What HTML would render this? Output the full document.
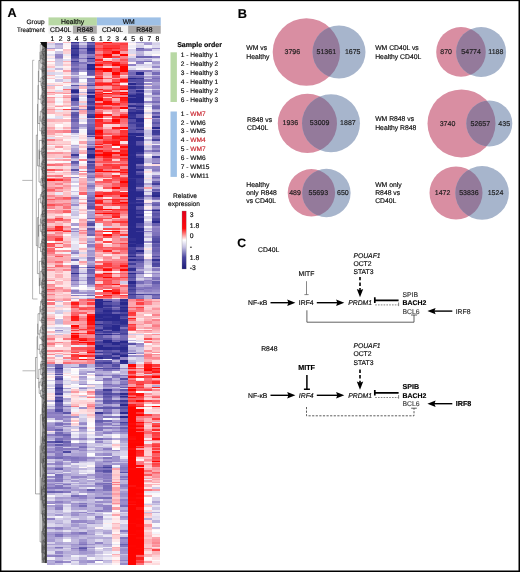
<!DOCTYPE html>
<html><head><meta charset="utf-8">
<style>
html,body{margin:0;padding:0;background:#fff;}
#root{position:relative;width:518px;height:570px;border:1px solid #000;overflow:hidden;box-shadow:inset 1px 0 0 rgba(0,0,0,.4),inset -1px 0 0 rgba(0,0,0,.5),inset 0 1px 0 rgba(0,0,0,.15),inset 0 -1px 0 rgba(0,0,0,.5);font-family:"Liberation Sans",sans-serif;color:#111;}
#heat{position:absolute;left:45.70px;top:41.00px;width:113.50px;height:522.50px;filter:blur(0.3px);}
.hc{position:absolute;top:0;height:100%;}
svg{position:absolute;left:-1px;top:-1px;will-change:transform;text-rendering:geometricPrecision;}
</style></head><body><div id="root">
<div id="heat"><div class="hc" style="left:0.00px;width:8.13px;background:linear-gradient(#fdc9cd 0 1.5px,#d4cee8 0 3.5px,#e2def0 0 6px,#a599d0 0 7.5px,#fdcbcf 0 9.5px,#f9f8fc 0 12px,#e0dcef 0 14px,#fee8ea 0 16px,#e5e1f1 0 17.5px,#fffafb 0 19px,#fdc3c8 0 20.5px,#fff5f5 0 22.5px,#fee0e2 0 24px,#fdc3c8 0 26px,#e6e3f2 0 28.5px,#fdc9cd 0 30px,#d8d3eb 0 32.5px,#fcbcc1 0 34px,#feeced 0 36.5px,#fdc7cc 0 37.5px,#faf9fc 0 40px,#fbfbfd 0 41px,#fdd5d9 0 43px,#c9c3e3 0 44.5px,#fdc0c5 0 47px,#fedee1 0 48px,#fedfe2 0 49.5px,#fa8a93 0 51.5px,#fdc0c5 0 52.5px,#fcb6bc 0 53.5px,#fef1f2 0 55px,#fb939c 0 56.5px,#fcbabf 0 59px,#fba5ac 0 61px,#fdd0d4 0 63px,#fdcfd2 0 64.5px,#fee0e2 0 65.5px,#fdc4c8 0 67px,#fb929a 0 68px,#fcbbc0 0 70px,#fcb7bd 0 72px,#fff6f7 0 74px,#f9f9fc 0 76px,#e2def0 0 77.5px,#fcaeb5 0 80px,#fdd8db 0 82.5px,#fdd1d5 0 85px,#fca7ae 0 87px,#fcbabf 0 88.5px,#fb9ba3 0 91px,#fba5ac 0 92.5px,#fdd5d9 0 94px,#fdcace 0 95px,#e3e0f0 0 97.5px,#fa7982 0 99.5px,#fdc7cb 0 101.5px,#fcacb3 0 103.5px,#f7f6fb 0 104.5px,#fdd8db 0 106.5px,#fdcbcf 0 108.5px,#fef2f3 0 110px,#fb929a 0 112.5px,#fcbfc4 0 114px,#fdc4c8 0 116px,#feebed 0 117px,#fcbac0 0 119px,#fff4f5 0 121px,#fdced2 0 122.5px,#fb6a72 0 124.5px,#fedddf 0 127px,#fc4f53 0 129px,#fdd2d5 0 130px,#fca7ae 0 131.5px,#fed9dc 0 133px,#fa7e88 0 135px,#fedfe1 0 136.5px,#fb717a 0 137.5px,#ff0d0a 0 139.5px,#fba3aa 0 141px,#fba6ad 0 143.5px,#fcabb2 0 145.5px,#fa8c95 0 147px,#fb6066 0 149.5px,#fa858f 0 150.5px,#fdc3c8 0 153px,#fa8690 0 155px,#fca9b0 0 157px,#fc565c 0 158.5px,#fb939b 0 160px,#fb9ea6 0 161px,#fb949c 0 162.5px,#fc5054 0 164.5px,#fa858e 0 167px,#fee4e6 0 168px,#fa8a93 0 169px,#fb9da4 0 171px,#fcbcc1 0 172.5px,#fdcdd1 0 174px,#fdd8db 0 176px,#fcb1b7 0 177.5px,#fb656c 0 179px,#fa7f89 0 181.5px,#fdc8cc 0 184px,#fb9fa6 0 186.5px,#fb6a71 0 187.5px,#fe2423 0 189px,#fa8c95 0 190.5px,#fdd0d4 0 192.5px,#fa8790 0 194.5px,#fb6b73 0 196.5px,#fb7078 0 199px,#ffffff 0 200.5px,#fc4a4e 0 202.5px,#fc585e 0 205px,#fcb1b8 0 206.5px,#fb6b72 0 208.5px,#fb6269 0 210.5px,#fa7a84 0 212px,#fb9ba3 0 214.5px,#fdc1c6 0 215.5px,#fba6ad 0 217.5px,#fb9fa6 0 219px,#fb949d 0 221.5px,#fcbec3 0 223.5px,#fdd5d8 0 225px,#fa838d 0 226px,#fdc0c5 0 227.5px,#fa8891 0 229.5px,#fdd7db 0 231px,#fdd8db 0 232.5px,#fdd7da 0 235px,#fee2e4 0 236px,#fdc5ca 0 238px,#fa808a 0 239.5px,#fee7e9 0 242px,#fa8891 0 243.5px,#fb959d 0 245.5px,#fca6ad 0 247px,#fc5156 0 248px,#fa8992 0 250.5px,#fcb9bf 0 252px,#fa7e88 0 253px,#fcb0b6 0 254px,#fcb8be 0 256px,#fcb9be 0 257.5px,#fa767f 0 259px,#fffcfc 0 260.5px,#fa767f 0 263px,#fee1e3 0 265px,#fcb9bf 0 266.5px,#fdd5d9 0 268px,#fdc9cd 0 270.5px,#f1f0f8 0 272.5px,#fdcfd3 0 274.5px,#fcbfc4 0 276px,#fb969e 0 277px,#fcb2b8 0 279.5px,#fdd5d8 0 282px,#fdc4c9 0 283.5px,#feeaec 0 285px,#dfdbee 0 287px,#fff9fa 0 288px,#fffcfc 0 289.5px,#fcb9bf 0 291.5px,#fee7e9 0 292.5px,#e9e6f3 0 293.5px,#fcafb6 0 296px,#fa7983 0 298px,#fdc1c6 0 299px,#fdced2 0 300.5px,#fba0a7 0 301.5px,#fa7a83 0 303px,#fcb4ba 0 305.5px,#fee4e6 0 308px,#fa838d 0 310px,#fdd1d4 0 311px,#fdd6da 0 312.5px,#fa8791 0 313.5px,#feebed 0 315px,#fca7ae 0 317px,#fdd5d8 0 318px,#fcb5ba 0 320.5px,#fa7d87 0 322.5px,#a296ce 0 325px,#e1ddef 0 326px,#9a8dca 0 327.5px,#b9b0da 0 329px,#d4cfe9 0 331px,#fee4e7 0 332px,#cfc9e6 0 333px,#fff9f9 0 334.5px,#fee4e6 0 336px,#fff8f9 0 338px,#cfc9e6 0 339.5px,#f6f5fa 0 342px,#e1ddef 0 343.5px,#d6d1ea 0 345px,#fff6f7 0 346.5px,#c4bce0 0 347.5px,#edebf6 0 349px,#eae7f4 0 351.5px,#fedbde 0 353px,#feeced 0 354.5px,#fedee0 0 355.5px,#feedef 0 356.5px,#fee2e4 0 358.5px,#b9b0da 0 360px,#fffafb 0 362px,#e0dcef 0 364px,#b9b0da 0 365px,#d6d1e9 0 367.5px,#9c90cb 0 370px,#887bc1 0 372.5px,#9486c7 0 374px,#8f81c5 0 376px,#d3cee8 0 378px,#f8f7fb 0 380px,#bab1db 0 381.5px,#a69bd1 0 383px,#9f94cd 0 384.5px,#9e91cc 0 385.5px,#9284c6 0 387.5px,#8e80c4 0 389px,#fee5e7 0 390px,#d6d1e9 0 392px,#8a7cc2 0 394px,#aba1d3 0 396px,#b7afda 0 398.5px,#d0cae6 0 399.5px,#5d56a9 0 401.5px,#a499d0 0 402.5px,#8b7ec2 0 404px,#a89ed2 0 405px,#bfb7de 0 406px,#9e92cc 0 408px,#a297cf 0 409.5px,#897bc1 0 411.5px,#b7aed9 0 414px,#897cc1 0 415px,#8175bd 0 417px,#d1cbe7 0 419px,#c7c0e2 0 420px,#e0dcef 0 421.5px,#9a8dca 0 423px,#d1cce7 0 425px,#a499d0 0 426.5px,#988bc9 0 428px,#bbb3dc 0 430px,#b4abd8 0 431px,#9385c6 0 432px,#edebf6 0 434px,#9386c7 0 436px,#d1cce7 0 437px,#9f93cd 0 438.5px,#9184c6 0 440px,#b5acd8 0 441px,#a59ad0 0 442px,#9183c5 0 443px,#9f93cd 0 445px,#8174bd 0 447.5px,#a59ad0 0 449px,#6860af 0 451.5px,#c1b9df 0 453.5px,#f8f7fb 0 455px,#d0cae6 0 457.5px,#e0dcef 0 459px,#a195ce 0 461px,#9588c8 0 462px,#fffbfb 0 463.5px,#a89dd2 0 465.5px,#bbb2db 0 468px,#cec8e6 0 470px,#d0cae6 0 471px,#bdb5dd 0 472.5px,#c1badf 0 474px,#e4e0f1 0 476.5px,#8e80c4 0 478.5px,#cac3e3 0 480.5px,#d9d4eb 0 482.5px,#dedaee 0 485px,#9a8dca 0 487px,#cac4e3 0 488.5px,#d1cce7 0 490px,#a79cd1 0 491.5px,#9b8ecb 0 493.5px,#a69bd1 0 495px,#aca2d4 0 497.5px,#a59ad0 0 500px,#d7d2ea 0 502px,#a89dd2 0 503.5px,#cec7e5 0 505px,#b5acd8 0 506px,#bbb2db 0 507.5px,#c3bce0 0 509.5px,#dfdcef 0 511.5px,#c2badf 0 513.5px,#9183c5 0 515.5px,#efedf7 0 517.5px,#ada3d4 0 519px,#b7afda 0 521px,#b1a7d6 0 522.5px)"></div>
<div class="hc" style="left:8.11px;width:8.13px;background:linear-gradient(#fbfbfd 0 1.5px,#a79cd1 0 3.5px,#c2badf 0 6px,#b7aed9 0 7.5px,#fdfcfe 0 9.5px,#ccc5e4 0 12px,#9386c7 0 14px,#8e80c4 0 16px,#a79cd1 0 17.5px,#c9c2e3 0 19px,#c7c0e2 0 20.5px,#cfc9e6 0 22.5px,#d0cae6 0 24px,#edebf6 0 26px,#bfb7de 0 28.5px,#fff3f4 0 30px,#e0ddef 0 32.5px,#fffcfc 0 34px,#e7e4f3 0 36.5px,#fef2f3 0 37.5px,#cbc4e4 0 40px,#fff6f7 0 41px,#fee2e4 0 43px,#fcb5bb 0 44.5px,#f7f7fb 0 47px,#fff3f4 0 48px,#e1ddef 0 49.5px,#fcadb3 0 51.5px,#fcb2b8 0 52.5px,#fffafb 0 53.5px,#f4f3f9 0 55px,#fdccd0 0 56.5px,#faf9fc 0 59px,#f0eef7 0 61px,#fbfbfd 0 63px,#fdcdd1 0 64.5px,#fb99a1 0 65.5px,#fff5f6 0 67px,#fcb7bc 0 68px,#ebe8f4 0 70px,#fdccd0 0 72px,#fdd3d7 0 74px,#e0ddef 0 76px,#dcd7ed 0 77.5px,#fcb8bd 0 80px,#fdd5d8 0 82.5px,#fffdfd 0 85px,#fee3e5 0 87px,#f3f1f8 0 88.5px,#fb9099 0 91px,#fed9dc 0 92.5px,#fdcfd3 0 94px,#fefdfe 0 95px,#fdd2d6 0 97.5px,#fcb5bb 0 99.5px,#fdd2d5 0 101.5px,#fcbec3 0 103.5px,#fdd5d8 0 104.5px,#fb969f 0 106.5px,#fff2f3 0 108.5px,#fee6e8 0 110px,#fb929a 0 112.5px,#fdc8cd 0 114px,#fdc8cd 0 116px,#e4e1f1 0 117px,#fcaab1 0 119px,#fffdfd 0 121px,#fba2aa 0 122.5px,#fa7983 0 124.5px,#fdd3d6 0 127px,#fa757e 0 129px,#f9f8fc 0 130px,#fdd8db 0 131.5px,#fdcfd3 0 133px,#fb737c 0 135px,#fdc5c9 0 136.5px,#fa7f89 0 137.5px,#fd3031 0 139.5px,#fcafb5 0 141px,#fa818b 0 143.5px,#fcbdc2 0 145.5px,#fb7179 0 147px,#fca8af 0 149.5px,#fa8791 0 150.5px,#ebe9f5 0 153px,#fca9b0 0 155px,#fa7780 0 157px,#fa7b85 0 158.5px,#fba4ab 0 160px,#fcb1b7 0 161px,#fb8d96 0 162.5px,#fb6f78 0 164.5px,#fcb1b8 0 167px,#fcb0b6 0 168px,#fb919a 0 169px,#fb8e96 0 171px,#fcaab1 0 172.5px,#fedfe1 0 174px,#fba3aa 0 176px,#fc4548 0 177.5px,#fc5156 0 179px,#fdc0c5 0 181.5px,#fcafb5 0 184px,#fe2828 0 186.5px,#fd3233 0 187.5px,#fe1513 0 189px,#fb9fa7 0 190.5px,#fa8891 0 192.5px,#fb9fa7 0 194.5px,#fb646b 0 196.5px,#fd3031 0 199px,#fdc4c9 0 200.5px,#fc5358 0 202.5px,#fdccd0 0 205px,#fc585d 0 206.5px,#fff8f8 0 208.5px,#fb98a0 0 210.5px,#fee2e4 0 212px,#fb8f98 0 214.5px,#fc575d 0 215.5px,#fca7ad 0 217.5px,#fcabb2 0 219px,#fb6b73 0 221.5px,#fba5ac 0 223.5px,#fb6167 0 225px,#fba2aa 0 226px,#fcbbc0 0 227.5px,#fcacb3 0 229.5px,#fcb8be 0 231px,#fedadd 0 232.5px,#fcafb5 0 235px,#fcb0b6 0 236px,#fdd1d4 0 238px,#feebed 0 239.5px,#fcb6bc 0 242px,#fdc1c6 0 243.5px,#fee9eb 0 245.5px,#fb8e96 0 247px,#fb9aa2 0 248px,#fcabb1 0 250.5px,#fdc6cb 0 252px,#fdd5d8 0 253px,#fcbfc4 0 254px,#fdd0d4 0 256px,#fcbdc2 0 257.5px,#fcacb3 0 259px,#c7c0e2 0 260.5px,#fee7e9 0 263px,#dbd7ec 0 265px,#fdd5d8 0 266.5px,#fee0e2 0 268px,#d2cce7 0 270.5px,#cdc7e5 0 272.5px,#f9f9fc 0 274.5px,#feeef0 0 276px,#fdfdfe 0 277px,#c2badf 0 279.5px,#c0b8de 0 282px,#e1ddef 0 283.5px,#f7f6fb 0 285px,#cec8e6 0 287px,#eae7f4 0 288px,#998dca 0 289.5px,#ccc6e5 0 291.5px,#feecee 0 292.5px,#c8c1e2 0 293.5px,#fdc7cc 0 296px,#fee8ea 0 298px,#feeced 0 299px,#fee9eb 0 300.5px,#fa858e 0 301.5px,#fdccd0 0 303px,#fffcfc 0 305.5px,#fedbde 0 308px,#fa7c86 0 310px,#feebed 0 311px,#fcafb6 0 312.5px,#fdd7da 0 313.5px,#c4bde0 0 315px,#feebed 0 317px,#fdd0d4 0 318px,#feeaec 0 320.5px,#fedcde 0 322.5px,#655cad 0 325px,#645bad 0 326px,#383695 0 327.5px,#665eae 0 329px,#7066b4 0 331px,#9b8ecb 0 332px,#524ca3 0 333px,#c4bde0 0 334.5px,#685faf 0 336px,#49459e 0 338px,#8c7ec3 0 339.5px,#988bc9 0 342px,#5952a7 0 343.5px,#665eae 0 345px,#4d48a0 0 346.5px,#353393 0 347.5px,#554fa5 0 349px,#625aac 0 351.5px,#3f3c99 0 353px,#a59ad0 0 354.5px,#9285c6 0 355.5px,#49459e 0 356.5px,#5d56a9 0 358.5px,#393795 0 360px,#6b62b1 0 362px,#6159ab 0 364px,#6a61b0 0 365px,#776cb7 0 367.5px,#544ea4 0 370px,#8276be 0 372.5px,#9588c8 0 374px,#8f81c4 0 376px,#8e80c4 0 378px,#ddd9ed 0 380px,#988bc9 0 381.5px,#786db8 0 383px,#8175bd 0 384.5px,#b8afda 0 385.5px,#a195ce 0 387.5px,#6a61b0 0 389px,#a79cd1 0 390px,#7167b4 0 392px,#7469b5 0 394px,#a195ce 0 396px,#766cb7 0 398.5px,#7a6fb9 0 399.5px,#46429c 0 401.5px,#afa5d5 0 402.5px,#5f58aa 0 404px,#9f93cd 0 405px,#8175bd 0 406px,#8276bd 0 408px,#8175bd 0 409.5px,#9487c7 0 411.5px,#877ac0 0 414px,#8376be 0 415px,#7066b4 0 417px,#b9b1db 0 419px,#a094cd 0 420px,#9184c6 0 421.5px,#8c7ec3 0 423px,#ada3d4 0 425px,#9285c6 0 426.5px,#685faf 0 428px,#c4bce0 0 430px,#b3aad7 0 431px,#cbc4e4 0 432px,#796eb9 0 434px,#7d72bb 0 436px,#8a7cc2 0 437px,#8175bd 0 438.5px,#8275bd 0 440px,#c3bbe0 0 441px,#9487c7 0 442px,#c0b9de 0 443px,#8276bd 0 445px,#7c70ba 0 447.5px,#bab1db 0 449px,#7066b4 0 451.5px,#cfc9e6 0 453.5px,#d6d1ea 0 455px,#a59ad0 0 457.5px,#b4abd8 0 459px,#8c7ec3 0 461px,#a79cd1 0 462px,#bab1db 0 463.5px,#978bc9 0 465.5px,#8b7ec2 0 468px,#c1badf 0 470px,#bdb5dd 0 471px,#cdc7e5 0 472.5px,#a398cf 0 474px,#f9f8fc 0 476.5px,#d4cfe9 0 478.5px,#c1badf 0 480.5px,#b1a8d6 0 482.5px,#d3cde8 0 485px,#8e80c4 0 487px,#9d90cc 0 488.5px,#c7c0e2 0 490px,#9d90cc 0 491.5px,#786db8 0 493.5px,#8074bc 0 495px,#b6acd9 0 497.5px,#c4bde0 0 500px,#ada3d4 0 502px,#aca2d4 0 503.5px,#c8c1e2 0 505px,#8074bc 0 506px,#a59ad0 0 507.5px,#cdc7e5 0 509.5px,#9588c8 0 511.5px,#bab1db 0 513.5px,#8a7cc2 0 515.5px,#c2badf 0 517.5px,#b4abd8 0 519px,#8d7fc3 0 521px,#c3bce0 0 522.5px)"></div>
<div class="hc" style="left:16.21px;width:8.13px;background:linear-gradient(#fcbdc3 0 1.5px,#f4f3f9 0 3.5px,#fff4f5 0 6px,#fdfdfe 0 7.5px,#fdc3c8 0 9.5px,#fdd2d5 0 12px,#eae7f4 0 14px,#feeef0 0 16px,#fffdfd 0 17.5px,#e2def0 0 19px,#fcb1b8 0 20.5px,#fee3e5 0 22.5px,#fdcace 0 24px,#fef0f1 0 26px,#fee5e7 0 28.5px,#fb9ea6 0 30px,#fedcdf 0 32.5px,#f8f7fb 0 34px,#fcb9be 0 36.5px,#fcaeb5 0 37.5px,#e6e3f2 0 40px,#fcaeb5 0 41px,#feeced 0 43px,#fff9f9 0 44.5px,#dbd7ec 0 47px,#fb6e76 0 48px,#fdc0c5 0 49.5px,#fcbfc4 0 51.5px,#fb949d 0 52.5px,#fffdfd 0 53.5px,#fcaeb4 0 55px,#fb9199 0 56.5px,#fdcfd3 0 59px,#fcb7bd 0 61px,#fdd5d8 0 63px,#fcb7bd 0 64.5px,#fdc2c7 0 65.5px,#fefefe 0 67px,#fd4245 0 68px,#fdd6d9 0 70px,#fdcdd1 0 72px,#fcaeb4 0 74px,#fedfe1 0 76px,#fffdfe 0 77.5px,#fcb8bd 0 80px,#feeeef 0 82.5px,#fee6e8 0 85px,#fcafb6 0 87px,#fedadd 0 88.5px,#fa7f89 0 91px,#f9f8fc 0 92.5px,#fee2e4 0 94px,#fdcfd3 0 95px,#fedcdf 0 97.5px,#fff4f5 0 99.5px,#fdd0d3 0 101.5px,#fcbec3 0 103.5px,#fef1f2 0 104.5px,#fdd5d8 0 106.5px,#fdcfd3 0 108.5px,#fef2f3 0 110px,#fcabb2 0 112.5px,#fcbec3 0 114px,#fb939c 0 116px,#f2f1f8 0 117px,#fb9aa2 0 119px,#f9f8fc 0 121px,#fb979f 0 122.5px,#fca6ad 0 124.5px,#fedfe2 0 127px,#fcb9bf 0 129px,#fee4e6 0 130px,#fcb7bc 0 131.5px,#fdc9cd 0 133px,#fee8ea 0 135px,#fa757e 0 136.5px,#fa8690 0 137.5px,#fb6b72 0 139.5px,#fb929a 0 141px,#fcbec3 0 143.5px,#fb959d 0 145.5px,#fca6ad 0 147px,#fcb9be 0 149.5px,#fdd5d9 0 150.5px,#fdc1c6 0 153px,#fdc1c6 0 155px,#fc5a5f 0 157px,#fb6e76 0 158.5px,#fcabb2 0 160px,#fcacb2 0 161px,#fa7a83 0 162.5px,#fb8d96 0 164.5px,#fb737b 0 167px,#fcbdc2 0 168px,#fb6970 0 169px,#fb5e64 0 171px,#fedfe1 0 172.5px,#fff6f6 0 174px,#fdcbcf 0 176px,#fdcacf 0 177.5px,#fa7780 0 179px,#fb9ea5 0 181.5px,#fedadd 0 184px,#fb9099 0 186.5px,#fcafb6 0 187.5px,#fb6970 0 189px,#fd3334 0 190.5px,#fcb9bf 0 192.5px,#fff5f6 0 194.5px,#fdd0d3 0 196.5px,#fdc8cd 0 199px,#fca7ae 0 200.5px,#fdc7cc 0 202.5px,#fa8b94 0 205px,#fcbec3 0 206.5px,#fffdfd 0 208.5px,#fa8c95 0 210.5px,#f2f1f8 0 212px,#fb9ba3 0 214.5px,#fcb4ba 0 215.5px,#fcadb4 0 217.5px,#fca9b0 0 219px,#fdc2c7 0 221.5px,#fbfafd 0 223.5px,#fb949c 0 225px,#fba1a9 0 226px,#fdc0c5 0 227.5px,#fa848e 0 229.5px,#fee1e3 0 231px,#fee0e3 0 232.5px,#fedbde 0 235px,#fee0e2 0 236px,#fdc7cb 0 238px,#fcbcc2 0 239.5px,#fedde0 0 242px,#fee1e3 0 243.5px,#fee3e5 0 245.5px,#fdccd0 0 247px,#fb98a0 0 248px,#fa8b94 0 250.5px,#fedfe1 0 252px,#fdc1c6 0 253px,#fcbfc4 0 254px,#fdc6ca 0 256px,#fca6ad 0 257.5px,#fb8f98 0 259px,#fffcfd 0 260.5px,#fcaeb4 0 263px,#fdd5d8 0 265px,#fdd0d4 0 266.5px,#fff3f4 0 268px,#e0dcef 0 270.5px,#fdd2d5 0 272.5px,#fedde0 0 274.5px,#fca8ae 0 276px,#fcaeb4 0 277px,#fcb5bb 0 279.5px,#fba4ab 0 282px,#fcbec3 0 283.5px,#fffefe 0 285px,#d4cee8 0 287px,#d8d3ea 0 288px,#e7e4f2 0 289.5px,#d8d3ea 0 291.5px,#e3e0f1 0 292.5px,#fdc8cd 0 293.5px,#fcbbc0 0 296px,#fa767e 0 298px,#fee1e3 0 299px,#fee2e5 0 300.5px,#fcb0b6 0 301.5px,#fcb5bb 0 303px,#fcbdc2 0 305.5px,#fedbde 0 308px,#fba5ac 0 310px,#fdccd0 0 311px,#fedbde 0 312.5px,#fb98a0 0 313.5px,#fee6e8 0 315px,#fa7f89 0 317px,#dbd7ec 0 318px,#fcaeb4 0 320.5px,#fb6e76 0 322.5px,#c5bee1 0 325px,#bdb5dd 0 326px,#eae7f4 0 327.5px,#dcd8ed 0 329px,#e7e4f2 0 331px,#fedde0 0 332px,#f8f7fb 0 333px,#fee2e4 0 334.5px,#fdfcfe 0 336px,#eeecf6 0 338px,#d7d2ea 0 339.5px,#e5e2f1 0 342px,#d2cde8 0 343.5px,#feedee 0 345px,#f2f0f8 0 346.5px,#a69bd0 0 347.5px,#e6e3f2 0 349px,#b5acd8 0 351.5px,#e8e5f3 0 353px,#f4f2f9 0 354.5px,#fee8ea 0 355.5px,#f4f2f9 0 356.5px,#afa5d5 0 358.5px,#c4bde0 0 360px,#eeecf6 0 362px,#c2bbdf 0 364px,#7c71ba 0 365px,#bdb5dd 0 367.5px,#a99ed2 0 370px,#5c55a9 0 372.5px,#bbb3dc 0 374px,#887bc1 0 376px,#aaa0d3 0 378px,#9b8ecb 0 380px,#cfc9e6 0 381.5px,#8b7dc2 0 383px,#c0b8de 0 384.5px,#9588c8 0 385.5px,#ccc6e4 0 387.5px,#bbb3dc 0 389px,#c3bce0 0 390px,#9b8fcb 0 392px,#6a61b0 0 394px,#8578bf 0 396px,#897bc1 0 398.5px,#a398cf 0 399.5px,#6960b0 0 401.5px,#8074bc 0 402.5px,#7a6fb9 0 404px,#9689c8 0 405px,#d2cce7 0 406px,#8578bf 0 408px,#a498cf 0 409.5px,#4c47a0 0 411.5px,#bbb2db 0 414px,#8376be 0 415px,#8477bf 0 417px,#9588c8 0 419px,#dbd7ec 0 420px,#b9b0da 0 421.5px,#b0a7d6 0 423px,#e1ddef 0 425px,#b0a6d6 0 426.5px,#b0a6d6 0 428px,#aaa0d3 0 430px,#e8e5f3 0 431px,#b0a7d6 0 432px,#a79cd1 0 434px,#c0b8de 0 436px,#c3bbe0 0 437px,#a79cd1 0 438.5px,#c8c1e2 0 440px,#d5d0e9 0 441px,#a89ed2 0 442px,#8276bd 0 443px,#b6add9 0 445px,#8578bf 0 447.5px,#aca2d4 0 449px,#8477be 0 451.5px,#e3dff0 0 453.5px,#ccc5e4 0 455px,#a99ed2 0 457.5px,#bbb3dc 0 459px,#a499d0 0 461px,#b1a7d6 0 462px,#ebe9f5 0 463.5px,#d2cde8 0 465.5px,#e2dff0 0 468px,#ebe9f5 0 470px,#d4cee8 0 471px,#bcb4dc 0 472.5px,#c3bce0 0 474px,#dbd7ec 0 476.5px,#cbc4e4 0 478.5px,#dad6ec 0 480.5px,#cec8e5 0 482.5px,#c6bee1 0 485px,#b1a7d6 0 487px,#b1a7d6 0 488.5px,#e6e3f2 0 490px,#b2a8d7 0 491.5px,#9b8fcb 0 493.5px,#ada3d4 0 495px,#d4cfe8 0 497.5px,#fbfbfd 0 500px,#b9b0da 0 502px,#b0a6d6 0 503.5px,#cac3e3 0 505px,#bcb4dc 0 506px,#dad5eb 0 507.5px,#cac3e3 0 509.5px,#b5acd8 0 511.5px,#c4bce0 0 513.5px,#bbb3dc 0 515.5px,#cbc4e4 0 517.5px,#e6e3f2 0 519px,#9a8dca 0 521px,#f3f1f9 0 522.5px)"></div>
<div class="hc" style="left:24.32px;width:8.13px;background:linear-gradient(#373594 0 1.5px,#7066b3 0 3.5px,#47439d 0 6px,#28288c 0 7.5px,#44409b 0 9.5px,#403c99 0 12px,#312f91 0 14px,#46429c 0 16px,#5b54a8 0 17.5px,#796eb9 0 19px,#413e9a 0 20.5px,#6c63b1 0 22.5px,#756ab6 0 24px,#897cc1 0 26px,#6a61b0 0 28.5px,#746ab6 0 30px,#a296ce 0 32.5px,#ddd9ed 0 34px,#afa5d5 0 36.5px,#887ac0 0 37.5px,#9082c5 0 40px,#a297cf 0 41px,#cdc7e5 0 43px,#5851a6 0 44.5px,#aca1d3 0 47px,#524ca3 0 48px,#28288c 0 49.5px,#28288c 0 51.5px,#7a6fb9 0 52.5px,#a69bd1 0 53.5px,#6058ab 0 55px,#5751a6 0 56.5px,#333292 0 59px,#7b6fb9 0 61px,#7f73bc 0 63px,#8a7dc2 0 64.5px,#c9c3e3 0 65.5px,#9285c6 0 67px,#49459e 0 68px,#bfb7dd 0 70px,#645cad 0 72px,#5851a6 0 74px,#655cad 0 76px,#8175bd 0 77.5px,#685faf 0 80px,#897bc1 0 82.5px,#877ac0 0 85px,#7268b5 0 87px,#a296ce 0 88.5px,#746ab6 0 91px,#d6d1ea 0 92.5px,#f3f2f9 0 94px,#d7d2ea 0 95px,#eceaf5 0 97.5px,#f4f3f9 0 99.5px,#f9f9fc 0 101.5px,#eeecf6 0 103.5px,#b0a6d6 0 104.5px,#c8c1e2 0 106.5px,#aaa0d3 0 108.5px,#a79cd1 0 110px,#9a8dca 0 112.5px,#3d3a97 0 114px,#8477be 0 116px,#b3aad7 0 117px,#ccc5e4 0 119px,#6058ab 0 121px,#6c63b1 0 122.5px,#9689c8 0 124.5px,#b8afda 0 127px,#5851a6 0 129px,#bbb3dc 0 130px,#a79cd1 0 131.5px,#bbb3dc 0 133px,#fff7f8 0 135px,#9487c7 0 136.5px,#e3dff0 0 137.5px,#e5e2f2 0 139.5px,#cfc9e6 0 141px,#fdfdfe 0 143.5px,#d6d1e9 0 145.5px,#f5f4fa 0 147px,#f8f7fb 0 149.5px,#cbc5e4 0 150.5px,#efedf7 0 153px,#cac3e3 0 155px,#8f81c4 0 157px,#bab1db 0 158.5px,#c7c0e2 0 160px,#bdb4dc 0 161px,#c6bfe1 0 162.5px,#9a8dca 0 164.5px,#dbd7ec 0 167px,#c8c1e2 0 168px,#e4e1f1 0 169px,#cdc7e5 0 171px,#ccc6e4 0 172.5px,#c7c0e2 0 174px,#eae7f4 0 176px,#d8d3eb 0 177.5px,#fafafc 0 179px,#fffafa 0 181.5px,#a99ed2 0 184px,#faf9fc 0 186.5px,#a59ad0 0 187.5px,#d0cbe7 0 189px,#9487c7 0 190.5px,#cdc7e5 0 192.5px,#cdc7e5 0 194.5px,#d7d2ea 0 196.5px,#e6e3f2 0 199px,#f2f0f8 0 200.5px,#f3f1f9 0 202.5px,#e3dff0 0 205px,#e3dff0 0 206.5px,#e4e1f1 0 208.5px,#aba0d3 0 210.5px,#8f81c5 0 212px,#dedaee 0 214.5px,#f6f5fa 0 215.5px,#c6bee1 0 217.5px,#7369b5 0 219px,#f0eef7 0 221.5px,#e8e5f3 0 223.5px,#625aac 0 225px,#4c47a0 0 226px,#6c63b1 0 227.5px,#7d71ba 0 229.5px,#7c71ba 0 231px,#2e2d8f 0 232.5px,#7d71bb 0 235px,#8f81c5 0 236px,#8e80c4 0 238px,#6b62b1 0 239.5px,#a99ed2 0 242px,#978ac9 0 243.5px,#bbb3dc 0 245.5px,#fafafd 0 247px,#cac3e3 0 248px,#8a7dc2 0 250.5px,#988bc9 0 252px,#f5f3fa 0 253px,#877ac0 0 254px,#fee0e2 0 256px,#beb6dd 0 257.5px,#feecee 0 259px,#fa8c95 0 260.5px,#fe1a18 0 263px,#fc565b 0 265px,#fd4143 0 266.5px,#fb9098 0 268px,#fa8790 0 270.5px,#fb646b 0 272.5px,#fb5b61 0 274.5px,#fe1412 0 276px,#fe1816 0 277px,#fe1a18 0 279.5px,#fba1a8 0 282px,#fcb7bc 0 283.5px,#ff0400 0 285px,#fd393b 0 287px,#fb99a1 0 288px,#fd3b3d 0 289.5px,#fba5ac 0 291.5px,#ff0400 0 292.5px,#fc5256 0 293.5px,#ff0400 0 296px,#fe1c1b 0 298px,#fa838d 0 299px,#fc4448 0 300.5px,#fd3738 0 301.5px,#fc4d52 0 303px,#f2f0f8 0 305.5px,#fc555a 0 308px,#fb6e76 0 310px,#fc484b 0 311px,#fdd4d7 0 312.5px,#fd4144 0 313.5px,#fd3536 0 315px,#fc4f54 0 317px,#fc4548 0 318px,#fcb0b7 0 320.5px,#fa858f 0 322.5px,#cdc7e5 0 325px,#988bc9 0 326px,#fffdfd 0 327.5px,#fff9fa 0 329px,#f9f9fc 0 331px,#fefeff 0 332px,#eeecf6 0 333px,#fff3f4 0 334.5px,#fedcde 0 336px,#fff3f4 0 338px,#fdd8db 0 339.5px,#d6d1ea 0 342px,#fffefe 0 343.5px,#f7f6fb 0 345px,#e6e3f2 0 346.5px,#fef2f3 0 347.5px,#fdc8cc 0 349px,#fb9ba2 0 351.5px,#fee5e7 0 353px,#fdc8cd 0 354.5px,#fdd8db 0 355.5px,#fedde0 0 356.5px,#fee7e8 0 358.5px,#fedde0 0 360px,#fdd2d5 0 362px,#fcbcc1 0 364px,#fa838c 0 365px,#e6e3f2 0 367.5px,#f4f2f9 0 370px,#fedee1 0 372.5px,#fcaeb5 0 374px,#a196ce 0 376px,#fee7e9 0 378px,#fdc1c5 0 380px,#fefefe 0 381.5px,#fdd1d5 0 383px,#fedbdd 0 384.5px,#c6bfe1 0 385.5px,#cfc9e6 0 387.5px,#feedef 0 389px,#c4bce0 0 390px,#f4f2f9 0 392px,#e1ddef 0 394px,#e9e7f4 0 396px,#a296ce 0 398.5px,#ebe8f4 0 399.5px,#fffefe 0 401.5px,#a397cf 0 402.5px,#9c90cb 0 404px,#a397cf 0 405px,#bdb5dd 0 406px,#877ac0 0 408px,#b9b0db 0 409.5px,#bab1db 0 411.5px,#aca2d4 0 414px,#998cca 0 415px,#7e72bb 0 417px,#8679c0 0 419px,#9b8fcb 0 420px,#9183c6 0 421.5px,#e9e6f3 0 423px,#c2badf 0 425px,#c6bfe1 0 426.5px,#b5acd8 0 428px,#c5bde0 0 430px,#bfb7de 0 431px,#bcb4dc 0 432px,#b7aed9 0 434px,#9082c5 0 436px,#a499cf 0 437px,#d2cce7 0 438.5px,#a69bd1 0 440px,#ddd9ed 0 441px,#b5acd9 0 442px,#d5d0e9 0 443px,#bab2db 0 445px,#aea4d5 0 447.5px,#a499d0 0 449px,#cbc4e4 0 451.5px,#bdb5dd 0 453.5px,#766bb7 0 455px,#9e91cc 0 457.5px,#ada2d4 0 459px,#cfc9e6 0 461px,#9d90cc 0 462px,#a599d0 0 463.5px,#a196ce 0 465.5px,#b0a6d6 0 468px,#d0cae6 0 470px,#9b8fcb 0 471px,#a196ce 0 472.5px,#9b8fcb 0 474px,#c1badf 0 476.5px,#dfdbee 0 478.5px,#9486c7 0 480.5px,#b6add9 0 482.5px,#a499d0 0 485px,#c9c2e3 0 487px,#bbb3dc 0 488.5px,#c2badf 0 490px,#9183c5 0 491.5px,#978ac9 0 493.5px,#a99ed2 0 495px,#b7aeda 0 497.5px,#c2badf 0 500px,#beb6dd 0 502px,#9f93cd 0 503.5px,#a99fd2 0 505px,#b1a8d6 0 506px,#9183c5 0 507.5px,#aea3d4 0 509.5px,#bab1db 0 511.5px,#b2a8d7 0 513.5px,#f1f0f8 0 515.5px,#dcd7ed 0 517.5px,#aba0d3 0 519px,#e2dff0 0 521px,#d6d1ea 0 522.5px)"></div>
<div class="hc" style="left:32.43px;width:8.13px;background:linear-gradient(#a499d0 0 1.5px,#d3cde8 0 3.5px,#aa9fd3 0 6px,#5d56a9 0 7.5px,#998cca 0 9.5px,#897cc1 0 12px,#aba1d3 0 14px,#afa5d5 0 16px,#7e72bb 0 17.5px,#b5abd8 0 19px,#b6add9 0 20.5px,#8074bc 0 22.5px,#9e92cd 0 24px,#998dca 0 26px,#8b7dc2 0 28.5px,#a69bd1 0 30px,#fffefe 0 32.5px,#d8d3eb 0 34px,#e5e2f1 0 36.5px,#c5bee1 0 37.5px,#fdfdfe 0 40px,#e4e1f1 0 41px,#fedcdf 0 43px,#a69bd1 0 44.5px,#fcb6bc 0 47px,#fbfafd 0 48px,#feebec 0 49.5px,#bfb7de 0 51.5px,#fdd7da 0 52.5px,#fdc0c5 0 53.5px,#d5d0e9 0 55px,#fffefe 0 56.5px,#eeecf6 0 59px,#fdc7cc 0 61px,#d8d3eb 0 63px,#fdc1c6 0 64.5px,#fb969f 0 65.5px,#fdd0d4 0 67px,#9e91cc 0 68px,#fb9fa7 0 70px,#fca9b0 0 72px,#fee1e4 0 74px,#efedf7 0 76px,#fdd4d8 0 77.5px,#e4e1f1 0 80px,#fff9f9 0 82.5px,#a79cd1 0 85px,#c9c2e3 0 87px,#fffbfb 0 88.5px,#f6f5fa 0 91px,#fff3f4 0 92.5px,#fedcde 0 94px,#fee4e6 0 95px,#fed9dc 0 97.5px,#feeeef 0 99.5px,#fba2aa 0 101.5px,#fee6e8 0 103.5px,#fedee0 0 104.5px,#fdc2c7 0 106.5px,#feecee 0 108.5px,#fcbbc0 0 110px,#fca7ae 0 112.5px,#fffbfc 0 114px,#eeecf6 0 116px,#f9f8fc 0 117px,#fa7e88 0 119px,#fefeff 0 121px,#f4f2f9 0 122.5px,#fee8e9 0 124.5px,#fca7ae 0 127px,#f6f4fa 0 129px,#fa7d86 0 130px,#fffbfb 0 131.5px,#fb9ba3 0 133px,#fdccd0 0 135px,#fff7f7 0 136.5px,#fcb3b9 0 137.5px,#fcb5bb 0 139.5px,#fcaeb4 0 141px,#fb9ea6 0 143.5px,#fcb7bd 0 145.5px,#fba2a9 0 147px,#fba5ac 0 149.5px,#fcbabf 0 150.5px,#fb6269 0 153px,#fffbfb 0 155px,#feedee 0 157px,#fcb0b6 0 158.5px,#fef2f3 0 160px,#fdc7cb 0 161px,#fb969e 0 162.5px,#fee4e6 0 164.5px,#fef0f1 0 167px,#fdc5c9 0 168px,#fcbfc4 0 169px,#fee1e3 0 171px,#fdc2c7 0 172.5px,#fffbfb 0 174px,#fff7f7 0 176px,#fee5e7 0 177.5px,#fba4ab 0 179px,#fcb8bd 0 181.5px,#fb9fa7 0 184px,#fcb9be 0 186.5px,#fdd7da 0 187.5px,#fa848e 0 189px,#fcb8bd 0 190.5px,#fb8e97 0 192.5px,#fdc2c7 0 194.5px,#fdd0d3 0 196.5px,#fcb6bb 0 199px,#fdd0d4 0 200.5px,#fb979f 0 202.5px,#fbfbfd 0 205px,#fef1f2 0 206.5px,#fcb7bc 0 208.5px,#fedddf 0 210.5px,#dcd7ec 0 212px,#fdd3d7 0 214.5px,#fdd0d4 0 215.5px,#d0cae6 0 217.5px,#ebe9f5 0 219px,#fb9fa6 0 221.5px,#fdc7cb 0 223.5px,#fefefe 0 225px,#a297cf 0 226px,#fee2e4 0 227.5px,#ddd8ed 0 229.5px,#d4cfe9 0 231px,#9183c6 0 232.5px,#e4e1f1 0 235px,#c3bce0 0 236px,#cec8e6 0 238px,#ada2d4 0 239.5px,#e1def0 0 242px,#bdb5dd 0 243.5px,#fefefe 0 245.5px,#fffcfc 0 247px,#fff7f7 0 248px,#c3bce0 0 250.5px,#9b8fcb 0 252px,#f3f2f9 0 253px,#9c8fcb 0 254px,#efedf6 0 256px,#d4cfe9 0 257.5px,#fa747d 0 259px,#fa8891 0 260.5px,#fa838d 0 263px,#fdcbcf 0 265px,#fb6167 0 266.5px,#fc4c50 0 268px,#fba5ac 0 270.5px,#fb5e64 0 272.5px,#fdc2c7 0 274.5px,#fa8d96 0 276px,#fb6c74 0 277px,#fa7881 0 279.5px,#fb9da5 0 282px,#fa8891 0 283.5px,#fb9da5 0 285px,#fa8b94 0 287px,#fd3c3e 0 288px,#fa8891 0 289.5px,#fcbac0 0 291.5px,#fc484c 0 292.5px,#fba2a9 0 293.5px,#fa818a 0 296px,#fe1d1c 0 298px,#ff0400 0 299px,#fa7881 0 300.5px,#ff0400 0 301.5px,#fb6970 0 303px,#e8e6f3 0 305.5px,#fc555a 0 308px,#fa747d 0 310px,#fedbde 0 311px,#fba5ac 0 312.5px,#fba4ac 0 313.5px,#fe1715 0 315px,#feeeef 0 317px,#ff0d0a 0 318px,#fcacb3 0 320.5px,#fb8e96 0 322.5px,#8074bc 0 325px,#9d91cc 0 326px,#efedf7 0 327.5px,#c8c1e2 0 329px,#b2a9d7 0 331px,#a498cf 0 332px,#a69ad0 0 333px,#eceaf5 0 334.5px,#a498cf 0 336px,#b4aad8 0 338px,#d3cee8 0 339.5px,#b9b0da 0 342px,#9184c6 0 343.5px,#fffefe 0 345px,#b5acd9 0 346.5px,#9285c6 0 347.5px,#d0cae6 0 349px,#fedddf 0 351.5px,#fefeff 0 353px,#fcb8be 0 354.5px,#c5bee1 0 355.5px,#fdd6d9 0 356.5px,#f3f1f9 0 358.5px,#fdd5d8 0 360px,#fdd0d4 0 362px,#fee2e5 0 364px,#fef1f2 0 365px,#9e92cc 0 367.5px,#fedee0 0 370px,#fee2e5 0 372.5px,#d8d4eb 0 374px,#e2dff0 0 376px,#cdc7e5 0 378px,#cdc7e5 0 380px,#a397cf 0 381.5px,#9588c8 0 383px,#cdc7e5 0 384.5px,#ccc6e4 0 385.5px,#897bc1 0 387.5px,#a99fd2 0 389px,#b2a8d7 0 390px,#d3cde8 0 392px,#b7aed9 0 394px,#b6add9 0 396px,#8e80c4 0 398.5px,#c9c3e3 0 399.5px,#d3cee8 0 401.5px,#877ac0 0 402.5px,#9e92cd 0 404px,#7f73bc 0 405px,#756ab6 0 406px,#9f93cd 0 408px,#9385c6 0 409.5px,#b1a7d6 0 411.5px,#a99ed2 0 414px,#9e92cd 0 415px,#8a7cc2 0 417px,#8a7dc2 0 419px,#bab2db 0 420px,#d1cbe7 0 421.5px,#e7e4f2 0 423px,#e0ddef 0 425px,#fff6f7 0 426.5px,#bdb5dd 0 428px,#e5e2f2 0 430px,#dad6ec 0 431px,#f9f8fc 0 432px,#bbb2db 0 434px,#9487c7 0 436px,#beb5dd 0 437px,#b5acd8 0 438.5px,#b9b1db 0 440px,#b3a9d7 0 441px,#a79dd1 0 442px,#ccc6e4 0 443px,#a89dd2 0 445px,#cfc9e6 0 447.5px,#9f93cd 0 449px,#a99ed2 0 451.5px,#f0eef7 0 453.5px,#887bc1 0 455px,#9082c5 0 457.5px,#aca2d4 0 459px,#c2bbdf 0 461px,#8074bc 0 462px,#9c8fcb 0 463.5px,#766cb7 0 465.5px,#aca1d3 0 468px,#ddd9ed 0 470px,#9385c6 0 471px,#c2badf 0 472.5px,#b8afda 0 474px,#c0b8de 0 476.5px,#c0b8de 0 478.5px,#9588c8 0 480.5px,#d2cde8 0 482.5px,#b7aeda 0 485px,#aba1d3 0 487px,#c8c1e2 0 488.5px,#cfc9e6 0 490px,#7b70ba 0 491.5px,#9285c6 0 493.5px,#bcb3dc 0 495px,#c3bce0 0 497.5px,#a297cf 0 500px,#9285c6 0 502px,#7e72bb 0 503.5px,#a99fd2 0 505px,#6b62b1 0 506px,#5b54a8 0 507.5px,#8578bf 0 509.5px,#a398cf 0 511.5px,#aea4d5 0 513.5px,#e0dcef 0 515.5px,#b8b0da 0 517.5px,#a79cd1 0 519px,#a59ad0 0 521px,#b7aed9 0 522.5px)"></div>
<div class="hc" style="left:40.54px;width:8.13px;background:linear-gradient(#4c47a0 0 1.5px,#7469b6 0 3.5px,#4b469f 0 6px,#28288c 0 7.5px,#2f2e90 0 9.5px,#45419c 0 12px,#8f81c5 0 14px,#7a6fb9 0 16px,#28288c 0 17.5px,#6d63b2 0 19px,#635bac 0 20.5px,#978bc9 0 22.5px,#28288c 0 24px,#2f2e90 0 26px,#28288c 0 28.5px,#5b54a8 0 30px,#6058ab 0 32.5px,#7b6fb9 0 34px,#eae7f4 0 36.5px,#7066b4 0 37.5px,#8074bc 0 40px,#a297cf 0 41px,#7f73bc 0 43px,#4f49a1 0 44.5px,#a398cf 0 47px,#635bad 0 48px,#5751a6 0 49.5px,#28288c 0 51.5px,#544ea4 0 52.5px,#a195ce 0 53.5px,#28288c 0 55px,#29298d 0 56.5px,#5852a7 0 59px,#3d3a98 0 61px,#4e49a1 0 63px,#7167b4 0 64.5px,#48449e 0 65.5px,#373594 0 67px,#353393 0 68px,#7268b5 0 70px,#7b70ba 0 72px,#403d99 0 74px,#353393 0 76px,#a89dd1 0 77.5px,#766bb7 0 80px,#8276bd 0 82.5px,#6d63b2 0 85px,#645cad 0 87px,#6059ab 0 88.5px,#554fa5 0 91px,#47439d 0 92.5px,#9a8dca 0 94px,#514ca3 0 95px,#bdb4dc 0 97.5px,#c5bee1 0 99.5px,#9f94cd 0 101.5px,#7f73bc 0 103.5px,#b3a9d7 0 104.5px,#8376be 0 106.5px,#28288c 0 108.5px,#544ea4 0 110px,#5852a7 0 112.5px,#28288c 0 114px,#28288c 0 116px,#655dad 0 117px,#9285c6 0 119px,#403c99 0 121px,#8174bd 0 122.5px,#534da4 0 124.5px,#5e56a9 0 127px,#7f73bc 0 129px,#4f49a1 0 130px,#7369b5 0 131.5px,#a79cd1 0 133px,#8d7fc4 0 135px,#756ab6 0 136.5px,#a89ed2 0 137.5px,#a69bd0 0 139.5px,#c8c1e2 0 141px,#a196ce 0 143.5px,#8175bd 0 145.5px,#998cca 0 147px,#b2a9d7 0 149.5px,#bfb7de 0 150.5px,#9689c8 0 153px,#887bc1 0 155px,#766bb7 0 157px,#8175bd 0 158.5px,#5a53a7 0 160px,#8d80c4 0 161px,#7067b4 0 162.5px,#6e64b2 0 164.5px,#5b54a8 0 167px,#9487c7 0 168px,#ddd9ed 0 169px,#a89ed2 0 171px,#aea4d5 0 172.5px,#a499d0 0 174px,#a89dd1 0 176px,#796eb8 0 177.5px,#d3cee8 0 179px,#746ab6 0 181.5px,#524ca3 0 184px,#bbb2db 0 186.5px,#5f57aa 0 187.5px,#7a6fb9 0 189px,#8578bf 0 190.5px,#877ac0 0 192.5px,#6c63b1 0 194.5px,#e6e3f2 0 196.5px,#b6add9 0 199px,#9d91cc 0 200.5px,#cbc5e4 0 202.5px,#897bc1 0 205px,#a99ed2 0 206.5px,#c5bee1 0 208.5px,#9d91cc 0 210.5px,#a89dd2 0 212px,#a599d0 0 214.5px,#bab1db 0 215.5px,#8175bd 0 217.5px,#8c7fc3 0 219px,#b7aeda 0 221.5px,#a499cf 0 223.5px,#8a7dc2 0 225px,#3d3a98 0 226px,#9f93cd 0 227.5px,#665eae 0 229.5px,#6f65b3 0 231px,#6860af 0 232.5px,#9285c6 0 235px,#5952a7 0 236px,#6b62b1 0 238px,#6f65b3 0 239.5px,#756ab6 0 242px,#8c7fc3 0 243.5px,#afa5d5 0 245.5px,#e4e0f1 0 247px,#f0eef7 0 248px,#aba0d3 0 250.5px,#9c8fcb 0 252px,#b9b0da 0 253px,#7066b3 0 254px,#e0dcef 0 256px,#a397cf 0 257.5px,#fc4649 0 259px,#fb979f 0 260.5px,#fd3d40 0 263px,#fba4ab 0 265px,#fc4f53 0 266.5px,#fc5a5f 0 268px,#fb969e 0 270.5px,#fcabb2 0 272.5px,#fe1c1b 0 274.5px,#ff0400 0 276px,#ff0501 0 277px,#ff0400 0 279.5px,#fe1310 0 282px,#ff0b08 0 283.5px,#fd4143 0 285px,#fe2929 0 287px,#fc4447 0 288px,#fb5e64 0 289.5px,#fe2322 0 291.5px,#ff0b07 0 292.5px,#fb737c 0 293.5px,#fa8c95 0 296px,#fc4a4e 0 298px,#fc4d51 0 299px,#fb676e 0 300.5px,#ff0703 0 301.5px,#fe1614 0 303px,#fb8e97 0 305.5px,#fc4a4e 0 308px,#fd3739 0 310px,#ff0501 0 311px,#fb6c74 0 312.5px,#fb6e76 0 313.5px,#fd2e2e 0 315px,#fb99a1 0 317px,#fd4043 0 318px,#fa8791 0 320.5px,#fa7f89 0 322.5px,#bab1db 0 325px,#c3bbe0 0 326px,#e1ddef 0 327.5px,#d3cee8 0 329px,#9f94cd 0 331px,#fefdfe 0 332px,#dbd6ec 0 333px,#fedfe2 0 334.5px,#fffdfd 0 336px,#e4e0f1 0 338px,#fef2f3 0 339.5px,#fbfafd 0 342px,#b9b0da 0 343.5px,#fedee1 0 345px,#c4bce0 0 346.5px,#ccc5e4 0 347.5px,#fee2e4 0 349px,#fa848e 0 351.5px,#fca7ae 0 353px,#fff3f4 0 354.5px,#fcb8bd 0 355.5px,#fa7a83 0 356.5px,#feecee 0 358.5px,#fedfe1 0 360px,#fdc0c5 0 362px,#fb8f98 0 364px,#fa7982 0 365px,#fca8af 0 367.5px,#fdc8cc 0 370px,#fedcde 0 372.5px,#fcb9be 0 374px,#fdd6d9 0 376px,#fef1f2 0 378px,#fff3f4 0 380px,#fffafb 0 381.5px,#fffcfd 0 383px,#fffcfc 0 384.5px,#fdfdfe 0 385.5px,#fee4e6 0 387.5px,#faf9fc 0 389px,#dad6ec 0 390px,#fff4f5 0 392px,#e3e0f1 0 394px,#efedf7 0 396px,#c4bde0 0 398.5px,#e7e4f3 0 399.5px,#fdfdfe 0 401.5px,#ccc6e4 0 402.5px,#d1cbe7 0 404px,#c7c0e2 0 405px,#b9b1db 0 406px,#e1ddef 0 408px,#bab2db 0 409.5px,#d3cde8 0 411.5px,#fdfdfe 0 414px,#e5e2f2 0 415px,#998cca 0 417px,#b3a9d7 0 419px,#c2badf 0 420px,#e4e0f1 0 421.5px,#e8e6f3 0 423px,#fff7f7 0 425px,#d6d0e9 0 426.5px,#d5cfe9 0 428px,#f1eff8 0 430px,#e8e5f3 0 431px,#e0dcef 0 432px,#a296ce 0 434px,#bdb5dd 0 436px,#bab1db 0 437px,#efedf7 0 438.5px,#aea4d5 0 440px,#cac3e3 0 441px,#c0b8de 0 442px,#d0cae7 0 443px,#a498cf 0 445px,#edebf6 0 447.5px,#685faf 0 449px,#978bc9 0 451.5px,#c2badf 0 453.5px,#b6acd9 0 455px,#ada2d4 0 457.5px,#c6bfe1 0 459px,#c3bce0 0 461px,#b4abd8 0 462px,#b4abd8 0 463.5px,#c0b9de 0 465.5px,#bab1db 0 468px,#b6add9 0 470px,#d4cfe9 0 471px,#9d90cc 0 472.5px,#b6acd9 0 474px,#e3dff0 0 476.5px,#d7d2ea 0 478.5px,#a89dd1 0 480.5px,#988bc9 0 482.5px,#d5d0e9 0 485px,#c5bde0 0 487px,#c4bde0 0 488.5px,#aea4d5 0 490px,#b4aad8 0 491.5px,#a499cf 0 493.5px,#c1b9de 0 495px,#b1a8d6 0 497.5px,#c2badf 0 500px,#bfb7de 0 502px,#9c90cb 0 503.5px,#c0b8de 0 505px,#9a8dca 0 506px,#c7c0e2 0 507.5px,#b4abd8 0 509.5px,#a89dd1 0 511.5px,#bcb4dc 0 513.5px,#bbb2db 0 515.5px,#f4f3f9 0 517.5px,#9f94cd 0 519px,#9a8ecb 0 521px,#dcd8ed 0 522.5px)"></div>
<div class="hc" style="left:48.64px;width:8.13px;background:linear-gradient(#fb676e 0 1.5px,#fd4043 0 3.5px,#fb636a 0 6px,#fd3c3e 0 7.5px,#fc5257 0 9.5px,#fa8992 0 12px,#fc494d 0 14px,#fb7179 0 16px,#fb737c 0 17.5px,#fe1e1d 0 19px,#fb6f78 0 20.5px,#fc474a 0 22.5px,#ff0400 0 24px,#fa7881 0 26px,#ff0400 0 28.5px,#fd3133 0 30px,#fc4b4f 0 32.5px,#fb6f78 0 34px,#fc464a 0 36.5px,#ff0400 0 37.5px,#fa7881 0 40px,#fd3e40 0 41px,#fe2525 0 43px,#fd2f30 0 44.5px,#fb9fa6 0 47px,#fe1918 0 48px,#fa747d 0 49.5px,#fd2a2a 0 51.5px,#fd3c3e 0 52.5px,#fe1e1d 0 53.5px,#fd2d2d 0 55px,#fe2221 0 56.5px,#ff0400 0 59px,#fb9099 0 61px,#fe1c1b 0 63px,#fc4c50 0 64.5px,#fc4b4e 0 65.5px,#fe2929 0 67px,#fb929b 0 68px,#fa7780 0 70px,#fc585d 0 72px,#ff0400 0 74px,#ff0b08 0 76px,#fcbfc4 0 77.5px,#fe2121 0 80px,#fd3436 0 82.5px,#fd3334 0 85px,#fb6c73 0 87px,#fc4d51 0 88.5px,#ff0400 0 91px,#fe1210 0 92.5px,#fd4043 0 94px,#fe1a19 0 95px,#ff0400 0 97.5px,#fa7982 0 99.5px,#fc5257 0 101.5px,#fe1d1c 0 103.5px,#fb929a 0 104.5px,#fe2525 0 106.5px,#fa7780 0 108.5px,#fe1513 0 110px,#fc4d51 0 112.5px,#ff0906 0 114px,#fc4b4f 0 116px,#fa7f89 0 117px,#fa7982 0 119px,#fc585d 0 121px,#fb979f 0 122.5px,#fb8d96 0 124.5px,#fc5055 0 127px,#fe201f 0 129px,#ff0400 0 130px,#fa868f 0 131.5px,#fb7179 0 133px,#fc555a 0 135px,#fa747d 0 136.5px,#fdcbcf 0 137.5px,#fee6e8 0 139.5px,#fb636a 0 141px,#fa848e 0 143.5px,#fcb0b7 0 145.5px,#feeced 0 147px,#feeff0 0 149.5px,#fa838c 0 150.5px,#fc4548 0 153px,#ff0400 0 155px,#fb979f 0 157px,#fc585e 0 158.5px,#fe1f1e 0 160px,#fe1d1c 0 161px,#fe2727 0 162.5px,#fba1a9 0 164.5px,#fd3031 0 167px,#fe1817 0 168px,#fb646b 0 169px,#fb666d 0 171px,#fe1a18 0 172.5px,#fca7ae 0 174px,#fa818b 0 176px,#fc494d 0 177.5px,#fc5055 0 179px,#fb747c 0 181.5px,#efedf6 0 184px,#f7f6fb 0 186.5px,#fee4e6 0 187.5px,#fa8b94 0 189px,#fc4c50 0 190.5px,#fa808a 0 192.5px,#fb676e 0 194.5px,#fb939c 0 196.5px,#fb5b61 0 199px,#fdc4c8 0 200.5px,#fb8f97 0 202.5px,#fb5e64 0 205px,#fc5459 0 206.5px,#fb6066 0 208.5px,#fa7c85 0 210.5px,#fcbcc1 0 212px,#fcacb2 0 214.5px,#fba1a8 0 215.5px,#fdc6cb 0 217.5px,#fff3f4 0 219px,#fb6b72 0 221.5px,#fdc1c6 0 223.5px,#fc4447 0 225px,#fd3537 0 226px,#fd3e40 0 227.5px,#fa7882 0 229.5px,#feeaec 0 231px,#fba1a8 0 232.5px,#fd3132 0 235px,#fb5b61 0 236px,#fa7780 0 238px,#fc5b60 0 239.5px,#fdced2 0 242px,#fd4042 0 243.5px,#fb5d63 0 245.5px,#fa7a84 0 247px,#fb6e76 0 248px,#fdfdfe 0 250.5px,#fb6c74 0 252px,#fb7179 0 253px,#feecee 0 254px,#fd4245 0 256px,#fb8e97 0 257.5px,#28288c 0 259px,#2d2d8f 0 260.5px,#28288c 0 263px,#28288c 0 265px,#28288c 0 266.5px,#45419c 0 268px,#49449e 0 270.5px,#3d3a97 0 272.5px,#28288c 0 274.5px,#28288c 0 276px,#353393 0 277px,#28288c 0 279.5px,#655cad 0 282px,#28288c 0 283.5px,#5952a7 0 285px,#6960b0 0 287px,#3e3b98 0 288px,#28288c 0 289.5px,#504aa2 0 291.5px,#7469b6 0 292.5px,#302f90 0 293.5px,#5f58aa 0 296px,#5953a7 0 298px,#7d71ba 0 299px,#514ba2 0 300.5px,#43409b 0 301.5px,#4d48a0 0 303px,#28288c 0 305.5px,#28288c 0 308px,#7b70ba 0 310px,#393795 0 311px,#8578bf 0 312.5px,#8d7fc4 0 313.5px,#403d99 0 315px,#28288c 0 317px,#cdc7e5 0 318px,#675eaf 0 320.5px,#4c47a0 0 322.5px,#685faf 0 325px,#aea4d4 0 326px,#4a469f 0 327.5px,#9d90cc 0 329px,#b5acd8 0 331px,#b1a8d7 0 332px,#9d91cc 0 333px,#776cb7 0 334.5px,#c5bde1 0 336px,#c7c0e2 0 338px,#9a8dca 0 339.5px,#fafafd 0 342px,#c4bde0 0 343.5px,#d3cee8 0 345px,#d7d2ea 0 346.5px,#e1ddef 0 347.5px,#9285c6 0 349px,#756bb6 0 351.5px,#776cb7 0 353px,#aba1d3 0 354.5px,#a095ce 0 355.5px,#9285c6 0 356.5px,#dad5ec 0 358.5px,#998cca 0 360px,#c3bbe0 0 362px,#9d91cc 0 364px,#b5acd8 0 365px,#5f57aa 0 367.5px,#c0b8de 0 370px,#3b3896 0 372.5px,#8e80c4 0 374px,#9689c8 0 376px,#9b8ecb 0 378px,#625aac 0 380px,#7066b4 0 381.5px,#877ac0 0 383px,#8c7ec3 0 384.5px,#a79cd1 0 385.5px,#7c71ba 0 387.5px,#8376be 0 389px,#bfb7dd 0 390px,#a99ed2 0 392px,#a99ed2 0 394px,#e7e4f2 0 396px,#7167b4 0 398.5px,#bab1db 0 399.5px,#9385c7 0 401.5px,#c4bce0 0 402.5px,#c9c3e3 0 404px,#dfdbee 0 405px,#aea3d4 0 406px,#b6add9 0 408px,#aca1d3 0 409.5px,#cdc7e5 0 411.5px,#a297cf 0 414px,#e2def0 0 415px,#a79cd1 0 417px,#cbc5e4 0 419px,#ada3d4 0 420px,#a59ad0 0 421.5px,#9f93cd 0 423px,#978ac9 0 425px,#665eae 0 426.5px,#8377be 0 428px,#6c62b1 0 430px,#9689c8 0 431px,#9487c7 0 432px,#9285c6 0 434px,#8e80c4 0 436px,#a89dd1 0 437px,#9f93cd 0 438.5px,#bdb5dc 0 440px,#a79cd1 0 441px,#8376be 0 442px,#8276be 0 443px,#9d91cc 0 445px,#bab1db 0 447.5px,#9689c8 0 449px,#a196ce 0 451.5px,#aba1d3 0 453.5px,#aca1d4 0 455px,#776cb7 0 457.5px,#d9d5eb 0 459px,#988bc9 0 461px,#beb6dd 0 462px,#9c90cb 0 463.5px,#978ac9 0 465.5px,#b9b0da 0 468px,#8b7dc2 0 470px,#dcd8ed 0 471px,#c7c0e2 0 472.5px,#c5bee1 0 474px,#887bc1 0 476.5px,#9e91cc 0 478.5px,#bcb4dc 0 480.5px,#b3aad7 0 482.5px,#d3cee8 0 485px,#fff5f5 0 487px,#c0b8de 0 488.5px,#c2bbdf 0 490px,#d6d1ea 0 491.5px,#eeecf6 0 493.5px,#c9c3e3 0 495px,#b6add9 0 497.5px,#dedaee 0 500px,#9284c6 0 502px,#bab2db 0 503.5px,#ccc6e4 0 505px,#dedaee 0 506px,#fffafa 0 507.5px,#dbd7ec 0 509.5px,#c1b9de 0 511.5px,#e6e2f2 0 513.5px,#d2cce7 0 515.5px,#ddd9ed 0 517.5px,#8d7fc3 0 519px,#fffefe 0 521px,#dcd7ec 0 522.5px)"></div>
<div class="hc" style="left:56.75px;width:8.13px;background:linear-gradient(#ff0400 0 1.5px,#fc555a 0 3.5px,#fd393b 0 6px,#fe1a18 0 7.5px,#fd3638 0 9.5px,#fc484c 0 12px,#ff0400 0 14px,#fe1614 0 16px,#feedee 0 17.5px,#fdcacf 0 19px,#fe2121 0 20.5px,#fc4245 0 22.5px,#fb666d 0 24px,#fdd4d8 0 26px,#ff0400 0 28.5px,#ff0400 0 30px,#fba6ad 0 32.5px,#fcabb2 0 34px,#fdc1c6 0 36.5px,#fb6168 0 37.5px,#fcbfc4 0 40px,#fb6167 0 41px,#fe1f1f 0 43px,#fc5459 0 44.5px,#fca9b0 0 47px,#fb7078 0 48px,#fd3839 0 49.5px,#fee3e5 0 51.5px,#ff0400 0 52.5px,#fb636a 0 53.5px,#fc575c 0 55px,#fdcbcf 0 56.5px,#fc4d51 0 59px,#ff0e0b 0 61px,#ff0e0b 0 63px,#fa8c95 0 64.5px,#fb6d74 0 65.5px,#fd3436 0 67px,#fb6f77 0 68px,#fcb1b7 0 70px,#fee2e5 0 72px,#fe2626 0 74px,#fb9199 0 76px,#fefefe 0 77.5px,#fb737c 0 80px,#fd3335 0 82.5px,#fdd6d9 0 85px,#fcbac0 0 87px,#fa7c86 0 88.5px,#fa7881 0 91px,#fc5358 0 92.5px,#fcb7bd 0 94px,#fb5e64 0 95px,#fb6067 0 97.5px,#fc4d51 0 99.5px,#fe2625 0 101.5px,#fa8892 0 103.5px,#fc5a60 0 104.5px,#fb6167 0 106.5px,#fb6a71 0 108.5px,#fc4c51 0 110px,#ff0b07 0 112.5px,#ff0400 0 114px,#fe1918 0 116px,#fc4c50 0 117px,#fd3739 0 119px,#fc555a 0 121px,#fa838d 0 122.5px,#fd383a 0 124.5px,#fc4c50 0 127px,#fa7882 0 129px,#ff0400 0 130px,#fa747c 0 131.5px,#fb929b 0 133px,#fa7982 0 135px,#fb6168 0 136.5px,#fdd8db 0 137.5px,#fc484c 0 139.5px,#fc565b 0 141px,#fb8f98 0 143.5px,#fa858f 0 145.5px,#fc5b61 0 147px,#fee9eb 0 149.5px,#fdcacf 0 150.5px,#fd2d2e 0 153px,#fc595f 0 155px,#fee9eb 0 157px,#fd3e40 0 158.5px,#fb9aa2 0 160px,#fa838c 0 161px,#fc5459 0 162.5px,#fb656c 0 164.5px,#fdc2c7 0 167px,#ff0400 0 168px,#fb9aa2 0 169px,#fc555a 0 171px,#ff0400 0 172.5px,#fa757e 0 174px,#fb939b 0 176px,#fc494d 0 177.5px,#fcbcc1 0 179px,#fa767f 0 181.5px,#fa7d86 0 184px,#d6d1ea 0 186.5px,#fc474b 0 187.5px,#f0eef7 0 189px,#fe1715 0 190.5px,#fffbfc 0 192.5px,#ff0c09 0 194.5px,#fc4a4d 0 196.5px,#feeced 0 199px,#fc4448 0 200.5px,#fff8f8 0 202.5px,#fdccd0 0 205px,#fc595e 0 206.5px,#fb6e76 0 208.5px,#fe2828 0 210.5px,#fb9ca4 0 212px,#feeef0 0 214.5px,#fb9da5 0 215.5px,#fa8c95 0 217.5px,#fb9da5 0 219px,#fb6268 0 221.5px,#fd393b 0 223.5px,#fd3c3e 0 225px,#fa7b85 0 226px,#fe2726 0 227.5px,#ff0703 0 229.5px,#fcb4ba 0 231px,#ff0a07 0 232.5px,#fc4a4e 0 235px,#ff0400 0 236px,#fb6269 0 238px,#fc484c 0 239.5px,#fc5257 0 242px,#fd4144 0 243.5px,#fa7c85 0 245.5px,#fb666e 0 247px,#feeaec 0 248px,#ff0805 0 250.5px,#fc585e 0 252px,#fb737c 0 253px,#fe1a19 0 254px,#fc4e53 0 256px,#fb959d 0 257.5px,#786db8 0 259px,#28288c 0 260.5px,#524da3 0 263px,#353393 0 265px,#5852a7 0 266.5px,#3c3997 0 268px,#28288c 0 270.5px,#343293 0 272.5px,#28288c 0 274.5px,#323192 0 276px,#28288c 0 277px,#28288c 0 279.5px,#4b469f 0 282px,#3d3a98 0 283.5px,#3d3a98 0 285px,#2f2e90 0 287px,#373594 0 288px,#7066b3 0 289.5px,#3d3a98 0 291.5px,#655dae 0 292.5px,#28288c 0 293.5px,#8175bd 0 296px,#5a53a7 0 298px,#28288c 0 299px,#28288c 0 300.5px,#28288c 0 301.5px,#45419c 0 303px,#4b479f 0 305.5px,#28288c 0 308px,#5851a6 0 310px,#4d48a0 0 311px,#5d56a9 0 312.5px,#5e56a9 0 313.5px,#403d99 0 315px,#433f9b 0 317px,#f7f6fb 0 318px,#615aac 0 320.5px,#413e9a 0 322.5px,#7c71ba 0 325px,#8276bd 0 326px,#544ea4 0 327.5px,#766bb7 0 329px,#b4abd8 0 331px,#bdb5dd 0 332px,#b6add9 0 333px,#9385c7 0 334.5px,#d1cbe7 0 336px,#7b6fb9 0 338px,#8578bf 0 339.5px,#a398cf 0 342px,#776cb7 0 343.5px,#9183c6 0 345px,#aea4d5 0 346.5px,#a499d0 0 347.5px,#3d3a97 0 349px,#645cad 0 351.5px,#4c47a0 0 353px,#6960b0 0 354.5px,#5750a6 0 355.5px,#6059ab 0 356.5px,#7469b6 0 358.5px,#5750a6 0 360px,#6058ab 0 362px,#aaa0d3 0 364px,#8679c0 0 365px,#5c55a9 0 367.5px,#887bc1 0 370px,#6e64b2 0 372.5px,#bfb7de 0 374px,#7b70ba 0 376px,#fafafd 0 378px,#6e65b3 0 380px,#afa5d5 0 381.5px,#877ac0 0 383px,#a89dd1 0 384.5px,#d1cce7 0 385.5px,#8679c0 0 387.5px,#c4bce0 0 389px,#9f93cd 0 390px,#8c7fc3 0 392px,#e0dcef 0 394px,#d0cbe7 0 396px,#8c7ec3 0 398.5px,#d5d0e9 0 399.5px,#cac4e3 0 401.5px,#b5abd8 0 402.5px,#dedaee 0 404px,#d3cee8 0 405px,#bcb3dc 0 406px,#897cc1 0 408px,#a89ed2 0 409.5px,#bcb4dc 0 411.5px,#978ac9 0 414px,#eeecf6 0 415px,#8276bd 0 417px,#a79cd1 0 419px,#8578bf 0 420px,#a196ce 0 421.5px,#aca2d4 0 423px,#6f65b3 0 425px,#45419c 0 426.5px,#7d72bb 0 428px,#5751a6 0 430px,#6960af 0 431px,#9a8dca 0 432px,#8679bf 0 434px,#8c7ec3 0 436px,#877ac0 0 437px,#9d91cc 0 438.5px,#897cc1 0 440px,#b8afda 0 441px,#7369b5 0 442px,#8b7dc2 0 443px,#756ab6 0 445px,#766bb7 0 447.5px,#7c71ba 0 449px,#a99fd2 0 451.5px,#988bc9 0 453.5px,#b2a8d7 0 455px,#756bb6 0 457.5px,#b3a9d7 0 459px,#9c90cb 0 461px,#cec7e5 0 462px,#cec8e6 0 463.5px,#9082c5 0 465.5px,#8c7fc3 0 468px,#988cc9 0 470px,#e0dcef 0 471px,#fbfbfd 0 472.5px,#d9d4eb 0 474px,#efedf7 0 476.5px,#d6d1ea 0 478.5px,#f0eef7 0 480.5px,#feeced 0 482.5px,#f3f2f9 0 485px,#eeecf6 0 487px,#e2def0 0 488.5px,#b4abd8 0 490px,#aca1d3 0 491.5px,#d8d3eb 0 493.5px,#e9e6f3 0 495px,#b2a9d7 0 497.5px,#c4bde0 0 500px,#c4bce0 0 502px,#aaa0d3 0 503.5px,#bab1db 0 505px,#eceaf5 0 506px,#beb6dd 0 507.5px,#c8c1e2 0 509.5px,#e1ddef 0 511.5px,#fffdfd 0 513.5px,#dcd7ed 0 515.5px,#eeebf6 0 517.5px,#bdb5dd 0 519px,#c7c0e2 0 521px,#e7e4f2 0 522.5px)"></div>
<div class="hc" style="left:64.86px;width:8.13px;background:linear-gradient(#fb8e97 0 1.5px,#fc4d51 0 3.5px,#fd393b 0 6px,#fe2525 0 7.5px,#fc5459 0 9.5px,#ff0400 0 12px,#fba2a9 0 14px,#fd4043 0 16px,#c4bce0 0 17.5px,#fa8b94 0 19px,#fa7881 0 20.5px,#fe1d1c 0 22.5px,#ff0805 0 24px,#fb949d 0 26px,#fd4245 0 28.5px,#fc4549 0 30px,#ff0400 0 32.5px,#fc4649 0 34px,#fd4043 0 36.5px,#fb9fa7 0 37.5px,#fc4f54 0 40px,#fe1a19 0 41px,#fb656b 0 43px,#fe2828 0 44.5px,#fc575c 0 47px,#fd3031 0 48px,#fa828c 0 49.5px,#fd3435 0 51.5px,#fd3637 0 52.5px,#fc484c 0 53.5px,#fa828c 0 55px,#fe2323 0 56.5px,#fcaeb4 0 59px,#fa7a83 0 61px,#fe201f 0 63px,#fc494d 0 64.5px,#fa858f 0 65.5px,#fc5459 0 67px,#fa808a 0 68px,#fa818b 0 70px,#fb9099 0 72px,#fb9ca4 0 74px,#fd2a2a 0 76px,#fc565c 0 77.5px,#ff0501 0 80px,#fe2727 0 82.5px,#fdccd0 0 85px,#fe1d1c 0 87px,#fb6168 0 88.5px,#fa848e 0 91px,#fb676f 0 92.5px,#fc474b 0 94px,#fe1412 0 95px,#fe1917 0 97.5px,#fd383a 0 99.5px,#fe1c1b 0 101.5px,#ff0400 0 103.5px,#fe2222 0 104.5px,#fefeff 0 106.5px,#fc5055 0 108.5px,#fca8af 0 110px,#ff100d 0 112.5px,#fb6f77 0 114px,#fc494d 0 116px,#fb666d 0 117px,#fdced2 0 119px,#fb6167 0 121px,#fca7ae 0 122.5px,#fd4245 0 124.5px,#fd3637 0 127px,#fba3aa 0 129px,#fe1210 0 130px,#fb676e 0 131.5px,#fee2e4 0 133px,#fd2f30 0 135px,#fc4a4e 0 136.5px,#fc4b4f 0 137.5px,#fb5e64 0 139.5px,#fa8c95 0 141px,#fb5d63 0 143.5px,#fb6369 0 145.5px,#ff0c09 0 147px,#fb929b 0 149.5px,#fc5054 0 150.5px,#fd3739 0 153px,#fb6c74 0 155px,#fa7e88 0 157px,#fe2625 0 158.5px,#fd3334 0 160px,#fc4548 0 161px,#fe1816 0 162.5px,#fc4a4e 0 164.5px,#fdd7db 0 167px,#fd3030 0 168px,#fc4d51 0 169px,#fc5459 0 171px,#fe1a19 0 172.5px,#fd3638 0 174px,#fe201f 0 176px,#fcbfc4 0 177.5px,#fa838c 0 179px,#fd3c3e 0 181.5px,#fcb4ba 0 184px,#fcbbc1 0 186.5px,#fc4447 0 187.5px,#fcabb1 0 189px,#ff0400 0 190.5px,#fc474a 0 192.5px,#fb6e76 0 194.5px,#fa8992 0 196.5px,#fb959e 0 199px,#fb969f 0 200.5px,#fb6b73 0 202.5px,#fba1a9 0 205px,#fb666d 0 206.5px,#fb5e65 0 208.5px,#fca9b0 0 210.5px,#fc555a 0 212px,#fdc3c8 0 214.5px,#fcbfc4 0 215.5px,#fdd1d4 0 217.5px,#fa8b94 0 219px,#fa757e 0 221.5px,#fb6c74 0 223.5px,#fb5f65 0 225px,#fc5155 0 226px,#fc5358 0 227.5px,#fa818b 0 229.5px,#fff8f9 0 231px,#fb7179 0 232.5px,#fdc2c6 0 235px,#fc5358 0 236px,#fb5c62 0 238px,#fa7f88 0 239.5px,#fa7f89 0 242px,#fe1412 0 243.5px,#fca9b0 0 245.5px,#fb6f77 0 247px,#fd3c3e 0 248px,#fd2b2c 0 250.5px,#ff0400 0 252px,#fb5d63 0 253px,#fb6c74 0 254px,#fa848e 0 256px,#fee6e8 0 257.5px,#8b7dc2 0 259px,#7a6fb9 0 260.5px,#625aac 0 263px,#4f4aa2 0 265px,#8578bf 0 266.5px,#6960af 0 268px,#393796 0 270.5px,#675faf 0 272.5px,#28288c 0 274.5px,#28288c 0 276px,#28288c 0 277px,#28288c 0 279.5px,#393795 0 282px,#47439d 0 283.5px,#28288c 0 285px,#28288c 0 287px,#28288c 0 288px,#28288c 0 289.5px,#4e49a1 0 291.5px,#9486c7 0 292.5px,#4c47a0 0 293.5px,#a296ce 0 296px,#897cc1 0 298px,#625aac 0 299px,#6a61b0 0 300.5px,#28288c 0 301.5px,#28288c 0 303px,#4b469f 0 305.5px,#2e2d8f 0 308px,#6b62b1 0 310px,#544ea4 0 311px,#363494 0 312.5px,#2b2a8d 0 313.5px,#6f65b3 0 315px,#313091 0 317px,#786db8 0 318px,#b7aed9 0 320.5px,#786db8 0 322.5px,#534da3 0 325px,#8275bd 0 326px,#46429c 0 327.5px,#8a7dc2 0 329px,#e9e6f4 0 331px,#c6bfe1 0 332px,#a69bd1 0 333px,#796eb8 0 334.5px,#877ac0 0 336px,#b5acd9 0 338px,#a499d0 0 339.5px,#c0b8de 0 342px,#988bc9 0 343.5px,#8a7cc2 0 345px,#c5bee1 0 346.5px,#a69bd1 0 347.5px,#8679c0 0 349px,#b1a7d6 0 351.5px,#5a53a7 0 353px,#776cb7 0 354.5px,#8c7fc3 0 355.5px,#9f93cd 0 356.5px,#bdb5dd 0 358.5px,#5a53a8 0 360px,#7a6fb9 0 362px,#b9b0da 0 364px,#a89ed2 0 365px,#5e57aa 0 367.5px,#b7aed9 0 370px,#ada2d4 0 372.5px,#eae8f4 0 374px,#8377be 0 376px,#e6e3f2 0 378px,#a397cf 0 380px,#8f81c5 0 381.5px,#bcb4dc 0 383px,#8a7dc2 0 384.5px,#c6bfe1 0 385.5px,#9385c6 0 387.5px,#b1a8d7 0 389px,#9183c6 0 390px,#b6add9 0 392px,#f6f5fa 0 394px,#fff7f8 0 396px,#b0a7d6 0 398.5px,#fff5f6 0 399.5px,#fff9fa 0 401.5px,#ebe8f4 0 402.5px,#fdc3c7 0 404px,#fee3e6 0 405px,#fee9eb 0 406px,#fdfdfe 0 408px,#9689c8 0 409.5px,#cac3e3 0 411.5px,#d1cbe7 0 414px,#9b8fcb 0 415px,#9f93cd 0 417px,#a094cd 0 419px,#9d91cc 0 420px,#cfc9e6 0 421.5px,#a195ce 0 423px,#f6f5fa 0 425px,#cbc5e4 0 426.5px,#fba1a9 0 428px,#fdd1d4 0 430px,#fdd1d4 0 431px,#fdd2d5 0 432px,#fdc1c5 0 434px,#fdcdd1 0 436px,#fdd6d9 0 437px,#fcb9be 0 438.5px,#fdd2d6 0 440px,#fa7b85 0 441px,#fdcdd1 0 442px,#fa828c 0 443px,#fdd7da 0 445px,#fba0a8 0 447.5px,#fba1a9 0 449px,#fcbabf 0 451.5px,#fb9ca4 0 453.5px,#fcb4ba 0 455px,#fdc8cd 0 457.5px,#fcaab0 0 459px,#fcb7bc 0 461px,#fb8e97 0 462px,#fdc9cd 0 463.5px,#feedee 0 465.5px,#fb9ca3 0 468px,#fffbfb 0 470px,#fee3e6 0 471px,#fedde0 0 472.5px,#fba3aa 0 474px,#feeeef 0 476.5px,#fee3e6 0 478.5px,#feeced 0 480.5px,#fcb9bf 0 482.5px,#fdd1d5 0 485px,#fcbdc2 0 487px,#fdd7da 0 488.5px,#fee5e7 0 490px,#fff3f4 0 491.5px,#fcb8bd 0 493.5px,#fdcfd3 0 495px,#fdcdd1 0 497.5px,#fee8ea 0 500px,#fffafa 0 502px,#e5e2f1 0 503.5px,#fff3f4 0 505px,#fcafb5 0 506px,#fcbec3 0 507.5px,#fcb7bd 0 509.5px,#f1eff8 0 511.5px,#fcaeb4 0 513.5px,#fdd5d8 0 515.5px,#fff3f4 0 517.5px,#fdc9cd 0 519px,#fee2e4 0 521px,#fff4f5 0 522.5px)"></div>
<div class="hc" style="left:72.96px;width:8.13px;background:linear-gradient(#fb949d 0 1.5px,#fd3c3f 0 3.5px,#fc5155 0 6px,#fc595e 0 7.5px,#fc5256 0 9.5px,#fb9ca4 0 12px,#ff0400 0 14px,#fa848d 0 16px,#fa7c86 0 17.5px,#fc5358 0 19px,#fb7179 0 20.5px,#fb5e64 0 22.5px,#fd2b2c 0 24px,#ff0400 0 26px,#ff0400 0 28.5px,#ff0400 0 30px,#fb656b 0 32.5px,#fdd6d9 0 34px,#fca9b0 0 36.5px,#fb5f66 0 37.5px,#fe1513 0 40px,#fb666d 0 41px,#fef0f2 0 43px,#fb656c 0 44.5px,#fd3738 0 47px,#ff0400 0 48px,#fcbfc4 0 49.5px,#ff0400 0 51.5px,#fd3030 0 52.5px,#ff0400 0 53.5px,#fa8a93 0 55px,#ff0703 0 56.5px,#fe1a18 0 59px,#fd3638 0 61px,#fc5459 0 63px,#fb646b 0 64.5px,#fa7e87 0 65.5px,#ff0400 0 67px,#fedbde 0 68px,#fdccd0 0 70px,#fa828c 0 72px,#fd3435 0 74px,#ff0400 0 76px,#fc5a60 0 77.5px,#fb666d 0 80px,#fb737c 0 82.5px,#fa8c95 0 85px,#ff0400 0 87px,#fdc0c5 0 88.5px,#fd3435 0 91px,#fd3a3c 0 92.5px,#fd2c2c 0 94px,#ff0704 0 95px,#fd2d2e 0 97.5px,#fe2525 0 99.5px,#fee3e5 0 101.5px,#fb6168 0 103.5px,#fc5256 0 104.5px,#ff0e0b 0 106.5px,#fc484c 0 108.5px,#fe2121 0 110px,#fe2727 0 112.5px,#ff0602 0 114px,#fc5b60 0 116px,#fe2524 0 117px,#fc4549 0 119px,#fb6b73 0 121px,#fa7881 0 122.5px,#fd3b3d 0 124.5px,#fb9099 0 127px,#fd2c2c 0 129px,#fc474b 0 130px,#fe110e 0 131.5px,#fc585e 0 133px,#fba4ac 0 135px,#fc5054 0 136.5px,#fd383a 0 137.5px,#fd3233 0 139.5px,#ff0400 0 141px,#fd3031 0 143.5px,#fd3335 0 145.5px,#fb6d74 0 147px,#fa7a83 0 149.5px,#feeaeb 0 150.5px,#fe2828 0 153px,#ff0400 0 155px,#fb9098 0 157px,#fd2b2b 0 158.5px,#fa767f 0 160px,#ff0400 0 161px,#fe2524 0 162.5px,#fc4448 0 164.5px,#fb676e 0 167px,#fd3435 0 168px,#fc4548 0 169px,#fb727a 0 171px,#fb737c 0 172.5px,#fb959d 0 174px,#fcbbc0 0 176px,#fb9099 0 177.5px,#fb6c74 0 179px,#fd3638 0 181.5px,#fb666d 0 184px,#fdc2c7 0 186.5px,#fa7a84 0 187.5px,#fdd2d6 0 189px,#fa848e 0 190.5px,#fba5ac 0 192.5px,#fd3536 0 194.5px,#cfc9e6 0 196.5px,#fb727b 0 199px,#fb969e 0 200.5px,#fd3f42 0 202.5px,#fa7881 0 205px,#fb6870 0 206.5px,#fc5358 0 208.5px,#fb727b 0 210.5px,#fa7e87 0 212px,#fdc2c7 0 214.5px,#fa828b 0 215.5px,#fa7780 0 217.5px,#fa8b94 0 219px,#fb727a 0 221.5px,#fc5257 0 223.5px,#fe1411 0 225px,#fc5a60 0 226px,#fc5055 0 227.5px,#ff0400 0 229.5px,#fa8992 0 231px,#fb5c62 0 232.5px,#fa7a83 0 235px,#fd3f42 0 236px,#fa7e87 0 238px,#fb9099 0 239.5px,#d0cae6 0 242px,#fdcbcf 0 243.5px,#fb636a 0 245.5px,#fb9ba3 0 247px,#fb9ea6 0 248px,#fa8a93 0 250.5px,#fb6e76 0 252px,#fee4e7 0 253px,#fd3d40 0 254px,#fb727b 0 256px,#fba4ab 0 257.5px,#313091 0 259px,#413e9a 0 260.5px,#28288c 0 263px,#433f9b 0 265px,#28288c 0 266.5px,#363493 0 268px,#28288c 0 270.5px,#4f49a1 0 272.5px,#323091 0 274.5px,#4f49a1 0 276px,#5953a7 0 277px,#313091 0 279.5px,#2e2d8f 0 282px,#373594 0 283.5px,#47439d 0 285px,#8073bc 0 287px,#534da4 0 288px,#4d48a0 0 289.5px,#5851a6 0 291.5px,#46429c 0 292.5px,#504aa2 0 293.5px,#786db8 0 296px,#746ab6 0 298px,#5b54a8 0 299px,#28288c 0 300.5px,#28288c 0 301.5px,#423e9a 0 303px,#393795 0 305.5px,#28288c 0 308px,#353393 0 310px,#504ba2 0 311px,#5750a6 0 312.5px,#3d3a98 0 313.5px,#28288c 0 315px,#9689c8 0 317px,#9386c7 0 318px,#28288c 0 320.5px,#2f2e90 0 322.5px,#d6d1ea 0 325px,#d5d0e9 0 326px,#988bc9 0 327.5px,#c7c0e2 0 329px,#bbb2db 0 331px,#c0b8de 0 332px,#cec8e5 0 333px,#8478bf 0 334.5px,#aa9fd2 0 336px,#524ca3 0 338px,#9c90cb 0 339.5px,#897cc1 0 342px,#6d63b2 0 343.5px,#998cca 0 345px,#6f65b3 0 346.5px,#d2cce7 0 347.5px,#5e57aa 0 349px,#8d7fc3 0 351.5px,#2c2b8e 0 353px,#6a61b0 0 354.5px,#2c2c8e 0 355.5px,#534da3 0 356.5px,#8a7dc2 0 358.5px,#3b3896 0 360px,#5f58aa 0 362px,#2b2a8d 0 364px,#6a61b0 0 365px,#534da4 0 367.5px,#6b62b1 0 370px,#2b2a8e 0 372.5px,#9e92cc 0 374px,#28288c 0 376px,#8a7dc2 0 378px,#8b7dc2 0 380px,#45419c 0 381.5px,#6960b0 0 383px,#7d71bb 0 384.5px,#9e92cc 0 385.5px,#6960b0 0 387.5px,#8a7dc2 0 389px,#7f73bc 0 390px,#9a8eca 0 392px,#c5bee1 0 394px,#c1b9df 0 396px,#9b8fcb 0 398.5px,#a498cf 0 399.5px,#b0a6d5 0 401.5px,#c7c0e2 0 402.5px,#bcb4dc 0 404px,#cfc9e6 0 405px,#b6add9 0 406px,#bdb4dc 0 408px,#ccc5e4 0 409.5px,#dad6ec 0 411.5px,#dad5ec 0 414px,#f5f3fa 0 415px,#e7e4f3 0 417px,#b8b0da 0 419px,#a69cd1 0 420px,#c3bbe0 0 421.5px,#9c8fcb 0 423px,#9184c6 0 425px,#8175bd 0 426.5px,#8578bf 0 428px,#9284c6 0 430px,#5a53a7 0 431px,#b8afda 0 432px,#aca2d4 0 434px,#8376be 0 436px,#a499cf 0 437px,#877ac0 0 438.5px,#bdb5dd 0 440px,#b9b0da 0 441px,#bcb4dc 0 442px,#9487c7 0 443px,#8e80c4 0 445px,#9f93cd 0 447.5px,#c0b8de 0 449px,#a69bd0 0 451.5px,#9a8dca 0 453.5px,#9e92cc 0 455px,#b3a9d7 0 457.5px,#8e80c4 0 459px,#9a8dca 0 461px,#9a8dca 0 462px,#9588c8 0 463.5px,#796eb8 0 465.5px,#b6add9 0 468px,#a195ce 0 470px,#ddd8ed 0 471px,#c4bce0 0 472.5px,#ccc6e4 0 474px,#9e92cd 0 476.5px,#aca1d3 0 478.5px,#e6e3f2 0 480.5px,#edebf6 0 482.5px,#cac3e3 0 485px,#cfcae6 0 487px,#c8c2e3 0 488.5px,#8477be 0 490px,#b5acd8 0 491.5px,#e6e3f2 0 493.5px,#cfcae6 0 495px,#8074bc 0 497.5px,#9d90cc 0 500px,#9588c8 0 502px,#6860af 0 503.5px,#8377be 0 505px,#b5abd8 0 506px,#a195ce 0 507.5px,#998dca 0 509.5px,#a195ce 0 511.5px,#c7c0e2 0 513.5px,#ada3d4 0 515.5px,#a99fd2 0 517.5px,#9082c5 0 519px,#b3a9d7 0 521px,#968ac8 0 522.5px)"></div>
<div class="hc" style="left:81.07px;width:8.13px;background:linear-gradient(#e6e3f2 0 1.5px,#fff6f7 0 3.5px,#efedf6 0 6px,#faf9fc 0 7.5px,#d8d3eb 0 9.5px,#dcd8ed 0 12px,#fedee1 0 14px,#dad5ec 0 16px,#b3aad7 0 17.5px,#b0a6d6 0 19px,#b1a8d6 0 20.5px,#fff5f6 0 22.5px,#8f81c5 0 24px,#e9e6f3 0 26px,#dad6ec 0 28.5px,#8578bf 0 30px,#7167b4 0 32.5px,#8679bf 0 34px,#635bac 0 36.5px,#28288c 0 37.5px,#514ca3 0 40px,#786db8 0 41px,#28288c 0 43px,#6a61b0 0 44.5px,#313091 0 47px,#6159ab 0 48px,#5a54a8 0 49.5px,#655dae 0 51.5px,#5751a6 0 52.5px,#44409b 0 53.5px,#28288c 0 55px,#4d48a0 0 56.5px,#28288c 0 59px,#28288c 0 61px,#6d63b2 0 63px,#323091 0 64.5px,#28288c 0 65.5px,#7167b4 0 67px,#3b3896 0 68px,#44409b 0 70px,#2a298d 0 72px,#333192 0 74px,#383695 0 76px,#28288c 0 77.5px,#554fa5 0 80px,#433f9b 0 82.5px,#5c55a9 0 85px,#625aac 0 87px,#514ba2 0 88.5px,#5751a6 0 91px,#28288c 0 92.5px,#363494 0 94px,#28288c 0 95px,#28288c 0 97.5px,#28288c 0 99.5px,#2a298d 0 101.5px,#2b2a8d 0 103.5px,#28288c 0 104.5px,#28288c 0 106.5px,#28288c 0 108.5px,#28288c 0 110px,#28288c 0 112.5px,#2c2b8e 0 114px,#28288c 0 116px,#28288c 0 117px,#28288c 0 119px,#28288c 0 121px,#28288c 0 122.5px,#28288c 0 124.5px,#28288c 0 127px,#28288c 0 129px,#28288c 0 130px,#28288c 0 131.5px,#28288c 0 133px,#28288c 0 135px,#28288c 0 136.5px,#353393 0 137.5px,#2b2a8d 0 139.5px,#28288c 0 141px,#28288c 0 143.5px,#28288c 0 145.5px,#28288c 0 147px,#2b2a8e 0 149.5px,#28288c 0 150.5px,#28288c 0 153px,#28288c 0 155px,#28288c 0 157px,#28288c 0 158.5px,#2b2b8e 0 160px,#302f90 0 161px,#313091 0 162.5px,#28288c 0 164.5px,#2a2a8d 0 167px,#28288c 0 168px,#28288c 0 169px,#28288c 0 171px,#28288c 0 172.5px,#28288c 0 174px,#28288c 0 176px,#28288c 0 177.5px,#28288c 0 179px,#28288c 0 181.5px,#28288c 0 184px,#2a2a8d 0 186.5px,#28288c 0 187.5px,#28288c 0 189px,#28288c 0 190.5px,#28288c 0 192.5px,#28288c 0 194.5px,#28288c 0 196.5px,#323191 0 199px,#28288c 0 200.5px,#363494 0 202.5px,#28288c 0 205px,#47439d 0 206.5px,#44409c 0 208.5px,#3b3997 0 210.5px,#383695 0 212px,#4c47a0 0 214.5px,#28288c 0 215.5px,#625aac 0 217.5px,#28288c 0 219px,#6b61b1 0 221.5px,#403d99 0 223.5px,#7268b5 0 225px,#665eae 0 226px,#302f90 0 227.5px,#313091 0 229.5px,#776cb7 0 231px,#28288c 0 232.5px,#5a53a7 0 235px,#48449e 0 236px,#645cad 0 238px,#6d64b2 0 239.5px,#28288c 0 242px,#49449e 0 243.5px,#3d3a98 0 245.5px,#544ea4 0 247px,#3e3b98 0 248px,#504ba2 0 250.5px,#645cad 0 252px,#393795 0 253px,#5952a7 0 254px,#5952a7 0 256px,#5f58aa 0 257.5px,#fa8a93 0 259px,#fb98a0 0 260.5px,#fca7ae 0 263px,#fca7ae 0 265px,#fb6066 0 266.5px,#fb9ba3 0 268px,#fb737b 0 270.5px,#fd3536 0 272.5px,#fd3d40 0 274.5px,#fba3aa 0 276px,#fe1f1e 0 277px,#fb6970 0 279.5px,#fca6ad 0 282px,#fd393b 0 283.5px,#fc5a60 0 285px,#fd4144 0 287px,#fd3536 0 288px,#fb6269 0 289.5px,#feeced 0 291.5px,#fdcbcf 0 292.5px,#cfc9e6 0 293.5px,#fdccd0 0 296px,#f8f7fb 0 298px,#bdb4dc 0 299px,#faf9fc 0 300.5px,#d2cce7 0 301.5px,#5a53a7 0 303px,#cfc9e6 0 305.5px,#bfb7de 0 308px,#a499cf 0 310px,#c1badf 0 311px,#554fa5 0 312.5px,#f5f4fa 0 313.5px,#9a8dca 0 315px,#e3e0f1 0 317px,#e0dcef 0 318px,#c0b8de 0 320.5px,#aca2d4 0 322.5px,#ff0400 0 325px,#fc4e52 0 326px,#fe1412 0 327.5px,#fa8891 0 329px,#fe2626 0 331px,#fd3335 0 332px,#fb7078 0 333px,#fc5256 0 334.5px,#ff0d0a 0 336px,#fa828c 0 338px,#fc5156 0 339.5px,#fb6066 0 342px,#fba1a8 0 343.5px,#fb9ba3 0 345px,#ff0b08 0 346.5px,#fd4245 0 347.5px,#ff0400 0 349px,#fc4d51 0 351.5px,#fe1816 0 353px,#fc5055 0 354.5px,#fb686f 0 355.5px,#ff0e0b 0 356.5px,#fc595f 0 358.5px,#fd3738 0 360px,#fb7078 0 362px,#fe1d1c 0 364px,#ff100e 0 365px,#ff0400 0 367.5px,#ff0400 0 370px,#ff0400 0 372.5px,#ff0400 0 374px,#ff0400 0 376px,#ff0400 0 378px,#ff0400 0 380px,#ff0400 0 381.5px,#ff0a07 0 383px,#ff0400 0 384.5px,#ff0400 0 385.5px,#ff0a06 0 387.5px,#ff0400 0 389px,#ff0400 0 390px,#ff0400 0 392px,#ff0400 0 394px,#ff0906 0 396px,#ff0d0a 0 398.5px,#ff0400 0 399.5px,#ff0703 0 401.5px,#ff0400 0 402.5px,#ff0400 0 404px,#ff0400 0 405px,#ff0400 0 406px,#ff100d 0 408px,#ff0400 0 409.5px,#ff0501 0 411.5px,#ff0400 0 414px,#ff0703 0 415px,#ff0400 0 417px,#ff0501 0 419px,#ff0400 0 420px,#ff0400 0 421.5px,#ff0400 0 423px,#ff0400 0 425px,#ff0400 0 426.5px,#ff0906 0 428px,#ff0400 0 430px,#ff0400 0 431px,#ff0400 0 432px,#ff0400 0 434px,#ff0400 0 436px,#ff0400 0 437px,#ff0400 0 438.5px,#ff0400 0 440px,#ff0400 0 441px,#ff0400 0 442px,#ff0400 0 443px,#fe110f 0 445px,#ff0400 0 447.5px,#ff0400 0 449px,#ff0400 0 451.5px,#ff0400 0 453.5px,#ff0400 0 455px,#ff0602 0 457.5px,#ff0400 0 459px,#ff0906 0 461px,#ff0400 0 462px,#fe1310 0 463.5px,#ff0400 0 465.5px,#ff0400 0 468px,#ff0400 0 470px,#ff0400 0 471px,#ff0400 0 472.5px,#ff0400 0 474px,#ff0400 0 476.5px,#ff0400 0 478.5px,#ff0400 0 480.5px,#ff0905 0 482.5px,#ff0400 0 485px,#ff0400 0 487px,#ff0400 0 488.5px,#ff0400 0 490px,#ff0400 0 491.5px,#ff0a06 0 493.5px,#ff0400 0 495px,#ff0400 0 497.5px,#ff0400 0 500px,#ff0400 0 502px,#ff0400 0 503.5px,#ff0602 0 505px,#ff0400 0 506px,#ff0400 0 507.5px,#ff0400 0 509.5px,#ff0400 0 511.5px,#ff0501 0 513.5px,#ff0400 0 515.5px,#ff0400 0 517.5px,#ff0400 0 519px,#ff0400 0 521px,#ff0400 0 522.5px)"></div>
<div class="hc" style="left:89.18px;width:8.13px;background:linear-gradient(#a59ad0 0 1.5px,#e1ddef 0 3.5px,#d5d0e9 0 6px,#6960b0 0 7.5px,#8477be 0 9.5px,#bdb5dc 0 12px,#b6acd9 0 14px,#6c63b1 0 16px,#cac3e3 0 17.5px,#c0b8de 0 19px,#8377be 0 20.5px,#9183c5 0 22.5px,#d4cfe9 0 24px,#eae7f4 0 26px,#f8f7fb 0 28.5px,#8679c0 0 30px,#28288c 0 32.5px,#8b7dc2 0 34px,#685faf 0 36.5px,#353393 0 37.5px,#554fa5 0 40px,#5d55a9 0 41px,#4b479f 0 43px,#776db8 0 44.5px,#413e9a 0 47px,#7b70ba 0 48px,#28288c 0 49.5px,#534da4 0 51.5px,#373594 0 52.5px,#28288c 0 53.5px,#2c2b8e 0 55px,#28288c 0 56.5px,#28288c 0 59px,#28288c 0 61px,#5851a6 0 63px,#45419c 0 64.5px,#28288c 0 65.5px,#3f3c99 0 67px,#5c55a8 0 68px,#333292 0 70px,#28288c 0 72px,#6059ab 0 74px,#5d56a9 0 76px,#29298d 0 77.5px,#28288c 0 80px,#3f3c99 0 82.5px,#333292 0 85px,#504ba2 0 87px,#28288c 0 88.5px,#645cad 0 91px,#28288c 0 92.5px,#28288c 0 94px,#776cb7 0 95px,#28288c 0 97.5px,#28288c 0 99.5px,#5851a6 0 101.5px,#5851a6 0 103.5px,#45419c 0 104.5px,#28288c 0 106.5px,#28288c 0 108.5px,#28288c 0 110px,#373594 0 112.5px,#7268b5 0 114px,#45419c 0 116px,#28288c 0 117px,#2b2b8e 0 119px,#28288c 0 121px,#2e2d8f 0 122.5px,#7268b5 0 124.5px,#4d48a0 0 127px,#28288c 0 129px,#655dae 0 130px,#6159ab 0 131.5px,#4a459e 0 133px,#28288c 0 135px,#28288c 0 136.5px,#3b3997 0 137.5px,#3f3c99 0 139.5px,#3d3b98 0 141px,#353393 0 143.5px,#3d3a97 0 145.5px,#8275bd 0 147px,#554fa5 0 149.5px,#333292 0 150.5px,#28288c 0 153px,#28288c 0 155px,#48449e 0 157px,#766bb7 0 158.5px,#2f2e90 0 160px,#48439d 0 161px,#353393 0 162.5px,#28288c 0 164.5px,#6059ab 0 167px,#544ea4 0 168px,#2e2d8f 0 169px,#3d3a98 0 171px,#413e9a 0 172.5px,#28288c 0 174px,#48449e 0 176px,#28288c 0 177.5px,#28288c 0 179px,#28288c 0 181.5px,#4a469f 0 184px,#5952a7 0 186.5px,#28288c 0 187.5px,#28288c 0 189px,#413d9a 0 190.5px,#28288c 0 192.5px,#28288c 0 194.5px,#28288c 0 196.5px,#28288c 0 199px,#28288c 0 200.5px,#28288c 0 202.5px,#363494 0 205px,#665dae 0 206.5px,#7167b4 0 208.5px,#28288c 0 210.5px,#544ea4 0 212px,#9588c8 0 214.5px,#5b54a8 0 215.5px,#635bac 0 217.5px,#403d99 0 219px,#645cad 0 221.5px,#796eb8 0 223.5px,#796eb8 0 225px,#8f81c4 0 226px,#8477bf 0 227.5px,#b1a8d6 0 229.5px,#8b7ec3 0 231px,#685faf 0 232.5px,#bbb2db 0 235px,#b3a9d7 0 236px,#d6d0e9 0 238px,#bab2db 0 239.5px,#756bb6 0 242px,#a59ad0 0 243.5px,#a99fd2 0 245.5px,#8578bf 0 247px,#776cb7 0 248px,#978ac9 0 250.5px,#afa5d5 0 252px,#3c3a97 0 253px,#978ac9 0 254px,#8a7dc2 0 256px,#7a6fb9 0 257.5px,#fc5358 0 259px,#fb9098 0 260.5px,#fd4043 0 263px,#fb9ea6 0 265px,#fd3e41 0 266.5px,#fb6c74 0 268px,#fa767f 0 270.5px,#fdcbcf 0 272.5px,#fcbbc0 0 274.5px,#fdc1c6 0 276px,#fee4e6 0 277px,#fdd8db 0 279.5px,#fcb7bd 0 282px,#fba1a9 0 283.5px,#fcbdc2 0 285px,#fcb1b7 0 287px,#feeef0 0 288px,#fb97a0 0 289.5px,#fcbdc2 0 291.5px,#fed9dc 0 292.5px,#d3cde8 0 293.5px,#feeaeb 0 296px,#fee1e4 0 298px,#e1deef 0 299px,#e3e0f0 0 300.5px,#fefeff 0 301.5px,#9587c7 0 303px,#a499d0 0 305.5px,#c9c2e3 0 308px,#d0cae6 0 310px,#b3aad8 0 311px,#a499d0 0 312.5px,#fee0e2 0 313.5px,#a296ce 0 315px,#d1cbe7 0 317px,#d1cbe7 0 318px,#d1cce7 0 320.5px,#ebe8f4 0 322.5px,#fba3aa 0 325px,#fdd6da 0 326px,#fb5d63 0 327.5px,#fca6ad 0 329px,#fa858e 0 331px,#fdcace 0 332px,#fcafb5 0 333px,#fdc2c7 0 334.5px,#fd2d2e 0 336px,#fff7f8 0 338px,#fedbde 0 339.5px,#fc4649 0 342px,#fd2f30 0 343.5px,#fb5f65 0 345px,#fd3435 0 346.5px,#fb666d 0 347.5px,#fb5c62 0 349px,#fffdfd 0 351.5px,#fe1311 0 353px,#fe1614 0 354.5px,#fd3c3e 0 355.5px,#fc4346 0 356.5px,#fb6167 0 358.5px,#ff0400 0 360px,#fb646b 0 362px,#fc4c50 0 364px,#fe1f1e 0 365px,#fdd2d6 0 367.5px,#ff0400 0 370px,#fd393b 0 372.5px,#ff0400 0 374px,#fb7078 0 376px,#fa8891 0 378px,#fb6c74 0 380px,#ff0400 0 381.5px,#fd3739 0 383px,#fe1917 0 384.5px,#ff0400 0 385.5px,#fc464a 0 387.5px,#ff0805 0 389px,#fc5a60 0 390px,#ff0400 0 392px,#ff0400 0 394px,#ff0400 0 396px,#ff0400 0 398.5px,#ff0400 0 399.5px,#ff0703 0 401.5px,#ff0400 0 402.5px,#ff0400 0 404px,#fc484b 0 405px,#fe1614 0 406px,#fb979f 0 408px,#fe1c1a 0 409.5px,#fe2525 0 411.5px,#fd2b2b 0 414px,#fb5d63 0 415px,#fdd0d3 0 417px,#fff4f5 0 419px,#fa818b 0 420px,#fa7a84 0 421.5px,#fa757e 0 423px,#ff0400 0 425px,#fa8c95 0 426.5px,#ff0400 0 428px,#ff0400 0 430px,#ff0400 0 431px,#ff0400 0 432px,#ff0400 0 434px,#ff0400 0 436px,#ff0400 0 437px,#ff0400 0 438.5px,#ff0400 0 440px,#ff0400 0 441px,#ff0400 0 442px,#ff0400 0 443px,#ff0400 0 445px,#ff0b08 0 447.5px,#ff0400 0 449px,#ff0400 0 451.5px,#ff0b08 0 453.5px,#ff0400 0 455px,#ff0c09 0 457.5px,#ff0400 0 459px,#ff0400 0 461px,#ff0400 0 462px,#ff0502 0 463.5px,#ff0400 0 465.5px,#fe1614 0 468px,#ff0400 0 470px,#ff0400 0 471px,#ff0400 0 472.5px,#ff0400 0 474px,#ff0400 0 476.5px,#ff0603 0 478.5px,#ff0400 0 480.5px,#ff0400 0 482.5px,#ff0a07 0 485px,#ff0400 0 487px,#ff0400 0 488.5px,#ff0603 0 490px,#ff0501 0 491.5px,#ff0400 0 493.5px,#ff0400 0 495px,#ff0a06 0 497.5px,#ff0400 0 500px,#ff0400 0 502px,#ff0400 0 503.5px,#ff0400 0 505px,#ff0400 0 506px,#ff0704 0 507.5px,#ff0400 0 509.5px,#ff0400 0 511.5px,#ff0c09 0 513.5px,#fb5b61 0 515.5px,#fe1d1c 0 517.5px,#fc4c50 0 519px,#fd3a3c 0 521px,#fb6e76 0 522.5px)"></div>
<div class="hc" style="left:97.29px;width:8.13px;background:linear-gradient(#aca2d4 0 1.5px,#a397cf 0 3.5px,#f5f4fa 0 6px,#b8b0da 0 7.5px,#9284c6 0 9.5px,#eceaf5 0 12px,#e5e2f2 0 14px,#6c63b1 0 16px,#d4cee8 0 17.5px,#b5abd8 0 19px,#776cb7 0 20.5px,#f5f4fa 0 22.5px,#dad5ec 0 24px,#e4e0f1 0 26px,#fff6f6 0 28.5px,#8578bf 0 30px,#bcb3dc 0 32.5px,#e0ddef 0 34px,#a59ad0 0 36.5px,#c7c0e2 0 37.5px,#8a7cc2 0 40px,#f5f4fa 0 41px,#978ac9 0 43px,#fee5e7 0 44.5px,#a99ed2 0 47px,#f4f3f9 0 48px,#c1badf 0 49.5px,#c6bfe1 0 51.5px,#efedf7 0 52.5px,#edebf6 0 53.5px,#c0b9de 0 55px,#cfcae6 0 56.5px,#efedf7 0 59px,#9184c6 0 61px,#d2cde8 0 63px,#f9f9fc 0 64.5px,#c8c1e2 0 65.5px,#f4f3f9 0 67px,#fffcfc 0 68px,#feedef 0 70px,#d3cee8 0 72px,#feedee 0 74px,#fff5f6 0 76px,#fcadb3 0 77.5px,#fff9fa 0 80px,#fff6f7 0 82.5px,#fefdfe 0 85px,#fee7e9 0 87px,#e5e2f1 0 88.5px,#cbc4e4 0 91px,#c4bde0 0 92.5px,#cfc9e6 0 94px,#cbc5e4 0 95px,#eeecf6 0 97.5px,#b6add9 0 99.5px,#e8e5f3 0 101.5px,#fedfe1 0 103.5px,#d7d2ea 0 104.5px,#c8c2e3 0 106.5px,#d7d2ea 0 108.5px,#9385c7 0 110px,#c0b8de 0 112.5px,#fff9f9 0 114px,#e5e2f2 0 116px,#c4bde0 0 117px,#bcb4dc 0 119px,#b9b0da 0 121px,#e9e6f3 0 122.5px,#fee9eb 0 124.5px,#9a8dca 0 127px,#e6e2f2 0 129px,#fedfe2 0 130px,#fee2e4 0 131.5px,#f6f5fa 0 133px,#e9e6f4 0 135px,#e5e1f1 0 136.5px,#fee0e2 0 137.5px,#e2def0 0 139.5px,#eeecf6 0 141px,#ada3d4 0 143.5px,#d2cce7 0 145.5px,#fba3aa 0 147px,#e5e2f1 0 149.5px,#afa5d5 0 150.5px,#e2def0 0 153px,#887bc1 0 155px,#bbb2db 0 157px,#cfc9e6 0 158.5px,#feeef0 0 160px,#fee7e9 0 161px,#9e92cc 0 162.5px,#cdc7e5 0 164.5px,#feeff0 0 167px,#e0dcef 0 168px,#877ac0 0 169px,#fefefe 0 171px,#dfdbee 0 172.5px,#fffeff 0 174px,#d9d5eb 0 176px,#d9d4eb 0 177.5px,#f3f1f9 0 179px,#c6bfe1 0 181.5px,#b5acd9 0 184px,#efedf6 0 186.5px,#c3bbe0 0 187.5px,#dfdaee 0 189px,#8e80c4 0 190.5px,#c9c2e3 0 192.5px,#dbd7ec 0 194.5px,#bab1db 0 196.5px,#e9e6f4 0 199px,#9a8eca 0 200.5px,#fbfbfd 0 202.5px,#d7d2ea 0 205px,#ebe9f5 0 206.5px,#fee5e7 0 208.5px,#dfdbee 0 210.5px,#ddd9ed 0 212px,#fff9fa 0 214.5px,#f2f1f8 0 215.5px,#feebed 0 217.5px,#ada3d4 0 219px,#c2bbdf 0 221.5px,#c7c0e2 0 223.5px,#dfdbee 0 225px,#e0ddef 0 226px,#cbc5e4 0 227.5px,#c9c2e3 0 229.5px,#eceaf5 0 231px,#b2a8d7 0 232.5px,#fffbfb 0 235px,#9689c8 0 236px,#b9b0da 0 238px,#8c7ec3 0 239.5px,#9386c7 0 242px,#b8afda 0 243.5px,#9e92cc 0 245.5px,#7d71bb 0 247px,#9082c5 0 248px,#8d80c4 0 250.5px,#a69bd0 0 252px,#504ba2 0 253px,#b0a6d6 0 254px,#b5acd8 0 256px,#b5acd8 0 257.5px,#fba4ab 0 259px,#fa7a84 0 260.5px,#fa818b 0 263px,#fdc6cb 0 265px,#fdd2d6 0 266.5px,#fdc7cc 0 268px,#fcadb3 0 270.5px,#fcbfc4 0 272.5px,#fff9f9 0 274.5px,#fcb3b9 0 276px,#fcbbc1 0 277px,#fcacb2 0 279.5px,#fa8b94 0 282px,#fdd1d5 0 283.5px,#fdcace 0 285px,#fb98a1 0 287px,#fee6e8 0 288px,#fa858e 0 289.5px,#fcacb3 0 291.5px,#fdfdfe 0 292.5px,#fcafb5 0 293.5px,#fcb3b9 0 296px,#fc4d51 0 298px,#fed9dc 0 299px,#fa808a 0 300.5px,#fb727a 0 301.5px,#f7f6fb 0 303px,#fdcdd1 0 305.5px,#fedde0 0 308px,#fb8f98 0 310px,#fdcacf 0 311px,#fcb7bc 0 312.5px,#fa7d86 0 313.5px,#fa7b85 0 315px,#fa8c95 0 317px,#fcacb3 0 318px,#fcafb5 0 320.5px,#fb6f77 0 322.5px,#fe1412 0 325px,#fe1613 0 326px,#ff100d 0 327.5px,#ff0400 0 329px,#fc5459 0 331px,#fd3d40 0 332px,#d9d5eb 0 333px,#fb6971 0 334.5px,#fd3d3f 0 336px,#fa757e 0 338px,#fb6a71 0 339.5px,#fb5b61 0 342px,#fdccd0 0 343.5px,#fdc9cd 0 345px,#fb9ea6 0 346.5px,#fa7e87 0 347.5px,#fc484c 0 349px,#f2f0f8 0 351.5px,#fb949d 0 353px,#fdc4c9 0 354.5px,#fb9199 0 355.5px,#fcbbc1 0 356.5px,#fdd3d6 0 358.5px,#fc4346 0 360px,#fcb1b7 0 362px,#fffbfc 0 364px,#fa8891 0 365px,#fff7f7 0 367.5px,#fedddf 0 370px,#ebe9f5 0 372.5px,#fd3d3f 0 374px,#fa7a83 0 376px,#fcb2b8 0 378px,#fcb7bc 0 380px,#fa747d 0 381.5px,#fcbcc2 0 383px,#fdd4d7 0 384.5px,#fdcace 0 385.5px,#fdc8cc 0 387.5px,#fb929b 0 389px,#fb676e 0 390px,#fb636a 0 392px,#fb9ea6 0 394px,#fba2a9 0 396px,#fee8ea 0 398.5px,#fa8c95 0 399.5px,#edebf6 0 401.5px,#fee9eb 0 402.5px,#fa7982 0 404px,#fa7b85 0 405px,#fcaab1 0 406px,#fdc4c9 0 408px,#fdc5c9 0 409.5px,#fdced2 0 411.5px,#fdcfd3 0 414px,#fb8d96 0 415px,#fcbec3 0 417px,#fb8f98 0 419px,#fcadb3 0 420px,#fee0e2 0 421.5px,#fba1a9 0 423px,#fdc3c8 0 425px,#fdd4d7 0 426.5px,#fcb0b6 0 428px,#fb666d 0 430px,#fba0a8 0 431px,#fb9ba3 0 432px,#fc5358 0 434px,#fdc4c8 0 436px,#fb99a1 0 437px,#eeecf6 0 438.5px,#fb9ca4 0 440px,#fdd3d6 0 441px,#fef1f2 0 442px,#fcacb3 0 443px,#fcb0b7 0 445px,#fee6e8 0 447.5px,#fa767f 0 449px,#e9e6f3 0 451.5px,#f6f5fa 0 453.5px,#fcb3b9 0 455px,#ffffff 0 457.5px,#fffbfb 0 459px,#fffcfc 0 461px,#ebe8f4 0 462px,#ccc5e4 0 463.5px,#fdc7cb 0 465.5px,#f8f7fb 0 468px,#fdd2d5 0 470px,#c6bfe1 0 471px,#fca9b0 0 472.5px,#fdc0c5 0 474px,#fdd4d7 0 476.5px,#b4abd8 0 478.5px,#fedcdf 0 480.5px,#fedbde 0 482.5px,#fb959d 0 485px,#fcbdc2 0 487px,#fdc1c6 0 488.5px,#fedbde 0 490px,#fdc4c9 0 491.5px,#fdc2c7 0 493.5px,#fcb5bb 0 495px,#fdc8cc 0 497.5px,#fcafb5 0 500px,#fcb2b8 0 502px,#fdc4c9 0 503.5px,#fdc6cb 0 505px,#fdcace 0 506px,#fa8c95 0 507.5px,#fcbec3 0 509.5px,#fee1e4 0 511.5px,#fcafb5 0 513.5px,#fcb6bc 0 515.5px,#fff7f8 0 517.5px,#fee9eb 0 519px,#fba0a7 0 521px,#fee3e5 0 522.5px)"></div>
<div class="hc" style="left:105.39px;width:8.13px;background:linear-gradient(#dfdbee 0 1.5px,#d5d0e9 0 3.5px,#dfdbef 0 6px,#9a8eca 0 7.5px,#dcd7ed 0 9.5px,#edebf6 0 12px,#fff9f9 0 14px,#887bc1 0 16px,#d0cae6 0 17.5px,#e7e4f3 0 19px,#ada3d4 0 20.5px,#a69bd0 0 22.5px,#c3bbe0 0 24px,#9588c8 0 26px,#dedaee 0 28.5px,#a99ed2 0 30px,#766bb7 0 32.5px,#beb5dd 0 34px,#8f81c5 0 36.5px,#776cb7 0 37.5px,#8d7fc3 0 40px,#ada2d4 0 41px,#a79dd1 0 43px,#9e92cc 0 44.5px,#9487c7 0 47px,#c9c2e3 0 48px,#8b7ec3 0 49.5px,#8276bd 0 51.5px,#776cb7 0 52.5px,#8477be 0 53.5px,#bab2db 0 55px,#8b7dc2 0 56.5px,#988bc9 0 59px,#756ab6 0 61px,#a59ad0 0 63px,#8074bc 0 64.5px,#6f66b3 0 65.5px,#6e64b2 0 67px,#a59ad0 0 68px,#beb6dd 0 70px,#655cad 0 72px,#8d7fc4 0 74px,#47439d 0 76px,#a499d0 0 77.5px,#7b70ba 0 80px,#5d56a9 0 82.5px,#796db8 0 85px,#28288c 0 87px,#9284c6 0 88.5px,#3c3997 0 91px,#413e9a 0 92.5px,#7a6fb9 0 94px,#988bc9 0 95px,#7e73bb 0 97.5px,#46429d 0 99.5px,#b2a8d7 0 101.5px,#f1eff7 0 103.5px,#8c7ec3 0 104.5px,#8175bd 0 106.5px,#9b8fcb 0 108.5px,#7167b4 0 110px,#b7aed9 0 112.5px,#c7c0e2 0 114px,#45419c 0 116px,#9386c7 0 117px,#998cca 0 119px,#9d91cc 0 121px,#7268b5 0 122.5px,#fedde0 0 124.5px,#9184c6 0 127px,#877ac0 0 129px,#a79cd1 0 130px,#d5d0e9 0 131.5px,#e1ddef 0 133px,#9386c7 0 135px,#6b62b1 0 136.5px,#8e80c4 0 137.5px,#a99ed2 0 139.5px,#675faf 0 141px,#3f3c99 0 143.5px,#9386c7 0 145.5px,#b0a6d6 0 147px,#625aac 0 149.5px,#8175bd 0 150.5px,#353493 0 153px,#2a2a8d 0 155px,#6e64b2 0 157px,#8679c0 0 158.5px,#d7d2ea 0 160px,#7d71bb 0 161px,#7167b4 0 162.5px,#655cad 0 164.5px,#a69bd1 0 167px,#6960b0 0 168px,#28288c 0 169px,#6d63b2 0 171px,#5851a6 0 172.5px,#5d56a9 0 174px,#6b62b1 0 176px,#4c47a0 0 177.5px,#46429c 0 179px,#29298d 0 181.5px,#6960af 0 184px,#978ac9 0 186.5px,#877ac0 0 187.5px,#887bc1 0 189px,#897cc1 0 190.5px,#7f73bc 0 192.5px,#7d71ba 0 194.5px,#6159ab 0 196.5px,#544ea4 0 199px,#46419c 0 200.5px,#7267b4 0 202.5px,#5e57aa 0 205px,#766bb7 0 206.5px,#6d63b2 0 208.5px,#685faf 0 210.5px,#766bb7 0 212px,#8074bc 0 214.5px,#514ba2 0 215.5px,#7e72bb 0 217.5px,#313091 0 219px,#645cad 0 221.5px,#4a459f 0 223.5px,#514ba3 0 225px,#bbb2db 0 226px,#8e80c4 0 227.5px,#8579bf 0 229.5px,#c2bbdf 0 231px,#9284c6 0 232.5px,#aaa0d3 0 235px,#7f73bc 0 236px,#7e72bb 0 238px,#a79cd1 0 239.5px,#635bac 0 242px,#7d71bb 0 243.5px,#7f73bc 0 245.5px,#8578bf 0 247px,#8e81c4 0 248px,#988bc9 0 250.5px,#a69bd1 0 252px,#5b54a8 0 253px,#6f66b3 0 254px,#7c70ba 0 256px,#6159ab 0 257.5px,#fdc0c5 0 259px,#fb9aa2 0 260.5px,#fcbcc2 0 263px,#fdcbcf 0 265px,#fcb7bc 0 266.5px,#fb959e 0 268px,#fcb8bd 0 270.5px,#fcb1b7 0 272.5px,#fa828c 0 274.5px,#fcb4ba 0 276px,#fee0e2 0 277px,#fa828c 0 279.5px,#fca7ae 0 282px,#fb8f98 0 283.5px,#fa7c86 0 285px,#fb9ba3 0 287px,#fca9b0 0 288px,#fcb3b9 0 289.5px,#fdc1c6 0 291.5px,#eceaf5 0 292.5px,#fb8d96 0 293.5px,#fdcfd3 0 296px,#fb9099 0 298px,#fdc3c7 0 299px,#fdc8cc 0 300.5px,#fb9fa7 0 301.5px,#fcbec4 0 303px,#fee3e5 0 305.5px,#fcb2b9 0 308px,#fdc2c6 0 310px,#fb969f 0 311px,#ffffff 0 312.5px,#fa8c95 0 313.5px,#fcb9be 0 315px,#fa8992 0 317px,#fb9da5 0 318px,#fedcdf 0 320.5px,#fed9dc 0 322.5px,#fd393b 0 325px,#fa7e88 0 326px,#ff0400 0 327.5px,#fd3435 0 329px,#fe1715 0 331px,#fa8891 0 332px,#fa828c 0 333px,#fc4447 0 334.5px,#ff0400 0 336px,#fcb5bb 0 338px,#fb6971 0 339.5px,#fd3031 0 342px,#fcaeb4 0 343.5px,#b3aad7 0 345px,#fe2525 0 346.5px,#fedbde 0 347.5px,#fa8690 0 349px,#fdd0d3 0 351.5px,#fdc5ca 0 353px,#fca6ad 0 354.5px,#fb6e76 0 355.5px,#fb5b61 0 356.5px,#fdc1c6 0 358.5px,#fc595f 0 360px,#fa818b 0 362px,#fffafa 0 364px,#ff0b08 0 365px,#fcbec3 0 367.5px,#fdd5d8 0 370px,#fee3e5 0 372.5px,#fa7881 0 374px,#fa868f 0 376px,#fd3c3f 0 378px,#fb9ba3 0 380px,#dfdbee 0 381.5px,#fc4f54 0 383px,#fd383a 0 384.5px,#fe2525 0 385.5px,#fa8c95 0 387.5px,#fe2525 0 389px,#fcbec3 0 390px,#fd3b3d 0 392px,#fc4245 0 394px,#fc4d52 0 396px,#ff100e 0 398.5px,#fa8992 0 399.5px,#fdc4c8 0 401.5px,#fb5d63 0 402.5px,#fd4043 0 404px,#fd3335 0 405px,#fb737c 0 406px,#fd3c3f 0 408px,#fb929b 0 409.5px,#fe2525 0 411.5px,#fb5d63 0 414px,#fb6d75 0 415px,#fd4144 0 417px,#fc5156 0 419px,#ff0400 0 420px,#fa767e 0 421.5px,#fc4346 0 423px,#fc5155 0 425px,#fba1a9 0 426.5px,#fb969e 0 428px,#fca8ae 0 430px,#fb6066 0 431px,#fa7b84 0 432px,#fb9aa2 0 434px,#fb9199 0 436px,#fcbabf 0 437px,#fba5ac 0 438.5px,#fdc0c5 0 440px,#fcabb1 0 441px,#feeff0 0 442px,#fcb8be 0 443px,#fef1f2 0 445px,#d1cbe7 0 447.5px,#fb98a0 0 449px,#e9e7f4 0 451.5px,#f9f9fc 0 453.5px,#fffafb 0 455px,#d6d1ea 0 457.5px,#d7d2ea 0 459px,#b1a7d6 0 461px,#cdc6e5 0 462px,#c1b9df 0 463.5px,#e7e4f2 0 465.5px,#ccc6e4 0 468px,#ece9f5 0 470px,#b9b0da 0 471px,#edebf6 0 472.5px,#eae7f4 0 474px,#dedaee 0 476.5px,#e3dff0 0 478.5px,#bcb4dc 0 480.5px,#faf9fc 0 482.5px,#f7f6fb 0 485px,#c6bfe1 0 487px,#fff3f4 0 488.5px,#ffffff 0 490px,#f5f4fa 0 491.5px,#fee2e4 0 493.5px,#fef0f1 0 495px,#fba5ac 0 497.5px,#fb969e 0 500px,#fa8790 0 502px,#fba3ab 0 503.5px,#fb929b 0 505px,#fedcdf 0 506px,#fcb2b8 0 507.5px,#fc4548 0 509.5px,#fcb2b8 0 511.5px,#fcbac0 0 513.5px,#fdd0d4 0 515.5px,#fedfe2 0 517.5px,#fffafb 0 519px,#fee8ea 0 521px,#fedbdd 0 522.5px)"></div></div>
<svg width="520" height="572" viewBox="0 0 520 572" font-family="Liberation Sans, sans-serif">
<text x="7.60" y="17.00" font-size="12.60" text-anchor="start" font-weight="bold" font-style="normal" fill="#000" stroke="#000" stroke-width="0.16" >A</text>
<text x="44.60" y="23.70" font-size="6.50" text-anchor="end" font-weight="normal" font-style="normal" fill="#0a0a0a" stroke="#0a0a0a" stroke-width="0.16" >Group</text>
<text x="44.60" y="32.10" font-size="6.50" text-anchor="end" font-weight="normal" font-style="normal" fill="#0a0a0a" stroke="#0a0a0a" stroke-width="0.16" textLength="27.6" lengthAdjust="spacingAndGlyphs">Treatment</text>
<rect x="48.5" y="17.4" width="48.4" height="8.2" fill="#b8d8a4"/>
<rect x="96.9" y="17.4" width="63.85" height="8.2" fill="#9ec0e6"/>
<rect x="48.5" y="25.6" width="24.4" height="8.1" fill="#f2f2f2"/>
<rect x="72.9" y="25.6" width="24.0" height="8.1" fill="#aaa8a8"/>
<rect x="96.9" y="25.6" width="31.2" height="8.1" fill="#f2f2f2"/>
<rect x="128.1" y="25.6" width="32.65" height="8.1" fill="#aaa8a8"/>
<text x="72.55" y="24.00" font-size="6.80" text-anchor="middle" font-weight="normal" font-style="normal" fill="#0a0a0a" stroke="#0a0a0a" stroke-width="0.16" >Healthy</text>
<text x="128.68" y="24.00" font-size="6.80" text-anchor="middle" font-weight="normal" font-style="normal" fill="#0a0a0a" stroke="#0a0a0a" stroke-width="0.16" >WM</text>
<text x="60.70" y="32.30" font-size="6.80" text-anchor="middle" font-weight="normal" font-style="normal" fill="#0a0a0a" stroke="#0a0a0a" stroke-width="0.16" >CD40L</text>
<text x="84.90" y="32.30" font-size="6.80" text-anchor="middle" font-weight="normal" font-style="normal" fill="#0a0a0a" stroke="#0a0a0a" stroke-width="0.16" >R848</text>
<text x="112.50" y="32.30" font-size="6.80" text-anchor="middle" font-weight="normal" font-style="normal" fill="#0a0a0a" stroke="#0a0a0a" stroke-width="0.16" >CD40L</text>
<text x="144.40" y="32.30" font-size="6.80" text-anchor="middle" font-weight="normal" font-style="normal" fill="#0a0a0a" stroke="#0a0a0a" stroke-width="0.16" >R848</text>
<text x="52.50" y="41.20" font-size="6.80" text-anchor="middle" font-weight="normal" font-style="normal" fill="#0a0a0a" stroke="#0a0a0a" stroke-width="0.16" >1</text>
<text x="60.57" y="41.20" font-size="6.80" text-anchor="middle" font-weight="normal" font-style="normal" fill="#0a0a0a" stroke="#0a0a0a" stroke-width="0.16" >2</text>
<text x="68.64" y="41.20" font-size="6.80" text-anchor="middle" font-weight="normal" font-style="normal" fill="#0a0a0a" stroke="#0a0a0a" stroke-width="0.16" >3</text>
<text x="76.71" y="41.20" font-size="6.80" text-anchor="middle" font-weight="normal" font-style="normal" fill="#0a0a0a" stroke="#0a0a0a" stroke-width="0.16" >4</text>
<text x="84.78" y="41.20" font-size="6.80" text-anchor="middle" font-weight="normal" font-style="normal" fill="#0a0a0a" stroke="#0a0a0a" stroke-width="0.16" >5</text>
<text x="92.85" y="41.20" font-size="6.80" text-anchor="middle" font-weight="normal" font-style="normal" fill="#0a0a0a" stroke="#0a0a0a" stroke-width="0.16" >6</text>
<text x="100.92" y="41.20" font-size="6.80" text-anchor="middle" font-weight="normal" font-style="normal" fill="#0a0a0a" stroke="#0a0a0a" stroke-width="0.16" >1</text>
<text x="108.99" y="41.20" font-size="6.80" text-anchor="middle" font-weight="normal" font-style="normal" fill="#0a0a0a" stroke="#0a0a0a" stroke-width="0.16" >2</text>
<text x="117.06" y="41.20" font-size="6.80" text-anchor="middle" font-weight="normal" font-style="normal" fill="#0a0a0a" stroke="#0a0a0a" stroke-width="0.16" >3</text>
<text x="125.13" y="41.20" font-size="6.80" text-anchor="middle" font-weight="normal" font-style="normal" fill="#0a0a0a" stroke="#0a0a0a" stroke-width="0.16" >4</text>
<text x="133.20" y="41.20" font-size="6.80" text-anchor="middle" font-weight="normal" font-style="normal" fill="#0a0a0a" stroke="#0a0a0a" stroke-width="0.16" >5</text>
<text x="141.27" y="41.20" font-size="6.80" text-anchor="middle" font-weight="normal" font-style="normal" fill="#0a0a0a" stroke="#0a0a0a" stroke-width="0.16" >6</text>
<text x="149.34" y="41.20" font-size="6.80" text-anchor="middle" font-weight="normal" font-style="normal" fill="#0a0a0a" stroke="#0a0a0a" stroke-width="0.16" >7</text>
<text x="157.41" y="41.20" font-size="6.80" text-anchor="middle" font-weight="normal" font-style="normal" fill="#0a0a0a" stroke="#0a0a0a" stroke-width="0.16" >8</text>
<g>
<rect x="41.6" y="42.0" width="3.6" height="521.0" fill="#8a8a8a"/>
<rect x="45.2" y="42.0" width="1.5" height="521.0" fill="#111"/>
<path d="M46.7 42.4H44.9M44.9 42.4V43.2M44.9 43.2H46.7M44.9 42.8H44.6M44.6 42.8V43.9M44.6 43.9H46.7M46.7 44.7H45.3M45.3 44.7V45.5M45.3 45.5H46.7M46.7 46.3H45.7M45.7 46.3V47.1M45.7 47.1H46.7M45.3 45.1H44.3M44.3 45.1V46.7M44.3 46.7H45.7M44.6 43.4H43.2M43.2 43.4V45.9M43.2 45.9H44.3M46.7 48.6H45.6M45.6 48.6V49.4M45.6 49.4H46.7M46.7 47.8H45.0M45.0 47.8V49.0M45.0 49.0H45.6M45.0 48.4H43.7M43.7 48.4V50.2M43.7 50.2H46.7M46.7 51.7H45.0M45.0 51.7V52.5M45.0 52.5H46.7M46.7 51.0H44.7M44.7 51.0V52.1M44.7 52.1H45.0M46.7 53.3H45.6M45.6 53.3V54.1M45.6 54.1H46.7M46.7 54.8H45.1M45.1 54.8V55.6M45.1 55.6H46.7M45.6 53.7H43.6M43.6 53.7V55.2M43.6 55.2H45.1M43.6 54.5H43.3M43.3 54.5V56.4M43.3 56.4H46.7M44.7 51.5H43.0M43.0 51.5V55.4M43.0 55.4H43.3M43.7 49.3H42.2M42.2 49.3V53.5M42.2 53.5H43.0M46.7 57.2H45.7M45.7 57.2V58.0M45.7 58.0H46.7M46.7 58.7H45.7M45.7 58.7V59.5M45.7 59.5H46.7M46.7 60.3H45.4M45.4 60.3V61.1M45.4 61.1H46.7M45.7 59.1H44.2M44.2 59.1V60.7M44.2 60.7H45.4M45.7 57.6H43.0M43.0 57.6V59.9M43.0 59.9H44.2M42.2 51.4H41.4M41.4 51.4V58.7M41.4 58.7H43.0M46.7 61.9H45.1M45.1 61.9V62.6M45.1 62.6H46.7M46.7 64.2H45.1M45.1 64.2V65.0M45.1 65.0H46.7M45.1 64.6H44.3M44.3 64.6V65.8M44.3 65.8H46.7M46.7 63.4H44.0M44.0 63.4V65.2M44.0 65.2H44.3M45.1 62.2H43.1M43.1 62.2V64.3M43.1 64.3H44.0M41.4 55.1H40.9M40.9 55.1V63.3M40.9 63.3H43.1M43.2 44.6H40.3M40.3 44.6V59.2M40.3 59.2H40.9M46.7 66.5H45.6M45.6 66.5V67.3M45.6 67.3H46.7M46.7 68.1H44.9M44.9 68.1V68.9M44.9 68.9H46.7M46.7 70.4H45.3M45.3 70.4V71.2M45.3 71.2H46.7M46.7 69.6H44.3M44.3 69.6V70.8M44.3 70.8H45.3M44.3 70.2H44.0M44.0 70.2V72.0M44.0 72.0H46.7M44.9 68.5H43.1M43.1 68.5V71.1M43.1 71.1H44.0M46.7 72.8H45.0M45.0 72.8V73.5M45.0 73.5H46.7M43.1 69.8H42.8M42.8 69.8V73.2M42.8 73.2H45.0M45.6 66.9H42.0M42.0 66.9V71.5M42.0 71.5H42.8M40.3 51.9H40.0M40.0 51.9V69.2M40.0 69.2H42.0M46.7 74.3H45.3M45.3 74.3V75.1M45.3 75.1H46.7M46.7 75.9H45.5M45.5 75.9V76.7M45.5 76.7H46.7M45.3 74.7H44.3M44.3 74.7V76.3M44.3 76.3H45.5M44.3 75.5H44.0M44.0 75.5V77.4M44.0 77.4H46.7M46.7 79.0H45.6M45.6 79.0V79.8M45.6 79.8H46.7M45.6 79.4H45.0M45.0 79.4V80.5M45.0 80.5H46.7M46.7 78.2H43.6M43.6 78.2V80.0M43.6 80.0H45.0M44.0 76.5H42.6M42.6 76.5V79.1M42.6 79.1H43.6M46.7 81.3H45.0M45.0 81.3V82.1M45.0 82.1H46.7M46.7 82.9H45.7M45.7 82.9V83.7M45.7 83.7H46.7M46.7 84.4H45.7M45.7 84.4V85.2M45.7 85.2H46.7M45.7 83.3H44.1M44.1 83.3V84.8M44.1 84.8H45.7M45.0 81.7H43.0M43.0 81.7V84.1M43.0 84.1H44.1M46.7 86.0H44.9M44.9 86.0V86.8M44.9 86.8H46.7M46.7 87.6H45.4M45.4 87.6V88.3M45.4 88.3H46.7M45.4 87.9H44.9M44.9 87.9V89.1M44.9 89.1H46.7M46.7 89.9H45.3M45.3 89.9V90.7M45.3 90.7H46.7M45.3 90.3H44.1M44.1 90.3V91.5M44.1 91.5H46.7M44.9 88.5H43.0M43.0 88.5V90.9M43.0 90.9H44.1M44.9 86.4H42.4M42.4 86.4V89.7M42.4 89.7H43.0M43.0 82.9H41.8M41.8 82.9V88.0M41.8 88.0H42.4M42.6 77.8H40.9M40.9 77.8V85.5M40.9 85.5H41.8M40.0 60.5H38.8M38.8 60.5V81.6M38.8 81.6H40.9M46.7 93.0H45.4M45.4 93.0V93.8M45.4 93.8H46.7M46.7 92.2H44.1M44.1 92.2V93.4M44.1 93.4H45.4M46.7 95.3H45.7M45.7 95.3V96.1M45.7 96.1H46.7M46.7 94.6H44.8M44.8 94.6V95.7M44.8 95.7H45.7M46.7 96.9H45.0M45.0 96.9V97.7M45.0 97.7H46.7M44.8 95.2H43.8M43.8 95.2V97.3M43.8 97.3H45.0M43.8 96.2H43.1M43.1 96.2V98.5M43.1 98.5H46.7M44.1 92.8H42.3M42.3 92.8V97.3M42.3 97.3H43.1M46.7 100.0H45.5M45.5 100.0V100.8M45.5 100.8H46.7M46.7 99.2H44.6M44.6 99.2V100.4M44.6 100.4H45.5M44.6 99.8H43.8M43.8 99.8V101.6M43.8 101.6H46.7M46.7 102.4H45.5M45.5 102.4V103.1M45.5 103.1H46.7M43.8 100.7H42.9M42.9 100.7V102.7M42.9 102.7H45.5M46.7 103.9H45.7M45.7 103.9V104.7M45.7 104.7H46.7M46.7 105.5H45.5M45.5 105.5V106.2M45.5 106.2H46.7M45.7 104.3H43.9M43.9 104.3V105.9M43.9 105.9H45.5M42.9 101.7H42.4M42.4 101.7V105.1M42.4 105.1H43.9M42.3 95.1H41.0M41.0 95.1V103.4M41.0 103.4H42.4M38.8 71.1H38.4M38.4 71.1V99.2M38.4 99.2H41.0M46.7 107.8H45.0M45.0 107.8V108.6M45.0 108.6H46.7M46.7 107.0H44.4M44.4 107.0V108.2M44.4 108.2H45.0M44.4 107.6H43.6M43.6 107.6V109.4M43.6 109.4H46.7M46.7 110.1H45.3M45.3 110.1V110.9M45.3 110.9H46.7M43.6 108.5H43.3M43.3 108.5V110.5M43.3 110.5H45.3M46.7 112.5H45.1M45.1 112.5V113.3M45.1 113.3H46.7M45.1 112.9H44.4M44.4 112.9V114.0M44.4 114.0H46.7M44.4 113.5H43.8M43.8 113.5V114.8M43.8 114.8H46.7M46.7 111.7H43.5M43.5 111.7V114.1M43.5 114.1H43.8M43.3 109.5H42.0M42.0 109.5V112.9M42.0 112.9H43.5M46.7 115.6H45.1M45.1 115.6V116.4M45.1 116.4H46.7M46.7 117.2H45.7M45.7 117.2V117.9M45.7 117.9H46.7M45.7 117.5H44.9M44.9 117.5V118.7M44.9 118.7H46.7M45.1 116.0H43.7M43.7 116.0V118.1M43.7 118.1H44.9M46.7 119.5H45.1M45.1 119.5V120.3M45.1 120.3H46.7M45.1 119.9H44.5M44.5 119.9V121.0M44.5 121.0H46.7M43.7 117.1H43.2M43.2 117.1V120.5M43.2 120.5H44.5M46.7 122.6H45.6M45.6 122.6V123.4M45.6 123.4H46.7M46.7 121.8H44.7M44.7 121.8V123.0M44.7 123.0H45.6M46.7 125.7H45.3M45.3 125.7V126.5M45.3 126.5H46.7M46.7 124.9H44.7M44.7 124.9V126.1M44.7 126.1H45.3M46.7 124.2H43.9M43.9 124.2V125.5M43.9 125.5H44.7M44.7 122.4H43.0M43.0 122.4V124.8M43.0 124.8H43.9M43.2 118.8H41.9M41.9 118.8V123.6M41.9 123.6H43.0M42.0 111.2H40.3M40.3 111.2V121.2M40.3 121.2H41.9M46.7 128.1H45.4M45.4 128.1V128.8M45.4 128.8H46.7M46.7 127.3H44.9M44.9 127.3V128.4M44.9 128.4H45.4M46.7 130.4H45.7M45.7 130.4V131.2M45.7 131.2H46.7M46.7 129.6H44.5M44.5 129.6V130.8M44.5 130.8H45.7M46.7 131.9H44.9M44.9 131.9V132.7M44.9 132.7H46.7M46.7 133.5H45.4M45.4 133.5V134.3M45.4 134.3H46.7M44.9 132.3H43.8M43.8 132.3V133.9M43.8 133.9H45.4M44.5 130.2H42.9M42.9 130.2V133.1M42.9 133.1H43.8M46.7 135.8H45.2M45.2 135.8V136.6M45.2 136.6H46.7M46.7 135.1H44.5M44.5 135.1V136.2M44.5 136.2H45.2M42.9 131.7H42.0M42.0 131.7V135.6M42.0 135.6H44.5M44.9 127.9H41.5M41.5 127.9V133.7M41.5 133.7H42.0M40.3 116.2H39.8M39.8 116.2V130.8M39.8 130.8H41.5M38.4 85.2H38.0M38.0 85.2V123.5M38.0 123.5H39.8M46.7 137.4H45.6M45.6 137.4V138.2M45.6 138.2H46.7M45.6 137.8H44.5M44.5 137.8V139.0M44.5 139.0H46.7M46.7 139.7H45.5M45.5 139.7V140.5M45.5 140.5H46.7M46.7 142.1H45.4M45.4 142.1V142.9M45.4 142.9H46.7M46.7 141.3H44.2M44.2 141.3V142.5M44.2 142.5H45.4M45.5 140.1H43.3M43.3 140.1V141.9M43.3 141.9H44.2M46.7 143.6H45.5M45.5 143.6V144.4M45.5 144.4H46.7M43.3 141.0H42.6M42.6 141.0V144.0M42.6 144.0H45.5M44.5 138.4H42.3M42.3 138.4V142.5M42.3 142.5H42.6M46.7 146.0H45.6M45.6 146.0V146.7M45.6 146.7H46.7M46.7 145.2H44.5M44.5 145.2V146.4M44.5 146.4H45.6M46.7 148.3H45.0M45.0 148.3V149.1M45.0 149.1H46.7M46.7 147.5H44.3M44.3 147.5V148.7M44.3 148.7H45.0M44.5 145.8H43.8M43.8 145.8V148.1M43.8 148.1H44.3M43.8 146.9H43.0M43.0 146.9V149.9M43.0 149.9H46.7M46.7 150.6H45.5M45.5 150.6V151.4M45.5 151.4H46.7M45.5 151.0H44.9M44.9 151.0V152.2M44.9 152.2H46.7M44.9 151.6H43.6M43.6 151.6V153.0M43.6 153.0H46.7M46.7 153.8H45.2M45.2 153.8V154.5M45.2 154.5H46.7M45.2 154.1H44.5M44.5 154.1V155.3M44.5 155.3H46.7M46.7 156.9H45.5M45.5 156.9V157.6M45.5 157.6H46.7M46.7 156.1H44.5M44.5 156.1V157.3M44.5 157.3H45.5M44.5 156.7H44.2M44.2 156.7V158.4M44.2 158.4H46.7M44.5 154.7H43.2M43.2 154.7V157.6M43.2 157.6H44.2M43.6 152.3H42.2M42.2 152.3V156.1M42.2 156.1H43.2M43.0 148.4H41.4M41.4 148.4V154.2M41.4 154.2H42.2M46.7 160.0H45.3M45.3 160.0V160.8M45.3 160.8H46.7M46.7 159.2H44.2M44.2 159.2V160.4M44.2 160.4H45.3M46.7 161.5H45.7M45.7 161.5V162.3M45.7 162.3H46.7M45.7 161.9H44.3M44.3 161.9V163.1M44.3 163.1H46.7M44.2 159.8H43.4M43.4 159.8V162.5M43.4 162.5H44.3M46.7 163.9H45.2M45.2 163.9V164.7M45.2 164.7H46.7M45.2 164.3H44.6M44.6 164.3V165.4M44.6 165.4H46.7M43.4 161.2H42.2M42.2 161.2V164.9M42.2 164.9H44.6M46.7 166.2H45.6M45.6 166.2V167.0M45.6 167.0H46.7M46.7 168.6H45.7M45.7 168.6V169.3M45.7 169.3H46.7M46.7 167.8H44.3M44.3 167.8V168.9M44.3 168.9H45.7M45.6 166.6H43.5M43.5 166.6V168.4M43.5 168.4H44.3M46.7 170.9H44.9M44.9 170.9V171.7M44.9 171.7H46.7M46.7 170.1H44.6M44.6 170.1V171.3M44.6 171.3H44.9M46.7 172.4H45.3M45.3 172.4V173.2M45.3 173.2H46.7M46.7 174.0H45.6M45.6 174.0V174.8M45.6 174.8H46.7M45.3 172.8H44.0M44.0 172.8V174.4M44.0 174.4H45.6M44.6 170.7H42.8M42.8 170.7V173.6M42.8 173.6H44.0M43.5 167.5H42.5M42.5 167.5V172.2M42.5 172.2H42.8M42.2 163.0H41.3M41.3 163.0V169.8M41.3 169.8H42.5M41.4 151.3H39.7M39.7 151.3V166.4M39.7 166.4H41.3M42.3 140.4H39.3M39.3 140.4V158.9M39.3 158.9H39.7M46.7 175.6H44.9M44.9 175.6V176.3M44.9 176.3H46.7M46.7 177.9H45.2M45.2 177.9V178.7M45.2 178.7H46.7M45.2 178.3H44.2M44.2 178.3V179.5M44.2 179.5H46.7M46.7 177.1H43.9M43.9 177.1V178.9M43.9 178.9H44.2M46.7 181.0H44.9M44.9 181.0V181.8M44.9 181.8H46.7M46.7 180.2H44.6M44.6 180.2V181.4M44.6 181.4H44.9M43.9 178.0H42.9M42.9 178.0V180.8M42.9 180.8H44.6M46.7 182.6H45.6M45.6 182.6V183.3M45.6 183.3H46.7M42.9 179.4H42.5M42.5 179.4V183.0M42.5 183.0H45.6M44.9 176.0H42.2M42.2 176.0V181.2M42.2 181.2H42.5M46.7 184.1H45.7M45.7 184.1V184.9M45.7 184.9H46.7M46.7 186.5H45.0M45.0 186.5V187.2M45.0 187.2H46.7M46.7 188.0H45.4M45.4 188.0V188.8M45.4 188.8H46.7M45.0 186.9H44.2M44.2 186.9V188.4M44.2 188.4H45.4M46.7 185.7H43.6M43.6 185.7V187.6M43.6 187.6H44.2M45.7 184.5H43.1M43.1 184.5V186.7M43.1 186.7H43.6M42.2 178.6H40.9M40.9 178.6V185.6M40.9 185.6H43.1M39.3 149.7H39.0M39.0 149.7V182.1M39.0 182.1H40.9M38.0 104.3H37.5M37.5 104.3V165.9M37.5 165.9H39.0M46.7 189.6H45.3M45.3 189.6V190.4M45.3 190.4H46.7M45.3 190.0H44.8M44.8 190.0V191.1M44.8 191.1H46.7M46.7 191.9H45.3M45.3 191.9V192.7M45.3 192.7H46.7M44.8 190.6H44.0M44.0 190.6V192.3M44.0 192.3H45.3M46.7 193.5H45.4M45.4 193.5V194.3M45.4 194.3H46.7M44.0 191.4H42.8M42.8 191.4V193.9M42.8 193.9H45.4M46.7 195.0H45.2M45.2 195.0V195.8M45.2 195.8H46.7M46.7 197.4H45.6M45.6 197.4V198.1M45.6 198.1H46.7M46.7 198.9H45.5M45.5 198.9V199.7M45.5 199.7H46.7M45.6 197.8H43.7M43.7 197.8V199.3M43.7 199.3H45.5M46.7 196.6H43.4M43.4 196.6V198.5M43.4 198.5H43.7M45.2 195.4H43.1M43.1 195.4V197.6M43.1 197.6H43.4M42.8 192.6H41.5M41.5 192.6V196.5M41.5 196.5H43.1M46.7 200.5H45.7M45.7 200.5V201.3M45.7 201.3H46.7M46.7 202.0H45.5M45.5 202.0V202.8M45.5 202.8H46.7M45.5 202.4H44.9M44.9 202.4V203.6M44.9 203.6H46.7M46.7 204.4H45.2M45.2 204.4V205.2M45.2 205.2H46.7M45.2 204.8H44.7M44.7 204.8V205.9M44.7 205.9H46.7M46.7 206.7H45.5M45.5 206.7V207.5M45.5 207.5H46.7M44.7 205.4H43.5M43.5 205.4V207.1M43.5 207.1H45.5M43.5 206.2H43.2M43.2 206.2V208.3M43.2 208.3H46.7M44.9 203.0H42.7M42.7 203.0V207.2M42.7 207.2H43.2M45.7 200.9H42.4M42.4 200.9V205.1M42.4 205.1H42.7M41.5 194.6H40.4M40.4 194.6V203.0M40.4 203.0H42.4M46.7 209.1H45.4M45.4 209.1V209.8M45.4 209.8H46.7M45.4 209.4H44.9M44.9 209.4V210.6M44.9 210.6H46.7M46.7 211.4H45.6M45.6 211.4V212.2M45.6 212.2H46.7M44.9 210.0H44.1M44.1 210.0V211.8M44.1 211.8H45.6M46.7 213.7H45.7M45.7 213.7V214.5M45.7 214.5H46.7M46.7 212.9H44.6M44.6 212.9V214.1M44.6 214.1H45.7M44.6 213.5H43.7M43.7 213.5V215.3M43.7 215.3H46.7M44.1 210.9H42.5M42.5 210.9V214.4M42.5 214.4H43.7M46.7 216.8H45.7M45.7 216.8V217.6M45.7 217.6H46.7M46.7 216.1H44.9M44.9 216.1V217.2M44.9 217.2H45.7M42.5 212.7H42.2M42.2 212.7V216.6M42.2 216.6H44.9M46.7 218.4H45.5M45.5 218.4V219.2M45.5 219.2H46.7M45.5 218.8H44.8M44.8 218.8V220.0M44.8 220.0H46.7M46.7 221.5H45.5M45.5 221.5V222.3M45.5 222.3H46.7M46.7 220.7H44.6M44.6 220.7V221.9M44.6 221.9H45.5M44.8 219.4H43.7M43.7 219.4V221.3M43.7 221.3H44.6M46.7 223.1H45.1M45.1 223.1V223.8M45.1 223.8H46.7M46.7 224.6H44.9M44.9 224.6V225.4M44.9 225.4H46.7M44.9 225.0H44.6M44.6 225.0V226.2M44.6 226.2H46.7M45.1 223.5H43.5M43.5 223.5V225.6M43.5 225.6H44.6M46.7 227.0H45.1M45.1 227.0V227.7M45.1 227.7H46.7M43.5 224.5H42.8M42.8 224.5V227.4M42.8 227.4H45.1M43.7 220.3H42.2M42.2 220.3V225.9M42.2 225.9H42.8M42.2 214.6H41.0M41.0 214.6V223.1M41.0 223.1H42.2M46.7 229.3H45.4M45.4 229.3V230.1M45.4 230.1H46.7M46.7 228.5H44.1M44.1 228.5V229.7M44.1 229.7H45.4M46.7 230.9H45.5M45.5 230.9V231.6M45.5 231.6H46.7M46.7 232.4H45.1M45.1 232.4V233.2M45.1 233.2H46.7M45.5 231.2H44.4M44.4 231.2V232.8M44.4 232.8H45.1M46.7 234.0H44.9M44.9 234.0V234.8M44.9 234.8H46.7M46.7 235.5H44.9M44.9 235.5V236.3M44.9 236.3H46.7M44.9 235.9H44.6M44.6 235.9V237.1M44.6 237.1H46.7M44.9 234.4H44.0M44.0 234.4V236.5M44.0 236.5H44.6M44.4 232.0H42.3M42.3 232.0V235.4M42.3 235.4H44.0M44.1 229.1H42.0M42.0 229.1V233.7M42.0 233.7H42.3M41.0 218.9H40.4M40.4 218.9V231.4M40.4 231.4H42.0M46.7 237.9H45.7M45.7 237.9V238.6M45.7 238.6H46.7M46.7 239.4H44.9M44.9 239.4V240.2M44.9 240.2H46.7M44.9 239.8H44.6M44.6 239.8V241.0M44.6 241.0H46.7M45.7 238.3H43.9M43.9 238.3V240.4M43.9 240.4H44.6M46.7 242.5H45.5M45.5 242.5V243.3M45.5 243.3H46.7M46.7 244.1H45.5M45.5 244.1V244.9M45.5 244.9H46.7M45.5 242.9H44.5M44.5 242.9V244.5M44.5 244.5H45.5M46.7 241.8H44.1M44.1 241.8V243.7M44.1 243.7H44.5M43.9 239.3H42.0M42.0 239.3V242.7M42.0 242.7H44.1M46.7 246.4H45.4M45.4 246.4V247.2M45.4 247.2H46.7M46.7 245.7H44.5M44.5 245.7V246.8M44.5 246.8H45.4M42.0 241.0H41.7M41.7 241.0V246.2M41.7 246.2H44.5M46.7 248.8H45.2M45.2 248.8V249.5M45.2 249.5H46.7M46.7 250.3H45.6M45.6 250.3V251.1M45.6 251.1H46.7M45.2 249.2H44.5M44.5 249.2V250.7M44.5 250.7H45.6M46.7 248.0H43.6M43.6 248.0V249.9M43.6 249.9H44.5M46.7 251.9H45.2M45.2 251.9V252.7M45.2 252.7H46.7M45.2 252.3H44.4M44.4 252.3V253.4M44.4 253.4H46.7M46.7 255.0H45.0M45.0 255.0V255.8M45.0 255.8H46.7M46.7 254.2H44.7M44.7 254.2V255.4M44.7 255.4H45.0M44.7 254.8H44.4M44.4 254.8V256.6M44.4 256.6H46.7M44.4 252.9H43.2M43.2 252.9V255.7M43.2 255.7H44.4M43.6 249.0H42.4M42.4 249.0V254.3M42.4 254.3H43.2M41.7 243.6H40.5M40.5 243.6V251.6M40.5 251.6H42.4M40.4 225.2H38.8M38.8 225.2V247.6M38.8 247.6H40.5M40.4 198.8H38.5M38.5 198.8V236.4M38.5 236.4H38.8M46.7 258.9H45.2M45.2 258.9V259.7M45.2 259.7H46.7M46.7 258.1H44.8M44.8 258.1V259.3M44.8 259.3H45.2M46.7 257.3H44.4M44.4 257.3V258.7M44.4 258.7H44.8M46.7 260.5H45.5M45.5 260.5V261.2M45.5 261.2H46.7M46.7 262.0H45.4M45.4 262.0V262.8M45.4 262.8H46.7M46.7 264.3H45.2M45.2 264.3V265.1M45.2 265.1H46.7M46.7 263.6H44.2M44.2 263.6V264.7M44.2 264.7H45.2M45.4 262.4H43.5M43.5 262.4V264.1M43.5 264.1H44.2M45.5 260.8H42.8M42.8 260.8V263.3M42.8 263.3H43.5M46.7 265.9H45.0M45.0 265.9V266.7M45.0 266.7H46.7M46.7 267.5H44.9M44.9 267.5V268.2M44.9 268.2H46.7M45.0 266.3H43.8M43.8 266.3V267.8M43.8 267.8H44.9M42.8 262.1H42.0M42.0 262.1V267.1M42.0 267.1H43.8M44.4 258.0H41.7M41.7 258.0V264.6M41.7 264.6H42.0M46.7 269.8H45.5M45.5 269.8V270.6M45.5 270.6H46.7M46.7 269.0H44.4M44.4 269.0V270.2M44.4 270.2H45.5M46.7 272.1H45.2M45.2 272.1V272.9M45.2 272.9H46.7M46.7 271.4H44.9M44.9 271.4V272.5M44.9 272.5H45.2M46.7 275.2H44.9M44.9 275.2V276.0M44.9 276.0H46.7M46.7 276.8H45.5M45.5 276.8V277.6M45.5 277.6H46.7M44.9 275.6H44.1M44.1 275.6V277.2M44.1 277.2H45.5M46.7 274.5H43.8M43.8 274.5V276.4M43.8 276.4H44.1M46.7 273.7H43.5M43.5 273.7V275.4M43.5 275.4H43.8M44.9 271.9H43.0M43.0 271.9V274.6M43.0 274.6H43.5M44.4 269.6H42.0M42.0 269.6V273.3M42.0 273.3H43.0M46.7 278.4H45.6M45.6 278.4V279.1M45.6 279.1H46.7M46.7 280.7H45.0M45.0 280.7V281.5M45.0 281.5H46.7M46.7 279.9H44.7M44.7 279.9V281.1M44.7 281.1H45.0M44.7 280.5H44.2M44.2 280.5V282.3M44.2 282.3H46.7M45.6 278.8H42.9M42.9 278.8V281.4M42.9 281.4H44.2M46.7 283.0H45.4M45.4 283.0V283.8M45.4 283.8H46.7M46.7 284.6H44.9M44.9 284.6V285.4M44.9 285.4H46.7M45.4 283.4H44.0M44.0 283.4V285.0M44.0 285.0H44.9M42.9 280.1H42.0M42.0 280.1V284.2M42.0 284.2H44.0M46.7 286.9H45.4M45.4 286.9V287.7M45.4 287.7H46.7M46.7 286.1H45.0M45.0 286.1V287.3M45.0 287.3H45.4M46.7 288.5H45.7M45.7 288.5V289.3M45.7 289.3H46.7M45.0 286.7H43.6M43.6 286.7V288.9M43.6 288.9H45.7M42.0 282.1H41.7M41.7 282.1V287.8M41.7 287.8H43.6M42.0 271.4H40.3M40.3 271.4V285.0M40.3 285.0H41.7M46.7 290.0H45.6M45.6 290.0V290.8M45.6 290.8H46.7M46.7 291.6H45.1M45.1 291.6V292.4M45.1 292.4H46.7M45.1 292.0H44.8M44.8 292.0V293.2M44.8 293.2H46.7M45.6 290.4H43.8M43.8 290.4V292.6M43.8 292.6H44.8M46.7 293.9H45.0M45.0 293.9V294.7M45.0 294.7H46.7M46.7 295.5H45.6M45.6 295.5V296.3M45.6 296.3H46.7M46.7 297.1H45.3M45.3 297.1V297.8M45.3 297.8H46.7M45.6 295.9H44.5M44.5 295.9V297.4M44.5 297.4H45.3M44.5 296.7H43.9M43.9 296.7V298.6M43.9 298.6H46.7M45.0 294.3H43.4M43.4 294.3V297.6M43.4 297.6H43.9M43.8 291.5H41.9M41.9 291.5V296.0M41.9 296.0H43.4M40.3 278.2H39.6M39.6 278.2V293.7M39.6 293.7H41.9M41.7 261.3H39.3M39.3 261.3V286.0M39.3 286.0H39.6M38.5 217.6H37.4M37.4 217.6V273.6M37.4 273.6H39.3M37.5 135.1H36.3M36.3 135.1V245.6M36.3 245.6H37.4M46.7 299.3H45.1M45.1 299.3V300.0M45.1 300.0H46.7M46.7 301.4H45.6M45.6 301.4V302.0M45.6 302.0H46.7M46.7 300.7H44.6M44.6 300.7V301.7M44.6 301.7H45.6M46.7 303.4H45.3M45.3 303.4V304.0M45.3 304.0H46.7M46.7 302.7H44.0M44.0 302.7V303.7M44.0 303.7H45.3M46.7 304.7H45.0M45.0 304.7V305.4M45.0 305.4H46.7M45.0 305.1H44.3M44.3 305.1V306.1M44.3 306.1H46.7M44.0 303.2H43.0M43.0 303.2V305.6M43.0 305.6H44.3M44.6 301.2H42.0M42.0 301.2V304.4M42.0 304.4H43.0M45.1 299.7H41.7M41.7 299.7V302.8M41.7 302.8H42.0M46.7 307.4H45.6M45.6 307.4V308.1M45.6 308.1H46.7M46.7 306.7H44.5M44.5 306.7V307.8M44.5 307.8H45.6M46.7 308.8H45.0M45.0 308.8V309.4M45.0 309.4H46.7M44.5 307.2H43.2M43.2 307.2V309.1M43.2 309.1H45.0M46.7 310.8H45.4M45.4 310.8V311.5M45.4 311.5H46.7M46.7 310.1H44.2M44.2 310.1V311.1M44.2 311.1H45.4M43.2 308.2H42.9M42.9 308.2V310.6M42.9 310.6H44.2M46.7 312.1H44.8M44.8 312.1V312.8M44.8 312.8H46.7M46.7 313.5H44.9M44.9 313.5V314.1M44.9 314.1H46.7M44.8 312.5H43.6M43.6 312.5V313.8M43.6 313.8H44.9M46.7 314.8H45.5M45.5 314.8V315.5M45.5 315.5H46.7M43.6 313.1H43.0M43.0 313.1V315.2M43.0 315.2H45.5M42.9 309.4H41.1M41.1 309.4V314.1M41.1 314.1H43.0M41.7 301.2H40.5M40.5 301.2V311.8M40.5 311.8H41.1M46.7 316.2H45.3M45.3 316.2V316.8M45.3 316.8H46.7M46.7 318.2H44.8M44.8 318.2V318.9M44.8 318.9H46.7M46.7 317.5H44.0M44.0 317.5V318.5M44.0 318.5H44.8M45.3 316.5H43.3M43.3 316.5V318.0M43.3 318.0H44.0M46.7 319.5H45.0M45.0 319.5V320.2M45.0 320.2H46.7M46.7 320.9H45.0M45.0 320.9V321.6M45.0 321.6H46.7M45.0 319.9H44.0M44.0 319.9V321.2M44.0 321.2H45.0M43.3 317.3H41.9M41.9 317.3V320.5M41.9 320.5H44.0M46.7 322.9H45.4M45.4 322.9V323.6M45.4 323.6H46.7M46.7 322.2H44.3M44.3 322.2V323.2M44.3 323.2H45.4M41.9 318.9H41.4M41.4 318.9V322.7M41.4 322.7H44.3M40.5 306.5H39.8M39.8 306.5V320.8M39.8 320.8H41.4M46.7 324.9H44.9M44.9 324.9V325.6M44.9 325.6H46.7M44.9 325.3H44.2M44.2 325.3V326.3M44.2 326.3H46.7M46.7 324.2H43.9M43.9 324.2V325.8M43.9 325.8H44.2M46.7 326.9H45.4M45.4 326.9V327.6M45.4 327.6H46.7M45.4 327.3H44.6M44.6 327.3V328.3M44.6 328.3H46.7M46.7 329.0H45.5M45.5 329.0V329.6M45.5 329.6H46.7M46.7 330.3H45.5M45.5 330.3V331.0M45.5 331.0H46.7M45.5 329.3H43.8M43.8 329.3V330.6M43.8 330.6H45.5M44.6 327.8H42.7M42.7 327.8V330.0M42.7 330.0H43.8M43.9 325.0H42.2M42.2 325.0V328.9M42.2 328.9H42.7M46.7 331.7H45.1M45.1 331.7V332.3M45.1 332.3H46.7M46.7 333.0H45.6M45.6 333.0V333.7M45.6 333.7H46.7M45.6 333.3H44.4M44.4 333.3V334.4M44.4 334.4H46.7M45.1 332.0H43.1M43.1 332.0V333.8M43.1 333.8H44.4M42.2 326.9H40.7M40.7 326.9V332.9M40.7 332.9H43.1M46.7 335.0H45.4M45.4 335.0V335.7M45.4 335.7H46.7M46.7 336.4H44.9M44.9 336.4V337.0M44.9 337.0H46.7M45.4 335.4H43.9M43.9 335.4V336.7M43.9 336.7H44.9M43.9 336.0H43.6M43.6 336.0V337.7M43.6 337.7H46.7M46.7 338.4H45.6M45.6 338.4V339.1M45.6 339.1H46.7M46.7 340.4H45.0M45.0 340.4V341.1M45.0 341.1H46.7M46.7 341.8H44.9M44.9 341.8V342.4M44.9 342.4H46.7M45.0 340.7H43.6M43.6 340.7V342.1M43.6 342.1H44.9M46.7 339.7H43.2M43.2 339.7V341.4M43.2 341.4H43.6M45.6 338.7H42.4M42.4 338.7V340.6M42.4 340.6H43.2M43.6 336.9H41.3M41.3 336.9V339.7M41.3 339.7H42.4M40.7 329.9H39.9M39.9 329.9V338.3M39.9 338.3H41.3M39.8 313.7H38.0M38.0 313.7V334.1M38.0 334.1H39.9M46.7 343.1H45.5M45.5 343.1V343.8M45.5 343.8H46.7M46.7 344.4H45.0M45.0 344.4V345.1M45.0 345.1H46.7M46.7 345.8H45.3M45.3 345.8V346.5M45.3 346.5H46.7M45.3 346.1H44.4M44.4 346.1V347.1M44.4 347.1H46.7M45.0 344.8H43.5M43.5 344.8V346.6M43.5 346.6H44.4M45.5 343.4H43.1M43.1 343.4V345.7M43.1 345.7H43.5M46.7 348.5H44.8M44.8 348.5V349.2M44.8 349.2H46.7M46.7 347.8H44.5M44.5 347.8V348.8M44.5 348.8H44.8M46.7 349.8H45.0M45.0 349.8V350.5M45.0 350.5H46.7M44.5 348.3H43.6M43.6 348.3V350.2M43.6 350.2H45.0M46.7 351.2H45.3M45.3 351.2V351.9M45.3 351.9H46.7M46.7 352.5H45.4M45.4 352.5V353.2M45.4 353.2H46.7M45.4 352.9H44.4M44.4 352.9V353.9M44.4 353.9H46.7M44.4 353.4H43.7M43.7 353.4V354.5M43.7 354.5H46.7M45.3 351.5H42.8M42.8 351.5V354.0M42.8 354.0H43.7M43.6 349.2H41.8M41.8 349.2V352.7M41.8 352.7H42.8M46.7 355.9H45.2M45.2 355.9V356.6M45.2 356.6H46.7M46.7 355.2H44.8M44.8 355.2V356.2M44.8 356.2H45.2M46.7 357.2H45.1M45.1 357.2V357.9M45.1 357.9H46.7M46.7 359.3H45.6M45.6 359.3V359.9M45.6 359.9H46.7M46.7 358.6H44.4M44.4 358.6V359.6M44.4 359.6H45.6M45.1 357.6H43.0M43.0 357.6V359.1M43.0 359.1H44.4M44.8 355.7H42.5M42.5 355.7V358.3M42.5 358.3H43.0M41.8 351.0H40.9M40.9 351.0V357.0M40.9 357.0H42.5M43.1 344.6H39.8M39.8 344.6V354.0M39.8 354.0H40.9M38.0 323.9H37.7M37.7 323.9V349.3M37.7 349.3H39.8M46.7 360.6H45.6M45.6 360.6V361.3M45.6 361.3H46.7M45.6 360.9H44.6M44.6 360.9V362.0M44.6 362.0H46.7M46.7 362.6H45.5M45.5 362.6V363.3M45.5 363.3H46.7M45.5 363.0H44.0M44.0 363.0V364.0M44.0 364.0H46.7M46.7 365.3H45.6M45.6 365.3V366.0M45.6 366.0H46.7M46.7 364.6H44.6M44.6 364.6V365.7M44.6 365.7H45.6M44.0 363.5H42.7M42.7 363.5V365.2M42.7 365.2H44.6M46.7 366.7H45.3M45.3 366.7V367.3M45.3 367.3H46.7M46.7 368.0H45.3M45.3 368.0V368.7M45.3 368.7H46.7M45.3 367.0H43.8M43.8 367.0V368.4M43.8 368.4H45.3M46.7 369.4H45.1M45.1 369.4V370.0M45.1 370.0H46.7M45.1 369.7H44.8M44.8 369.7V370.7M44.8 370.7H46.7M43.8 367.7H43.2M43.2 367.7V370.2M43.2 370.2H44.8M42.7 364.3H41.3M41.3 364.3V368.9M41.3 368.9H43.2M44.6 361.5H41.0M41.0 361.5V366.6M41.0 366.6H41.3M46.7 372.1H45.0M45.0 372.1V372.7M45.0 372.7H46.7M46.7 371.4H44.1M44.1 371.4V372.4M44.1 372.4H45.0M44.1 371.9H43.8M43.8 371.9V373.4M43.8 373.4H46.7M46.7 374.1H45.3M45.3 374.1V374.8M45.3 374.8H46.7M43.8 372.6H42.6M42.6 372.6V374.4M42.6 374.4H45.3M46.7 375.4H45.5M45.5 375.4V376.1M45.5 376.1H46.7M42.6 373.5H42.3M42.3 373.5V375.8M42.3 375.8H45.5M41.0 364.0H40.6M40.6 364.0V374.6M40.6 374.6H42.3M46.7 378.1H45.6M45.6 378.1V378.8M45.6 378.8H46.7M46.7 377.4H44.5M44.5 377.4V378.5M44.5 378.5H45.6M46.7 376.8H43.5M43.5 376.8V377.9M43.5 377.9H44.5M46.7 379.5H45.5M45.5 379.5V380.1M45.5 380.1H46.7M43.5 377.4H43.2M43.2 377.4V379.8M43.2 379.8H45.5M46.7 381.5H44.8M44.8 381.5V382.2M44.8 382.2H46.7M46.7 380.8H44.0M44.0 380.8V381.8M44.0 381.8H44.8M46.7 383.5H45.3M45.3 383.5V384.2M45.3 384.2H46.7M46.7 382.8H44.6M44.6 382.8V383.8M44.6 383.8H45.3M44.0 381.3H42.8M42.8 381.3V383.3M42.8 383.3H44.6M46.7 384.9H45.0M45.0 384.9V385.5M45.0 385.5H46.7M42.8 382.3H42.5M42.5 382.3V385.2M42.5 385.2H45.0M46.7 386.2H45.0M45.0 386.2V386.9M45.0 386.9H46.7M45.0 386.5H44.7M44.7 386.5V387.5M44.7 387.5H46.7M42.5 383.8H42.2M42.2 383.8V387.0M42.2 387.0H44.7M43.2 378.6H40.9M40.9 378.6V385.4M40.9 385.4H42.2M46.7 388.9H44.8M44.8 388.9V389.6M44.8 389.6H46.7M46.7 388.2H44.5M44.5 388.2V389.2M44.5 389.2H44.8M46.7 390.9H45.0M45.0 390.9V391.6M45.0 391.6H46.7M46.7 390.2H44.7M44.7 390.2V391.2M44.7 391.2H45.0M46.7 392.3H45.0M45.0 392.3V392.9M45.0 392.9H46.7M44.7 390.7H43.9M43.9 390.7V392.6M43.9 392.6H45.0M44.5 388.7H42.3M42.3 388.7V391.7M42.3 391.7H43.9M46.7 393.6H45.6M45.6 393.6V394.3M45.6 394.3H46.7M45.6 393.9H44.4M44.4 393.9V394.9M44.4 394.9H46.7M46.7 395.6H45.3M45.3 395.6V396.3M45.3 396.3H46.7M44.4 394.4H43.6M43.6 394.4V396.0M43.6 396.0H45.3M46.7 397.6H45.1M45.1 397.6V398.3M45.1 398.3H46.7M46.7 399.0H45.3M45.3 399.0V399.7M45.3 399.7H46.7M45.1 398.0H43.8M43.8 398.0V399.3M43.8 399.3H45.3M46.7 397.0H43.2M43.2 397.0V398.7M43.2 398.7H43.8M43.6 395.2H41.7M41.7 395.2V397.8M41.7 397.8H43.2M42.3 390.2H40.5M40.5 390.2V396.5M40.5 396.5H41.7M40.9 382.0H39.2M39.2 382.0V393.4M39.2 393.4H40.5M40.6 369.3H38.8M38.8 369.3V387.7M38.8 387.7H39.2M37.7 336.6H37.1M37.1 336.6V378.5M37.1 378.5H38.8M46.7 400.4H45.7M45.7 400.4V401.1M45.7 401.1H46.7M45.7 400.7H44.9M44.9 400.7V401.9M44.9 401.9H46.7M46.7 403.3H45.7M45.7 403.3V404.1M45.7 404.1H46.7M46.7 402.6H45.1M45.1 402.6V403.7M45.1 403.7H45.7M44.9 401.3H44.6M44.6 401.3V403.1M44.6 403.1H45.1M46.7 405.6H45.8M45.8 405.6V406.3M45.8 406.3H46.7M46.7 404.8H45.5M45.5 404.8V405.9M45.5 405.9H45.8M46.7 407.0H45.9M45.9 407.0V407.8M45.9 407.8H46.7M45.9 407.4H44.9M44.9 407.4V408.5M44.9 408.5H46.7M45.5 405.4H44.1M44.1 405.4V408.0M44.1 408.0H44.9M44.6 402.2H43.7M43.7 402.2V406.7M43.7 406.7H44.1M46.7 410.0H45.9M45.9 410.0V410.7M45.9 410.7H46.7M46.7 409.3H45.4M45.4 409.3V410.4M45.4 410.4H45.9M46.7 411.5H45.8M45.8 411.5V412.2M45.8 412.2H46.7M45.4 409.8H44.2M44.2 409.8V411.9M44.2 411.9H45.8M46.7 413.0H46.0M46.0 413.0V413.7M46.0 413.7H46.7M44.2 410.8H43.9M43.9 410.8V413.3M43.9 413.3H46.0M43.7 404.4H42.7M42.7 404.4V412.1M42.7 412.1H43.9M46.7 414.4H45.4M45.4 414.4V415.2M45.4 415.2H46.7M46.7 416.7H45.5M45.5 416.7V417.4M45.5 417.4H46.7M45.5 417.0H45.1M45.1 417.0V418.2M45.1 418.2H46.7M46.7 415.9H44.7M44.7 415.9V417.6M44.7 417.6H45.1M44.7 416.8H44.4M44.4 416.8V418.9M44.4 418.9H46.7M46.7 421.1H46.1M46.1 421.1V421.9M46.1 421.9H46.7M46.7 420.4H45.6M45.6 420.4V421.5M45.6 421.5H46.1M46.7 419.6H44.9M44.9 419.6V420.9M44.9 420.9H45.6M44.9 420.3H44.4M44.4 420.3V422.6M44.4 422.6H46.7M44.4 417.8H43.4M43.4 417.8V421.4M43.4 421.4H44.4M45.4 414.8H43.1M43.1 414.8V419.6M43.1 419.6H43.4M46.7 423.3H45.4M45.4 423.3V424.1M45.4 424.1H46.7M46.7 424.8H45.9M45.9 424.8V425.6M45.9 425.6H46.7M46.7 426.3H45.5M45.5 426.3V427.0M45.5 427.0H46.7M46.7 427.8H45.7M45.7 427.8V428.5M45.7 428.5H46.7M46.7 429.3H46.0M46.0 429.3V430.0M46.0 430.0H46.7M45.7 428.2H45.1M45.1 428.2V429.6M45.1 429.6H46.0M45.5 426.7H44.0M44.0 426.7V428.9M44.0 428.9H45.1M45.9 425.2H43.7M43.7 425.2V427.8M43.7 427.8H44.0M45.4 423.7H43.4M43.4 423.7V426.5M43.4 426.5H43.7M43.1 417.2H42.8M42.8 417.2V425.1M42.8 425.1H43.4M42.7 408.3H42.4M42.4 408.3V421.2M42.4 421.2H42.8M46.7 430.7H45.5M45.5 430.7V431.5M45.5 431.5H46.7M46.7 432.2H45.3M45.3 432.2V433.0M45.3 433.0H46.7M46.7 433.7H45.9M45.9 433.7V434.5M45.9 434.5H46.7M45.3 432.6H44.9M44.9 432.6V434.1M44.9 434.1H45.9M45.5 431.1H44.3M44.3 431.1V433.3M44.3 433.3H44.9M46.7 435.9H45.4M45.4 435.9V436.7M45.4 436.7H46.7M46.7 435.2H45.1M45.1 435.2V436.3M45.1 436.3H45.4M46.7 437.4H45.9M45.9 437.4V438.2M45.9 438.2H46.7M45.1 435.7H44.7M44.7 435.7V437.8M44.7 437.8H45.9M46.7 439.6H45.3M45.3 439.6V440.4M45.3 440.4H46.7M45.3 440.0H45.0M45.0 440.0V441.1M45.0 441.1H46.7M46.7 438.9H44.6M44.6 438.9V440.6M44.6 440.6H45.0M44.6 439.7H44.3M44.3 439.7V441.9M44.3 441.9H46.7M44.7 436.8H44.0M44.0 436.8V440.8M44.0 440.8H44.3M46.7 442.6H45.6M45.6 442.6V443.3M45.6 443.3H46.7M45.6 443.0H45.3M45.3 443.0V444.1M45.3 444.1H46.7M44.0 438.8H43.0M43.0 438.8V443.5M43.0 443.5H45.3M44.3 432.2H42.7M42.7 432.2V441.2M42.7 441.2H43.0M46.7 444.8H45.9M45.9 444.8V445.6M45.9 445.6H46.7M46.7 447.0H45.5M45.5 447.0V447.8M45.5 447.8H46.7M46.7 446.3H45.2M45.2 446.3V447.4M45.2 447.4H45.5M45.9 445.2H44.2M44.2 445.2V446.9M44.2 446.9H45.2M46.7 449.3H46.0M46.0 449.3V450.0M46.0 450.0H46.7M46.7 448.5H44.8M44.8 448.5V449.6M44.8 449.6H46.0M44.2 446.0H43.7M43.7 446.0V449.1M43.7 449.1H44.8M46.7 450.8H45.8M45.8 450.8V451.5M45.8 451.5H46.7M46.7 452.2H46.1M46.1 452.2V453.0M46.1 453.0H46.7M45.8 451.1H44.8M44.8 451.1V452.6M44.8 452.6H46.1M46.7 453.7H46.1M46.1 453.7V454.5M46.1 454.5H46.7M44.8 451.9H44.3M44.3 451.9V454.1M44.3 454.1H46.1M43.7 447.6H42.9M42.9 447.6V453.0M42.9 453.0H44.3M42.7 436.7H41.9M41.9 436.7V450.3M41.9 450.3H42.9M46.7 455.2H45.7M45.7 455.2V455.9M45.7 455.9H46.7M45.7 455.6H45.4M45.4 455.6V456.7M45.4 456.7H46.7M46.7 457.4H45.7M45.7 457.4V458.2M45.7 458.2H46.7M46.7 458.9H45.8M45.8 458.9V459.6M45.8 459.6H46.7M45.7 457.8H45.1M45.1 457.8V459.3M45.1 459.3H45.8M46.7 460.4H45.8M45.8 460.4V461.1M45.8 461.1H46.7M45.8 460.8H45.1M45.1 460.8V461.9M45.1 461.9H46.7M45.1 458.5H43.8M43.8 458.5V461.3M43.8 461.3H45.1M46.7 462.6H45.4M45.4 462.6V463.3M45.4 463.3H46.7M43.8 459.9H43.5M43.5 459.9V463.0M43.5 463.0H45.4M45.4 456.1H43.2M43.2 456.1V461.4M43.2 461.4H43.5M46.7 464.1H45.8M45.8 464.1V464.8M45.8 464.8H46.7M45.8 464.5H44.8M44.8 464.5V465.6M44.8 465.6H46.7M46.7 467.1H45.9M45.9 467.1V467.8M45.9 467.8H46.7M46.7 466.3H45.2M45.2 466.3V467.4M45.2 467.4H45.9M46.7 468.5H45.6M45.6 468.5V469.3M45.6 469.3H46.7M45.2 466.9H44.9M44.9 466.9V468.9M44.9 468.9H45.6M46.7 470.8H46.1M46.1 470.8V471.5M46.1 471.5H46.7M46.1 471.1H44.8M44.8 471.1V472.2M44.8 472.2H46.7M46.7 470.0H44.5M44.5 470.0V471.7M44.5 471.7H44.8M44.9 467.9H44.2M44.2 467.9V470.8M44.2 470.8H44.5M44.8 465.0H43.9M43.9 465.0V469.4M43.9 469.4H44.2M43.2 458.8H42.7M42.7 458.8V467.2M42.7 467.2H43.9M41.9 443.5H41.5M41.5 443.5V463.0M41.5 463.0H42.7M46.7 473.0H45.9M45.9 473.0V473.7M45.9 473.7H46.7M46.7 475.2H46.0M46.0 475.2V475.9M46.0 475.9H46.7M46.7 474.5H45.0M45.0 474.5V475.6M45.0 475.6H46.0M46.7 476.7H45.6M45.6 476.7V477.4M45.6 477.4H46.7M46.7 478.2H45.4M45.4 478.2V478.9M45.4 478.9H46.7M45.6 477.1H44.5M44.5 477.1V478.5M44.5 478.5H45.4M45.0 475.0H44.2M44.2 475.0V477.8M44.2 477.8H44.5M45.9 473.4H43.9M43.9 473.4V476.4M43.9 476.4H44.2M46.7 481.1H45.3M45.3 481.1V481.9M45.3 481.9H46.7M46.7 480.4H45.0M45.0 480.4V481.5M45.0 481.5H45.3M46.7 479.6H44.7M44.7 479.6V480.9M44.7 480.9H45.0M46.7 482.6H45.5M45.5 482.6V483.4M45.5 483.4H46.7M44.7 480.3H44.4M44.4 480.3V483.0M44.4 483.0H45.5M43.9 474.9H42.8M42.8 474.9V481.6M42.8 481.6H44.4M46.7 484.1H45.5M45.5 484.1V484.8M45.5 484.8H46.7M46.7 486.3H45.7M45.7 486.3V487.1M45.7 487.1H46.7M46.7 485.6H45.0M45.0 485.6V486.7M45.0 486.7H45.7M45.5 484.5H44.5M44.5 484.5V486.1M44.5 486.1H45.0M46.7 488.5H46.1M46.1 488.5V489.3M46.1 489.3H46.7M46.7 487.8H44.9M44.9 487.8V488.9M44.9 488.9H46.1M44.9 488.4H44.6M44.6 488.4V490.0M44.6 490.0H46.7M44.5 485.3H43.6M43.6 485.3V489.2M43.6 489.2H44.6M46.7 491.5H46.0M46.0 491.5V492.2M46.0 492.2H46.7M46.0 491.9H45.5M45.5 491.9V493.0M45.5 493.0H46.7M46.7 490.8H44.4M44.4 490.8V492.4M44.4 492.4H45.5M43.6 487.2H43.1M43.1 487.2V491.6M43.1 491.6H44.4M46.7 494.5H45.9M45.9 494.5V495.2M45.9 495.2H46.7M46.7 493.7H45.4M45.4 493.7V494.8M45.4 494.8H45.9M46.7 495.9H45.6M45.6 495.9V496.7M45.6 496.7H46.7M45.4 494.3H44.5M44.5 494.3V496.3M44.5 496.3H45.6M46.7 497.4H45.7M45.7 497.4V498.2M45.7 498.2H46.7M44.5 495.3H44.2M44.2 495.3V497.8M44.2 497.8H45.7M46.7 499.7H45.5M45.5 499.7V500.4M45.5 500.4H46.7M46.7 498.9H45.2M45.2 498.9V500.0M45.2 500.0H45.5M46.7 501.1H46.1M46.1 501.1V501.9M46.1 501.9H46.7M45.2 499.5H44.8M44.8 499.5V501.5M44.8 501.5H46.1M46.7 502.6H46.1M46.1 502.6V503.4M46.1 503.4H46.7M46.7 504.8H45.8M45.8 504.8V505.6M45.8 505.6H46.7M46.7 504.1H44.9M44.9 504.1V505.2M44.9 505.2H45.8M44.9 504.7H44.6M44.6 504.7V506.3M44.6 506.3H46.7M46.1 503.0H44.3M44.3 503.0V505.5M44.3 505.5H44.6M46.7 507.8H45.5M45.5 507.8V508.5M45.5 508.5H46.7M46.7 507.1H45.1M45.1 507.1V508.2M45.1 508.2H45.5M44.3 504.2H43.6M43.6 504.2V507.6M43.6 507.6H45.1M44.8 500.5H43.2M43.2 500.5V505.9M43.2 505.9H43.6M44.2 496.5H42.6M42.6 496.5V503.2M42.6 503.2H43.2M43.1 489.4H41.9M41.9 489.4V499.9M41.9 499.9H42.6M42.8 478.3H41.6M41.6 478.3V494.6M41.6 494.6H41.9M46.7 509.3H46.1M46.1 509.3V510.0M46.1 510.0H46.7M46.1 509.7H45.3M45.3 509.7V510.8M45.3 510.8H46.7M45.3 510.2H45.0M45.0 510.2V511.5M45.0 511.5H46.7M46.7 512.2H46.1M46.1 512.2V513.0M46.1 513.0H46.7M46.7 513.7H45.5M45.5 513.7V514.5M45.5 514.5H46.7M46.7 516.0H45.3M45.3 516.0V516.7M45.3 516.7H46.7M46.7 515.2H44.8M44.8 515.2V516.3M44.8 516.3H45.3M45.5 514.1H44.4M44.4 514.1V515.8M44.4 515.8H44.8M46.1 512.6H44.1M44.1 512.6V514.9M44.1 514.9H44.4M46.7 517.4H46.1M46.1 517.4V518.2M46.1 518.2H46.7M46.7 518.9H45.5M45.5 518.9V519.7M45.5 519.7H46.7M46.1 517.8H44.7M44.7 517.8V519.3M44.7 519.3H45.5M46.7 520.4H45.4M45.4 520.4V521.1M45.4 521.1H46.7M46.7 521.9H45.4M45.4 521.9V522.6M45.4 522.6H46.7M45.4 520.8H44.9M44.9 520.8V522.2M44.9 522.2H45.4M44.9 521.5H44.4M44.4 521.5V523.4M44.4 523.4H46.7M44.7 518.5H43.7M43.7 518.5V522.4M43.7 522.4H44.4M44.1 513.8H42.8M42.8 513.8V520.5M42.8 520.5H43.7M45.0 510.9H42.5M42.5 510.9V517.1M42.5 517.1H42.8M41.6 486.5H41.3M41.3 486.5V514.0M41.3 514.0H42.5M41.5 453.2H40.9M40.9 453.2V500.2M40.9 500.2H41.3M42.4 414.7H40.4M40.4 414.7V476.7M40.4 476.7H40.9M46.7 524.1H45.8M45.8 524.1V524.8M45.8 524.8H46.7M45.8 524.5H45.5M45.5 524.5V525.6M45.5 525.6H46.7M46.7 527.1H45.9M45.9 527.1V527.8M45.9 527.8H46.7M46.7 526.3H45.6M45.6 526.3V527.4M45.6 527.4H45.9M46.7 528.5H45.8M45.8 528.5V529.3M45.8 529.3H46.7M45.6 526.9H44.9M44.9 526.9V528.9M44.9 528.9H45.8M45.5 525.0H44.4M44.4 525.0V527.9M44.4 527.9H44.9M46.7 530.0H45.4M45.4 530.0V530.8M45.4 530.8H46.7M46.7 531.5H45.3M45.3 531.5V532.3M45.3 532.3H46.7M45.4 530.4H45.0M45.0 530.4V531.9M45.0 531.9H45.3M44.4 526.5H43.8M43.8 526.5V531.1M43.8 531.1H45.0M46.7 534.5H45.4M45.4 534.5V535.2M45.4 535.2H46.7M45.4 534.8H45.1M45.1 534.8V536.0M45.1 536.0H46.7M46.7 536.7H45.6M45.6 536.7V537.4M45.6 537.4H46.7M45.1 535.4H44.5M44.5 535.4V537.1M44.5 537.1H45.6M46.7 533.7H44.2M44.2 533.7V536.2M44.2 536.2H44.5M46.7 533.0H43.9M43.9 533.0V535.0M43.9 535.0H44.2M43.8 528.8H43.0M43.0 528.8V534.0M43.0 534.0H43.9M46.7 538.2H45.7M45.7 538.2V538.9M45.7 538.9H46.7M45.7 538.6H45.4M45.4 538.6V539.7M45.4 539.7H46.7M46.7 540.4H45.5M45.5 540.4V541.1M45.5 541.1H46.7M45.5 540.8H45.2M45.2 540.8V541.9M45.2 541.9H46.7M46.7 542.6H45.4M45.4 542.6V543.4M45.4 543.4H46.7M45.2 541.3H44.3M44.3 541.3V543.0M44.3 543.0H45.4M45.4 539.1H44.0M44.0 539.1V542.2M44.0 542.2H44.3M46.7 544.1H45.6M45.6 544.1V544.8M45.6 544.8H46.7M45.6 544.5H44.8M44.8 544.5V545.6M44.8 545.6H46.7M46.7 547.1H45.8M45.8 547.1V547.8M45.8 547.8H46.7M45.8 547.4H45.5M45.5 547.4V548.6M45.5 548.6H46.7M46.7 546.3H45.0M45.0 546.3V548.0M45.0 548.0H45.5M46.7 550.0H45.5M45.5 550.0V550.8M45.5 550.8H46.7M46.7 549.3H45.2M45.2 549.3V550.4M45.2 550.4H45.5M45.0 547.2H44.4M44.4 547.2V549.8M44.4 549.8H45.2M44.8 545.0H44.1M44.1 545.0V548.5M44.1 548.5H44.4M46.7 551.5H45.9M45.9 551.5V552.3M45.9 552.3H46.7M46.7 554.5H46.1M46.1 554.5V555.2M46.1 555.2H46.7M46.7 553.7H45.3M45.3 553.7V554.9M45.3 554.9H46.1M46.7 553.0H45.0M45.0 553.0V554.3M45.0 554.3H45.3M45.9 551.9H44.2M44.2 551.9V553.6M44.2 553.6H45.0M44.1 546.8H43.2M43.2 546.8V552.8M43.2 552.8H44.2M44.0 540.6H42.9M42.9 540.6V549.8M42.9 549.8H43.2M46.7 556.0H45.4M45.4 556.0V556.7M45.4 556.7H46.7M45.4 556.3H45.1M45.1 556.3V557.4M45.1 557.4H46.7M46.7 559.7H45.4M45.4 559.7V560.4M45.4 560.4H46.7M46.7 558.9H45.1M45.1 558.9V560.0M45.1 560.0H45.4M46.7 558.2H44.8M44.8 558.2V559.5M44.8 559.5H45.1M45.1 556.9H44.2M44.2 556.9V558.8M44.2 558.8H44.8M46.7 561.1H45.7M45.7 561.1V561.9M45.7 561.9H46.7M45.7 561.5H45.1M45.1 561.5V562.6M45.1 562.6H46.7M44.2 557.9H43.6M43.6 557.9V562.1M43.6 562.1H45.1M42.9 545.2H42.3M42.3 545.2V560.0M42.3 560.0H43.6M43.0 531.4H41.7M41.7 531.4V552.6M41.7 552.6H42.3M40.4 445.7H40.1M40.1 445.7V542.0M40.1 542.0H41.7M37.1 357.5H35.5M35.5 357.5V493.9M35.5 493.9H40.1" stroke="#3c3c3c" stroke-width="0.42" fill="none"/>
<path d="M40.2 42 H46.7 V48.5 L44 47 L41.5 44.5 Z" fill="#111"/>
</g>
<path d="M22.3 180.4 H32.6 M32.6 60.3 V299 M32.6 60.3 H34.3 M32.6 299 H37.5 M22.5 370.8 H35.5" stroke="#9a9a9a" stroke-width="0.7" fill="none"/>
<text x="177.20" y="46.60" font-size="7.00" text-anchor="start" font-weight="bold" font-style="normal" fill="#000" stroke="#000" stroke-width="0.16" >Sample order</text>
<rect x="170.5" y="52.3" width="6.4" height="49.7" fill="#b8d8a4"/>
<text x="180.80" y="57.20" font-size="6.60" text-anchor="start" font-weight="normal" font-style="normal" fill="#0a0a0a" stroke="#0a0a0a" stroke-width="0.16" >1 - Healthy 1</text>
<text x="180.80" y="66.10" font-size="6.60" text-anchor="start" font-weight="normal" font-style="normal" fill="#0a0a0a" stroke="#0a0a0a" stroke-width="0.16" >2 - Healthy 2</text>
<text x="180.80" y="75.00" font-size="6.60" text-anchor="start" font-weight="normal" font-style="normal" fill="#0a0a0a" stroke="#0a0a0a" stroke-width="0.16" >3 - Healthy 3</text>
<text x="180.80" y="83.90" font-size="6.60" text-anchor="start" font-weight="normal" font-style="normal" fill="#0a0a0a" stroke="#0a0a0a" stroke-width="0.16" >4 - Healthy 1</text>
<text x="180.80" y="92.80" font-size="6.60" text-anchor="start" font-weight="normal" font-style="normal" fill="#0a0a0a" stroke="#0a0a0a" stroke-width="0.16" >5 - Healthy 2</text>
<text x="180.80" y="101.70" font-size="6.60" text-anchor="start" font-weight="normal" font-style="normal" fill="#0a0a0a" stroke="#0a0a0a" stroke-width="0.16" >6 - Healthy 3</text>
<rect x="170.5" y="111.5" width="6.4" height="65.4" fill="#9ec0e6"/>
<text x="180.8" y="115.80" font-size="6.6" fill="#0a0a0a" stroke="#0a0a0a" stroke-width="0.16">1 - <tspan fill="#c8202a" stroke="#c8202a">WM7</tspan></text>
<text x="180.8" y="124.64" font-size="6.6" fill="#0a0a0a" stroke="#0a0a0a" stroke-width="0.16">2 - <tspan fill="#0a0a0a" stroke="#0a0a0a">WM6</tspan></text>
<text x="180.8" y="133.48" font-size="6.6" fill="#0a0a0a" stroke="#0a0a0a" stroke-width="0.16">3 - <tspan fill="#0a0a0a" stroke="#0a0a0a">WM5</tspan></text>
<text x="180.8" y="142.32" font-size="6.6" fill="#0a0a0a" stroke="#0a0a0a" stroke-width="0.16">4 - <tspan fill="#c8202a" stroke="#c8202a">WM4</tspan></text>
<text x="180.8" y="151.16" font-size="6.6" fill="#0a0a0a" stroke="#0a0a0a" stroke-width="0.16">5 - <tspan fill="#c8202a" stroke="#c8202a">WM7</tspan></text>
<text x="180.8" y="160.00" font-size="6.6" fill="#0a0a0a" stroke="#0a0a0a" stroke-width="0.16">6 - <tspan fill="#0a0a0a" stroke="#0a0a0a">WM6</tspan></text>
<text x="180.8" y="168.84" font-size="6.6" fill="#0a0a0a" stroke="#0a0a0a" stroke-width="0.16">7 - <tspan fill="#0a0a0a" stroke="#0a0a0a">WM15</tspan></text>
<text x="180.8" y="177.68" font-size="6.6" fill="#0a0a0a" stroke="#0a0a0a" stroke-width="0.16">8 - <tspan fill="#0a0a0a" stroke="#0a0a0a">WM11</tspan></text>
<text x="185.00" y="198.00" font-size="6.60" text-anchor="middle" font-weight="normal" font-style="normal" fill="#0a0a0a" stroke="#0a0a0a" stroke-width="0.16" >Relative</text>
<text x="184.00" y="206.10" font-size="6.60" text-anchor="middle" font-weight="normal" font-style="normal" fill="#0a0a0a" stroke="#0a0a0a" stroke-width="0.16" >expression</text>
<defs><linearGradient id="cb" x1="0" y1="0" x2="0" y2="1"><stop offset="0" stop-color="#e0001c"/><stop offset="0.3" stop-color="#ff0c0c"/><stop offset="0.5" stop-color="#ffffff"/><stop offset="0.62" stop-color="#c8c4e4"/><stop offset="0.8" stop-color="#4a46a0"/><stop offset="1" stop-color="#1c1c78"/></linearGradient></defs>
<rect x="182" y="211" width="4.2" height="58" fill="url(#cb)" stroke="#888" stroke-width="0.3"/>
<text x="189.80" y="216.80" font-size="6.80" text-anchor="start" font-weight="normal" font-style="normal" fill="#0a0a0a" stroke="#0a0a0a" stroke-width="0.16" >3</text>
<text x="189.80" y="227.50" font-size="6.80" text-anchor="start" font-weight="normal" font-style="normal" fill="#0a0a0a" stroke="#0a0a0a" stroke-width="0.16" >1.8</text>
<text x="189.80" y="237.70" font-size="6.80" text-anchor="start" font-weight="normal" font-style="normal" fill="#0a0a0a" stroke="#0a0a0a" stroke-width="0.16" >0</text>
<text x="189.80" y="249.00" font-size="6.80" text-anchor="start" font-weight="normal" font-style="normal" fill="#0a0a0a" stroke="#0a0a0a" stroke-width="0.16" >-</text>
<text x="189.80" y="259.50" font-size="6.80" text-anchor="start" font-weight="normal" font-style="normal" fill="#0a0a0a" stroke="#0a0a0a" stroke-width="0.16" >1.8</text>
<text x="189.80" y="269.80" font-size="6.80" text-anchor="start" font-weight="normal" font-style="normal" fill="#0a0a0a" stroke="#0a0a0a" stroke-width="0.16" >-3</text>
<text x="237.80" y="17.50" font-size="12.80" text-anchor="start" font-weight="bold" font-style="normal" fill="#000" stroke="#000" stroke-width="0.16" >B</text>
<defs><clipPath id="vc0"><circle cx="306.40" cy="52.00" r="33.70"/></clipPath></defs>
<circle cx="306.40" cy="52.00" r="33.70" fill="#d98ea2"/>
<circle cx="339.00" cy="52.10" r="26.50" fill="#a7b5cc"/>
<circle cx="339.00" cy="52.10" r="26.50" fill="#947a9b" clip-path="url(#vc0)"/>
<text x="292.30" y="54.10" font-size="7.00" text-anchor="middle" font-weight="normal" font-style="normal" fill="#1a1a1a" stroke="#1a1a1a" stroke-width="0.16" >3796</text>
<text x="326.30" y="54.10" font-size="7.00" text-anchor="middle" font-weight="normal" font-style="normal" fill="#1a1a1a" stroke="#1a1a1a" stroke-width="0.16" >51361</text>
<text x="352.70" y="54.10" font-size="7.00" text-anchor="middle" font-weight="normal" font-style="normal" fill="#1a1a1a" stroke="#1a1a1a" stroke-width="0.16" >1675</text>
<text x="246.30" y="50.40" font-size="6.80" text-anchor="start" font-weight="normal" font-style="normal" fill="#0a0a0a" stroke="#0a0a0a" stroke-width="0.16" >WM vs</text>
<text x="246.30" y="58.50" font-size="6.80" text-anchor="start" font-weight="normal" font-style="normal" fill="#0a0a0a" stroke="#0a0a0a" stroke-width="0.16" >Healthy</text>
<defs><clipPath id="vc1"><circle cx="461.00" cy="51.90" r="24.80"/></clipPath></defs>
<circle cx="461.00" cy="51.90" r="24.80" fill="#d98ea2"/>
<circle cx="481.10" cy="52.00" r="25.00" fill="#a7b5cc"/>
<circle cx="481.10" cy="52.00" r="25.00" fill="#947a9b" clip-path="url(#vc1)"/>
<text x="446.10" y="54.40" font-size="7.00" text-anchor="middle" font-weight="normal" font-style="normal" fill="#1a1a1a" stroke="#1a1a1a" stroke-width="0.16" >870</text>
<text x="471.10" y="54.40" font-size="7.00" text-anchor="middle" font-weight="normal" font-style="normal" fill="#1a1a1a" stroke="#1a1a1a" stroke-width="0.16" >54774</text>
<text x="495.80" y="54.40" font-size="7.00" text-anchor="middle" font-weight="normal" font-style="normal" fill="#1a1a1a" stroke="#1a1a1a" stroke-width="0.16" >1188</text>
<text x="375.20" y="50.10" font-size="6.80" text-anchor="start" font-weight="normal" font-style="normal" fill="#0a0a0a" stroke="#0a0a0a" stroke-width="0.16" >WM CD40L vs</text>
<text x="375.20" y="58.70" font-size="6.80" text-anchor="start" font-weight="normal" font-style="normal" fill="#0a0a0a" stroke="#0a0a0a" stroke-width="0.16" >Healthy CD40L</text>
<defs><clipPath id="vc2"><circle cx="307.40" cy="123.40" r="29.60"/></clipPath></defs>
<circle cx="307.40" cy="123.40" r="29.60" fill="#d98ea2"/>
<circle cx="331.00" cy="123.30" r="29.00" fill="#a7b5cc"/>
<circle cx="331.00" cy="123.30" r="29.00" fill="#947a9b" clip-path="url(#vc2)"/>
<text x="290.30" y="125.40" font-size="7.00" text-anchor="middle" font-weight="normal" font-style="normal" fill="#1a1a1a" stroke="#1a1a1a" stroke-width="0.16" >1936</text>
<text x="319.60" y="125.40" font-size="7.00" text-anchor="middle" font-weight="normal" font-style="normal" fill="#1a1a1a" stroke="#1a1a1a" stroke-width="0.16" >53009</text>
<text x="347.90" y="125.40" font-size="7.00" text-anchor="middle" font-weight="normal" font-style="normal" fill="#1a1a1a" stroke="#1a1a1a" stroke-width="0.16" >1887</text>
<text x="247.10" y="122.10" font-size="6.80" text-anchor="start" font-weight="normal" font-style="normal" fill="#0a0a0a" stroke="#0a0a0a" stroke-width="0.16" >R848 vs</text>
<text x="247.10" y="130.20" font-size="6.80" text-anchor="start" font-weight="normal" font-style="normal" fill="#0a0a0a" stroke="#0a0a0a" stroke-width="0.16" >CD40L</text>
<defs><clipPath id="vc3"><circle cx="461.50" cy="123.40" r="34.00"/></clipPath></defs>
<circle cx="461.50" cy="123.40" r="34.00" fill="#d98ea2"/>
<circle cx="489.30" cy="123.40" r="23.00" fill="#a7b5cc"/>
<circle cx="489.30" cy="123.40" r="23.00" fill="#947a9b" clip-path="url(#vc3)"/>
<text x="447.50" y="126.00" font-size="7.00" text-anchor="middle" font-weight="normal" font-style="normal" fill="#1a1a1a" stroke="#1a1a1a" stroke-width="0.16" >3740</text>
<text x="480.30" y="126.00" font-size="7.00" text-anchor="middle" font-weight="normal" font-style="normal" fill="#1a1a1a" stroke="#1a1a1a" stroke-width="0.16" >52657</text>
<text x="504.20" y="126.00" font-size="7.00" text-anchor="middle" font-weight="normal" font-style="normal" fill="#1a1a1a" stroke="#1a1a1a" stroke-width="0.16" >435</text>
<text x="375.20" y="120.90" font-size="6.80" text-anchor="start" font-weight="normal" font-style="normal" fill="#0a0a0a" stroke="#0a0a0a" stroke-width="0.16" >WM R848 vs</text>
<text x="375.20" y="129.50" font-size="6.80" text-anchor="start" font-weight="normal" font-style="normal" fill="#0a0a0a" stroke="#0a0a0a" stroke-width="0.16" >Healthy R848</text>
<defs><clipPath id="vc4"><circle cx="311.40" cy="192.80" r="23.70"/></clipPath></defs>
<circle cx="311.40" cy="192.80" r="23.70" fill="#d98ea2"/>
<circle cx="326.40" cy="193.00" r="24.20" fill="#a7b5cc"/>
<circle cx="326.40" cy="193.00" r="24.20" fill="#947a9b" clip-path="url(#vc4)"/>
<text x="295.00" y="195.20" font-size="7.00" text-anchor="middle" font-weight="normal" font-style="normal" fill="#1a1a1a" stroke="#1a1a1a" stroke-width="0.16" >489</text>
<text x="318.30" y="195.20" font-size="7.00" text-anchor="middle" font-weight="normal" font-style="normal" fill="#1a1a1a" stroke="#1a1a1a" stroke-width="0.16" >55693</text>
<text x="342.90" y="195.20" font-size="7.00" text-anchor="middle" font-weight="normal" font-style="normal" fill="#1a1a1a" stroke="#1a1a1a" stroke-width="0.16" >650</text>
<text x="246.30" y="187.00" font-size="6.80" text-anchor="start" font-weight="normal" font-style="normal" fill="#0a0a0a" stroke="#0a0a0a" stroke-width="0.16" >Healthy</text>
<text x="246.30" y="195.00" font-size="6.80" text-anchor="start" font-weight="normal" font-style="normal" fill="#0a0a0a" stroke="#0a0a0a" stroke-width="0.16" >only R848</text>
<text x="246.30" y="203.10" font-size="6.80" text-anchor="start" font-weight="normal" font-style="normal" fill="#0a0a0a" stroke="#0a0a0a" stroke-width="0.16" >vs CD40L</text>
<defs><clipPath id="vc5"><circle cx="456.00" cy="192.90" r="26.50"/></clipPath></defs>
<circle cx="456.00" cy="192.90" r="26.50" fill="#d98ea2"/>
<circle cx="482.10" cy="192.90" r="26.80" fill="#a7b5cc"/>
<circle cx="482.10" cy="192.90" r="26.80" fill="#947a9b" clip-path="url(#vc5)"/>
<text x="442.60" y="195.00" font-size="7.00" text-anchor="middle" font-weight="normal" font-style="normal" fill="#1a1a1a" stroke="#1a1a1a" stroke-width="0.16" >1472</text>
<text x="468.90" y="195.00" font-size="7.00" text-anchor="middle" font-weight="normal" font-style="normal" fill="#1a1a1a" stroke="#1a1a1a" stroke-width="0.16" >53836</text>
<text x="495.50" y="195.00" font-size="7.00" text-anchor="middle" font-weight="normal" font-style="normal" fill="#1a1a1a" stroke="#1a1a1a" stroke-width="0.16" >1524</text>
<text x="375.20" y="187.10" font-size="6.80" text-anchor="start" font-weight="normal" font-style="normal" fill="#0a0a0a" stroke="#0a0a0a" stroke-width="0.16" >WM only</text>
<text x="375.20" y="195.20" font-size="6.80" text-anchor="start" font-weight="normal" font-style="normal" fill="#0a0a0a" stroke="#0a0a0a" stroke-width="0.16" >R848 vs</text>
<text x="375.20" y="203.30" font-size="6.80" text-anchor="start" font-weight="normal" font-style="normal" fill="#0a0a0a" stroke="#0a0a0a" stroke-width="0.16" >CD40L</text>
<text x="237.20" y="247.00" font-size="12.20" text-anchor="start" font-weight="bold" font-style="normal" fill="#000" stroke="#000" stroke-width="0.16" >C</text>
<text x="258.10" y="251.60" font-size="6.80" text-anchor="start" font-weight="normal" font-style="normal" fill="#0a0a0a" stroke="#0a0a0a" stroke-width="0.16" >CD40L</text>
<text x="353.40" y="257.50" font-size="6.80" text-anchor="start" font-weight="normal" font-style="italic" fill="#0a0a0a" stroke="#0a0a0a" stroke-width="0.16" >POUAF1</text>
<text x="353.40" y="265.60" font-size="6.80" text-anchor="start" font-weight="normal" font-style="normal" fill="#0a0a0a" stroke="#0a0a0a" stroke-width="0.16" >OCT2</text>
<text x="353.40" y="273.70" font-size="6.80" text-anchor="start" font-weight="normal" font-style="normal" fill="#0a0a0a" stroke="#0a0a0a" stroke-width="0.16" >STAT3</text>
<line x1="360.00" y1="276.90" x2="360.00" y2="291.20" stroke="#000" stroke-width="1.6" stroke-dasharray="3.4 2.2"/><path d="M360.00 297.20 L356.80 289.00 L360.00 290.20 L363.20 289.00 Z" fill="#000"/>
<text x="306.50" y="276.30" font-size="6.80" text-anchor="middle" font-weight="normal" font-style="normal" fill="#0a0a0a" stroke="#0a0a0a" stroke-width="0.16" >MITF</text>
<path d="M306.5 281.2 V294.6 M304.4 294.6 H308.6" stroke="#555" stroke-width="0.7" fill="none"/>
<text x="248.10" y="305.20" font-size="6.80" text-anchor="start" font-weight="normal" font-style="normal" fill="#0a0a0a" stroke="#0a0a0a" stroke-width="0.16" >NF-κB</text>
<line x1="270.50" y1="302.70" x2="289.40" y2="302.70" stroke="#000" stroke-width="1.40"/><path d="M295.40 302.70 L287.20 299.50 L288.40 302.70 L287.20 305.90 Z" fill="#000"/>
<text x="306.20" y="305.20" font-size="6.80" text-anchor="middle" font-weight="normal" font-style="normal" fill="#0a0a0a" stroke="#0a0a0a" stroke-width="0.16" >IRF4</text>
<line x1="316.80" y1="302.70" x2="338.30" y2="302.70" stroke="#000" stroke-width="1.40"/><path d="M344.30 302.70 L336.10 299.50 L337.30 302.70 L336.10 305.90 Z" fill="#000"/>
<text x="348.20" y="305.20" font-size="6.80" text-anchor="start" font-weight="normal" font-style="italic" fill="#0a0a0a" stroke="#0a0a0a" stroke-width="0.16" >PRDM1</text>
<path d="M374.8 300.30 H398.6 M374.8 297.30 V302.90" stroke="#000" stroke-width="1.7" fill="none"/>
<path d="M375.2 304.90 H398.6" stroke="#666" stroke-width="0.8" stroke-dasharray="1.6 1.2" fill="none"/>
<path d="M398.6 302.50 V306.10" stroke="#666" stroke-width="0.8" fill="none"/>
<text x="402.50" y="296.80" font-size="6.80" text-anchor="start" font-weight="normal" font-style="normal" fill="#333" stroke="#333" stroke-width="0.16" >SPIB</text>
<text x="402.50" y="305.10" font-size="6.90" text-anchor="start" font-weight="bold" font-style="normal" fill="#000" stroke="#000" stroke-width="0.16" >BACH2</text>
<text x="402.50" y="313.60" font-size="6.80" text-anchor="start" font-weight="normal" font-style="normal" fill="#444" stroke="#444" stroke-width="0.16" >BCL6</text>
<line x1="452.30" y1="311.10" x2="433.40" y2="311.10" stroke="#000" stroke-width="1.40"/><path d="M427.40 311.10 L435.60 307.90 L434.40 311.10 L435.60 314.30 Z" fill="#000"/>
<text x="455.70" y="313.60" font-size="6.80" text-anchor="start" font-weight="normal" font-style="normal" fill="#222" stroke="#222" stroke-width="0.16" >IRF8</text>
<path d="M306.9 310.3 V322.20 H414.0 V315.0 M411.0 315.0 H417.0" stroke="#3a3a3a" stroke-width="0.8" fill="none"/>
<text x="261.20" y="350.90" font-size="6.80" text-anchor="start" font-weight="normal" font-style="normal" fill="#0a0a0a" stroke="#0a0a0a" stroke-width="0.16" >R848</text>
<text x="353.40" y="348.30" font-size="6.80" text-anchor="start" font-weight="normal" font-style="italic" fill="#0a0a0a" stroke="#0a0a0a" stroke-width="0.16" >POUAF1</text>
<text x="353.40" y="356.40" font-size="6.80" text-anchor="start" font-weight="normal" font-style="normal" fill="#0a0a0a" stroke="#0a0a0a" stroke-width="0.16" >OCT2</text>
<text x="353.40" y="364.50" font-size="6.80" text-anchor="start" font-weight="normal" font-style="normal" fill="#0a0a0a" stroke="#0a0a0a" stroke-width="0.16" >STAT3</text>
<line x1="360.00" y1="369.50" x2="360.00" y2="383.80" stroke="#000" stroke-width="1.6" stroke-dasharray="3.4 2.2"/><path d="M360.00 389.80 L356.80 381.60 L360.00 382.80 L363.20 381.60 Z" fill="#000"/>
<text x="306.60" y="370.40" font-size="7.20" text-anchor="middle" font-weight="bold" font-style="normal" fill="#000" stroke="#000" stroke-width="0.16" >MITF</text>
<path d="M306.9 375.1 V389.2 M303.9 389.2 H309.9" stroke="#000" stroke-width="1.5" fill="none"/>
<text x="248.10" y="397.80" font-size="6.80" text-anchor="start" font-weight="normal" font-style="normal" fill="#0a0a0a" stroke="#0a0a0a" stroke-width="0.16" >NF-κB</text>
<line x1="270.50" y1="395.30" x2="289.40" y2="395.30" stroke="#000" stroke-width="1.40"/><path d="M295.40 395.30 L287.20 392.10 L288.40 395.30 L287.20 398.50 Z" fill="#000"/>
<text x="306.20" y="397.80" font-size="6.80" text-anchor="middle" font-weight="normal" font-style="italic" fill="#0a0a0a" stroke="#0a0a0a" stroke-width="0.16" >IRF4</text>
<line x1="316.80" y1="395.30" x2="338.30" y2="395.30" stroke="#000" stroke-width="1.40"/><path d="M344.30 395.30 L336.10 392.10 L337.30 395.30 L336.10 398.50 Z" fill="#000"/>
<text x="348.20" y="397.80" font-size="6.80" text-anchor="start" font-weight="normal" font-style="italic" fill="#0a0a0a" stroke="#0a0a0a" stroke-width="0.16" >PRDM1</text>
<path d="M374.8 392.90 H398.6 M374.8 389.90 V395.50" stroke="#000" stroke-width="1.7" fill="none"/>
<path d="M375.2 397.50 H398.6" stroke="#666" stroke-width="0.8" stroke-dasharray="1.6 1.2" fill="none"/>
<path d="M398.6 395.10 V398.70" stroke="#666" stroke-width="0.8" fill="none"/>
<text x="402.50" y="389.40" font-size="7.10" text-anchor="start" font-weight="bold" font-style="normal" fill="#000" stroke="#000" stroke-width="0.16" >SPIB</text>
<text x="402.50" y="397.70" font-size="6.90" text-anchor="start" font-weight="bold" font-style="normal" fill="#000" stroke="#000" stroke-width="0.16" >BACH2</text>
<text x="402.50" y="406.20" font-size="6.80" text-anchor="start" font-weight="normal" font-style="normal" fill="#444" stroke="#444" stroke-width="0.16" >BCL6</text>
<line x1="452.30" y1="403.70" x2="433.40" y2="403.70" stroke="#000" stroke-width="1.40"/><path d="M427.40 403.70 L435.60 400.50 L434.40 403.70 L435.60 406.90 Z" fill="#000"/>
<text x="455.70" y="406.20" font-size="7.20" text-anchor="start" font-weight="bold" font-style="normal" fill="#000" stroke="#000" stroke-width="0.16" >IRF8</text>
<path d="M306.5 407 V415.80 H414.0 V408.2" stroke="#333" stroke-width="0.8" stroke-dasharray="2.2 1.4" fill="none"/><path d="M411.2 408.2 H416.8" stroke="#333" stroke-width="0.8" fill="none"/>
</svg>
</div></body></html>
